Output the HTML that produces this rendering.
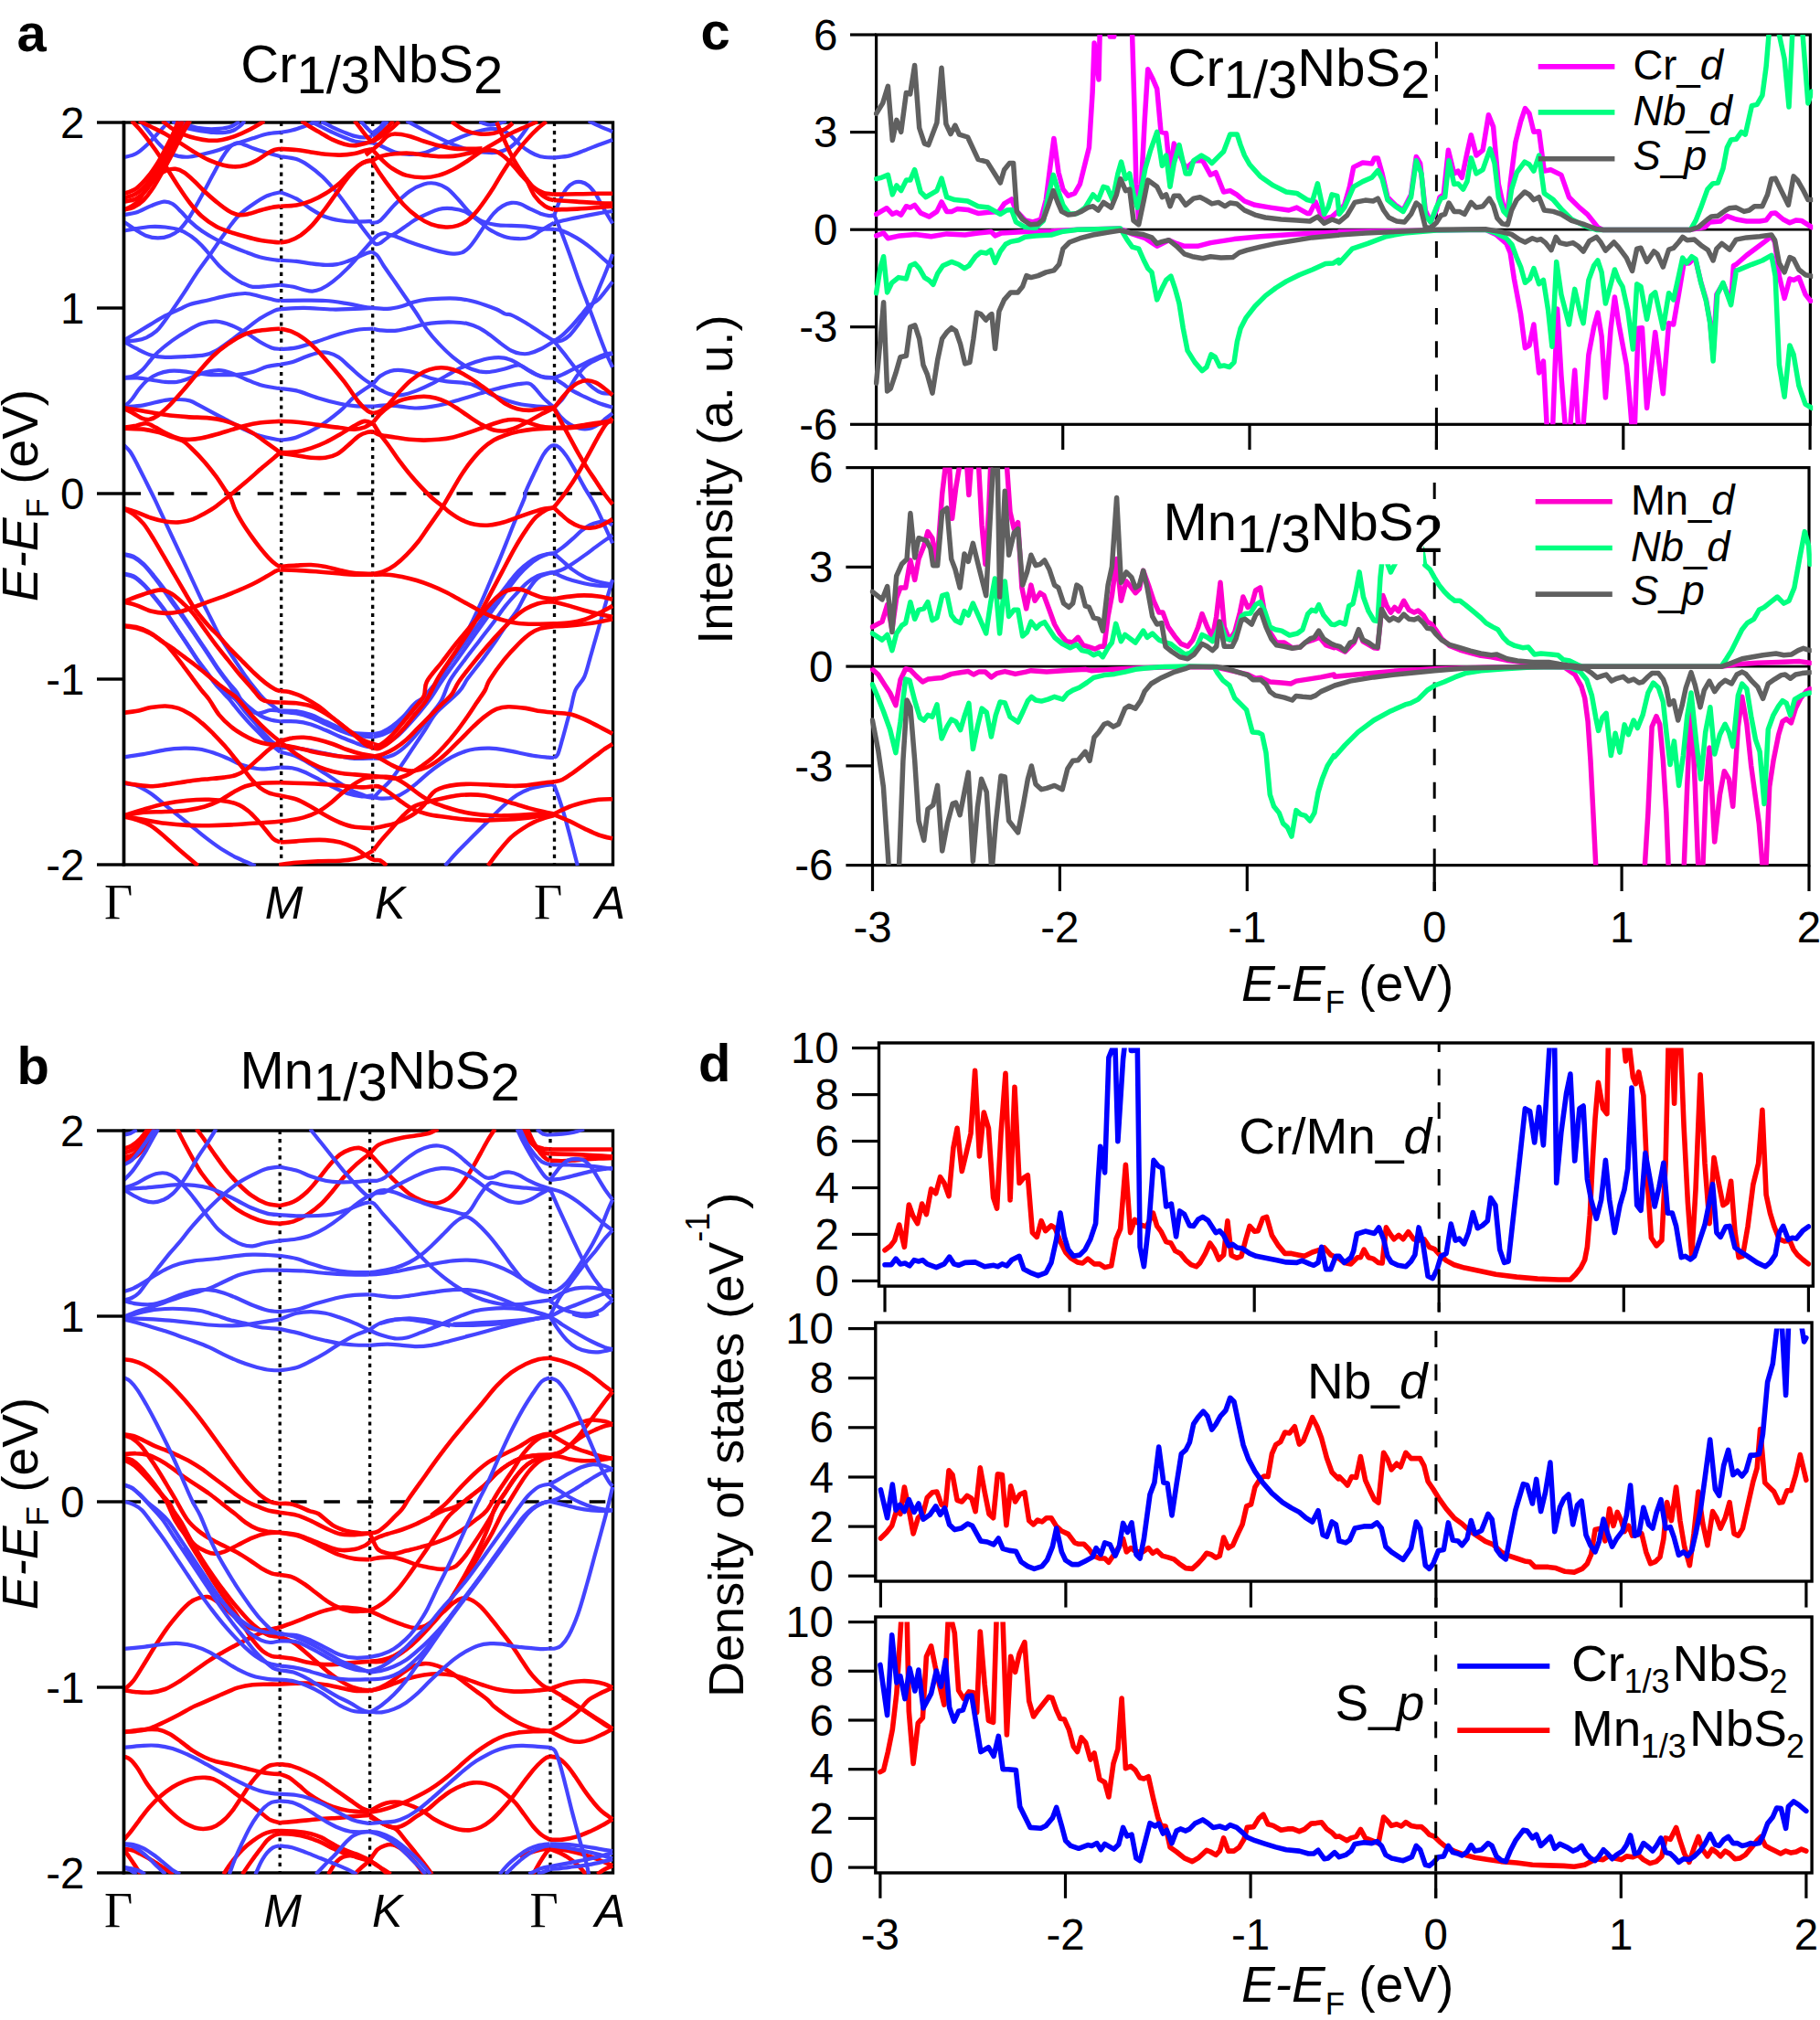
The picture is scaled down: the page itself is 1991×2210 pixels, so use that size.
<!DOCTYPE html>
<html><head><meta charset="utf-8"><title>Band structure and DOS</title>
<style>html,body{margin:0;padding:0;background:#fff}svg{display:block}</style></head>
<body><svg xmlns="http://www.w3.org/2000/svg" width="1991" height="2210" viewBox="0 0 1991 2210">
<rect width="1991" height="2210" fill="#fff"/>
<rect x="135.5" y="134" width="535.0" height="812" fill="none" stroke="#000" stroke-width="3.4"/>
<line x1="307.7" y1="134.0" x2="307.7" y2="946.0" stroke="#000" stroke-width="3.3" stroke-dasharray="4.1 5"/>
<line x1="407.7" y1="134.0" x2="407.7" y2="946.0" stroke="#000" stroke-width="3.3" stroke-dasharray="4.1 5"/>
<line x1="606.5" y1="134.0" x2="606.5" y2="946.0" stroke="#000" stroke-width="3.3" stroke-dasharray="4.1 5"/>
<line x1="136.5" y1="540.0" x2="670.5" y2="540.0" stroke="#000" stroke-width="3.6" stroke-dasharray="17.6 18.7"/>
<clipPath id="clipa"><rect x="135.0" y="132.6" width="537.0" height="814.9"/></clipPath>
<g clip-path="url(#clipa)" fill="none" stroke-linecap="butt" stroke-linejoin="round">
<path d="M135.8,172.2C138.0,171.5 144.6,170.4 148.9,168.0C153.2,165.6 157.7,161.4 161.6,157.7C165.6,153.9 169.6,149.2 172.8,145.7C176.0,142.3 178.8,139.2 180.8,137.0C182.8,134.7 184.1,133.0 184.8,132.2" stroke="#4444ff" stroke-width="4.2"/>
<path d="M153.7,132.2C155.0,133.9 158.5,138.5 161.6,142.5C164.8,146.5 169.1,152.1 172.8,156.1C176.5,160.1 180.2,164.0 184.0,166.4C187.7,168.9 191.1,170.0 195.1,170.9C199.1,171.7 203.1,172.0 207.9,171.5C212.6,171.1 218.5,169.6 223.8,168.3C229.1,167.1 234.9,165.6 239.7,164.0C244.5,162.5 249.0,160.5 252.5,159.3C255.9,158.0 256.5,157.9 260.4,156.5C264.4,155.2 271.1,153.0 276.4,151.3C281.7,149.6 287.3,147.6 292.3,146.5C297.4,145.4 304.3,145.2 306.6,144.9" stroke="#4444ff" stroke-width="4.2"/>
<path d="M306.6,144.9C308.8,144.5 315.1,143.6 319.4,142.5C323.6,141.5 328.2,139.9 332.1,138.5C336.1,137.2 340.4,135.3 343.3,134.2C346.2,133.2 348.6,132.5 349.7,132.2" stroke="#4444ff" stroke-width="4.2"/>
<path d="M135.8,242.9C138.0,244.4 144.9,249.2 148.9,251.7C152.9,254.2 156.1,256.6 160.1,258.0C164.0,259.5 168.6,260.4 172.8,260.4C177.1,260.4 181.6,259.6 185.5,258.0C189.5,256.5 193.0,254.5 196.7,250.9C200.4,247.3 203.9,242.6 207.9,236.5C211.8,230.4 216.4,221.9 220.6,214.2C224.9,206.5 229.6,197.2 233.4,190.3C237.1,183.4 240.0,177.6 242.9,172.8C245.8,168.0 248.5,164.3 250.9,161.6C253.3,159.0 255.1,157.7 257.3,156.9C259.4,156.1 261.8,156.5 263.6,156.9C265.5,157.2 265.0,157.5 268.4,158.8C271.9,160.1 278.0,162.8 284.3,164.8C290.7,166.9 302.9,170.1 306.6,171.2" stroke="#4444ff" stroke-width="4.2"/>
<path d="M306.6,171.2C309.6,171.7 319.1,172.5 324.2,174.1C329.2,175.7 332.1,177.5 336.9,180.8C341.7,184.0 347.5,188.5 352.9,193.5C358.2,198.6 363.7,204.9 368.8,211.0C373.8,217.2 378.6,223.9 383.1,230.2C387.6,236.4 391.8,243.0 395.9,248.5C399.9,254.0 405.4,260.8 407.4,263.3" stroke="#4444ff" stroke-width="4.2"/>
<path d="M407.4,263.3C408.0,263.9 409.6,266.5 411.0,267.0C412.4,267.4 413.8,267.2 415.9,266.0C418.1,264.8 421.6,261.4 423.9,260.0C426.2,258.6 425.8,256.9 429.5,257.6C433.2,258.2 440.3,261.9 446.0,263.9C451.8,266.0 458.1,268.2 463.7,270.0C469.4,271.8 474.7,273.7 480.0,274.9C485.3,276.2 491.4,277.4 495.6,277.6C499.8,277.9 502.2,277.5 505.2,276.4C508.1,275.2 510.5,273.5 513.1,270.8C515.8,268.1 518.2,264.6 521.1,260.4C524.0,256.3 527.5,250.6 530.7,246.1C533.8,241.6 537.0,236.8 540.2,233.4C543.4,229.9 546.6,227.3 549.8,225.4C553.0,223.5 556.2,222.3 559.3,221.9C562.5,221.5 565.4,221.9 568.9,223.0C572.4,224.1 576.3,226.8 580.1,228.6C583.8,230.4 587.8,232.4 591.2,233.7C594.7,234.9 598.3,235.8 600.8,236.1C603.2,236.4 605.2,235.5 606.0,235.4" stroke="#4444ff" stroke-width="4.2"/>
<path d="M135.8,234.9C138.0,234.5 144.1,234.1 148.9,232.6C153.7,231.0 159.8,227.4 164.8,225.4C169.9,223.4 175.2,221.0 179.2,220.6C183.2,220.2 185.5,221.1 188.7,223.0C191.9,224.9 195.1,228.6 198.3,231.8C201.5,234.9 204.1,238.7 207.9,242.1C211.6,245.6 215.8,249.2 220.6,252.5C225.4,255.8 231.2,259.2 236.5,262.0C241.8,264.8 247.2,266.9 252.5,269.2C257.8,271.5 263.1,273.6 268.4,275.6C273.7,277.6 279.0,279.7 284.3,281.2C289.7,282.6 296.6,283.7 300.3,284.3C304.0,285.0 305.6,284.7 306.6,284.8" stroke="#4444ff" stroke-width="4.2"/>
<path d="M306.6,284.8C309.6,285.0 318.6,285.3 324.2,285.9C329.8,286.5 334.8,287.7 340.1,288.3C345.4,289.0 351.3,289.8 356.0,289.9C360.8,290.1 364.8,289.8 368.8,289.1C372.8,288.5 376.1,287.3 379.9,285.9C383.8,284.6 388.7,282.4 392.1,281.0C395.4,279.6 397.5,278.4 400.0,277.5C402.5,276.6 405.9,275.8 407.0,275.4" stroke="#4444ff" stroke-width="4.2"/>
<path d="M407.0,275.4C408.0,276.2 410.9,277.4 413.1,280.0C415.2,282.6 417.0,286.7 419.9,291.0C422.8,295.3 426.9,301.0 430.3,305.9C433.6,310.7 437.1,315.8 440.0,320.0C442.9,324.3 445.2,327.5 447.8,331.3C450.4,335.2 452.6,338.1 455.8,343.0C459.0,347.8 462.9,355.1 466.9,360.5C470.9,365.9 474.9,370.6 479.7,375.6C484.5,380.7 490.3,386.4 495.6,390.8C500.9,395.2 506.8,399.3 511.5,401.9C516.3,404.5 520.3,405.5 524.3,406.4C528.3,407.2 530.9,407.4 535.4,407.0C540.0,406.6 546.1,405.1 551.4,403.8C556.7,402.6 562.8,399.3 567.3,399.5C571.8,399.7 574.5,403.1 578.5,405.1C582.4,407.1 586.6,410.1 591.2,411.5C595.8,412.9 603.6,413.1 606.0,413.4" stroke="#4444ff" stroke-width="4.2"/>
<path d="M135.8,252.5C138.0,252.1 144.1,250.8 148.9,250.1C153.7,249.3 159.5,248.3 164.8,248.0C170.1,247.7 175.5,247.9 180.8,248.5C186.1,249.1 191.9,249.9 196.7,251.7C201.5,253.4 205.5,256.1 209.5,258.8C213.4,261.6 217.2,265.0 220.6,268.4C224.1,271.9 227.0,275.8 230.2,279.6C233.4,283.3 236.0,287.0 239.7,290.7C243.4,294.4 248.2,298.7 252.5,301.9C256.7,305.1 261.2,307.8 265.2,309.8C269.2,311.8 271.9,313.3 276.4,313.8C280.9,314.3 287.3,313.4 292.3,313.0C297.4,312.7 304.3,312.0 306.6,311.7" stroke="#4444ff" stroke-width="4.2"/>
<path d="M306.6,311.7C309.0,312.1 316.7,312.9 321.0,313.8C325.2,314.7 328.7,316.2 332.1,317.0C335.6,317.8 338.5,318.7 341.7,318.6C344.9,318.5 347.5,317.9 351.3,316.2C355.0,314.5 359.2,312.0 364.0,308.2C368.8,304.5 374.8,299.1 379.9,293.9C385.1,288.7 390.5,282.2 395.1,277.0C399.7,271.9 405.3,265.3 407.4,263.0" stroke="#4444ff" stroke-width="4.2"/>
<path d="M407.4,263.0C408.3,262.1 410.8,258.9 413.1,257.6C415.3,256.2 418.3,255.1 421.0,255.0C423.8,254.9 425.3,258.4 429.5,256.9C433.6,255.4 441.5,248.9 446.0,245.9C450.6,242.9 451.4,241.7 457.0,238.9C462.7,236.1 473.6,230.8 480.0,229.0C486.4,227.3 490.9,227.9 495.6,228.3C500.3,228.7 504.1,229.5 508.4,231.4C512.6,233.4 516.6,236.5 521.1,239.7C525.6,243.0 530.4,247.7 535.4,250.9C540.5,254.1 546.1,257.1 551.4,258.8C556.7,260.6 562.5,261.1 567.3,261.2C572.1,261.4 576.1,261.1 580.1,259.6C584.0,258.2 586.9,255.1 591.2,252.5C595.5,249.8 603.6,245.2 606.0,243.7" stroke="#4444ff" stroke-width="4.2"/>
<path d="M606.0,243.7C608.9,243.0 617.6,240.9 623.1,239.7C628.6,238.5 633.7,237.6 639.0,236.5C644.3,235.5 649.8,234.3 654.9,233.4C660.1,232.4 667.6,231.4 670.1,231.0" stroke="#4444ff" stroke-width="4.2"/>
<path d="M135.8,373.2C138.0,373.1 144.9,373.1 148.9,372.4C152.9,371.8 156.3,371.0 160.1,369.3C163.8,367.5 168.0,364.9 171.2,362.1C174.4,359.3 176.5,356.0 179.2,352.5C181.8,349.1 183.4,346.8 187.1,341.4C190.9,336.0 197.0,327.0 201.5,320.2C206.0,313.3 209.5,307.3 214.2,300.3C219.0,293.2 225.1,285.1 230.2,278.0C235.2,270.8 239.5,264.2 244.5,257.3C249.6,250.3 255.1,242.1 260.4,236.5C265.8,231.0 271.1,227.5 276.4,223.8C281.7,220.1 287.3,216.5 292.3,214.2C297.4,212.0 304.3,210.9 306.6,210.2" stroke="#4444ff" stroke-width="4.2"/>
<path d="M306.6,210.2C309.6,211.4 318.6,214.4 324.2,217.4C329.8,220.5 334.8,225.3 340.1,228.6C345.4,231.9 350.7,235.2 356.0,237.3C361.4,239.5 366.7,240.4 372.0,241.3C377.3,242.2 382.1,242.5 387.9,242.6C393.8,242.7 403.8,242.2 407.0,242.1" stroke="#4444ff" stroke-width="4.2"/>
<path d="M407.0,242.1C407.1,242.4 405.7,243.8 407.2,243.7C408.7,243.6 411.8,244.6 415.9,241.3C420.1,238.0 426.6,229.1 431.9,223.8C437.2,218.5 442.5,213.2 447.8,209.5C453.1,205.7 459.0,202.9 463.7,201.5C468.5,200.0 472.2,199.9 476.5,200.7C480.7,201.5 485.0,203.2 489.2,206.3C493.5,209.3 497.7,214.5 502.0,219.0C506.2,223.5 510.5,229.5 514.7,233.4C519.0,237.2 522.7,240.0 527.5,242.1C532.3,244.2 538.1,245.3 543.4,246.1C548.7,246.9 554.0,246.6 559.3,246.9C564.7,247.2 570.0,247.2 575.3,247.7C580.6,248.2 586.1,249.6 591.2,250.1C596.3,250.6 603.6,250.7 606.0,250.9" stroke="#4444ff" stroke-width="4.2"/>
<path d="M606.0,250.9C607.5,251.1 610.9,250.9 615.1,252.5C619.3,254.1 625.7,257.3 631.0,260.4C636.4,263.6 641.9,267.6 647.0,271.6C652.0,275.6 657.5,280.9 661.3,284.3C665.2,287.8 668.6,291.0 670.1,292.3" stroke="#4444ff" stroke-width="4.2"/>
<path d="M135.8,372.0C138.0,370.7 144.1,367.3 148.9,364.5C153.7,361.6 159.5,358.1 164.8,354.9C170.1,351.7 175.5,348.1 180.8,345.4C186.1,342.6 192.2,340.3 196.7,338.2C201.2,336.1 202.5,334.6 207.9,332.9C213.2,331.3 221.7,329.8 228.6,328.2C235.5,326.6 242.6,324.6 249.3,323.4C255.9,322.2 262.6,320.9 268.4,321.0C274.2,321.1 279.0,323.0 284.3,324.2C289.7,325.4 296.6,327.4 300.3,328.2C304.0,329.0 305.6,328.8 306.6,329.0" stroke="#4444ff" stroke-width="4.2"/>
<path d="M306.6,329.0C310.9,328.9 323.9,328.6 332.1,328.6C340.4,328.6 348.1,328.4 356.0,329.0C364.0,329.5 373.3,331.1 379.9,332.1C386.6,333.2 391.4,334.5 395.9,335.3C400.4,336.1 405.2,336.7 407.0,336.9" stroke="#4444ff" stroke-width="4.2"/>
<path d="M407.0,336.9C409.8,337.1 418.4,338.2 423.9,337.9C429.4,337.6 435.1,336.2 439.8,335.0C444.6,333.8 448.1,331.8 452.6,330.5C457.1,329.3 461.9,328.3 466.9,327.7C472.0,327.0 477.5,326.8 482.9,326.6C488.2,326.4 493.5,326.2 498.8,326.6C504.1,327.0 509.4,327.8 514.7,329.0C520.0,330.2 525.9,332.1 530.7,333.7C535.4,335.3 539.7,336.9 543.4,338.5C547.1,340.2 550.3,342.6 553.0,343.6C555.6,344.6 555.6,342.9 559.3,344.6C563.1,346.2 570.0,350.1 575.3,353.3C580.6,356.5 586.1,360.4 591.2,363.7C596.3,367.0 603.6,371.6 606.0,373.2" stroke="#4444ff" stroke-width="4.2"/>
<path d="M135.8,374.0C138.0,375.2 144.1,378.8 148.9,381.2C153.7,383.6 159.5,386.8 164.8,388.4C170.1,390.0 174.1,390.5 180.8,390.8C187.4,391.0 197.5,390.4 204.7,390.0C211.8,389.6 218.5,389.4 223.8,388.4C229.1,387.3 231.8,386.3 236.5,383.6C241.3,380.9 247.2,376.3 252.5,372.4C257.8,368.6 263.1,364.5 268.4,360.5C273.7,356.5 279.0,352.0 284.3,348.5C289.7,345.1 296.6,341.5 300.3,339.8C304.0,338.1 305.6,338.5 306.6,338.2" stroke="#4444ff" stroke-width="4.2"/>
<path d="M306.6,338.2C310.9,338.0 322.6,336.9 332.1,336.9C341.7,337.0 354.7,338.3 364.0,338.5C373.3,338.7 380.5,338.1 387.9,337.9C395.3,337.6 405.2,337.1 408.6,336.9" stroke="#4444ff" stroke-width="4.2"/>
<path d="M188.7,132.2C190.1,133.1 193.5,136.3 196.7,137.7C199.9,139.2 203.9,140.0 207.9,140.9C211.8,141.9 216.4,142.7 220.6,143.3C224.9,144.0 229.1,144.7 233.4,144.9C237.6,145.2 242.4,145.3 246.1,144.9C249.8,144.5 252.7,143.9 255.7,142.5C258.6,141.2 261.6,138.7 263.6,137.0C265.6,135.2 266.9,133.0 267.6,132.2" stroke="#4444ff" stroke-width="4.2"/>
<path d="M195.1,132.2C197.2,133.1 203.1,136.3 207.9,137.7C212.6,139.2 218.5,140.4 223.8,140.9C229.1,141.5 234.9,141.3 239.7,140.9C244.5,140.5 248.8,139.9 252.5,138.5C256.2,137.2 260.4,133.9 262.0,133.0" stroke="#4444ff" stroke-width="4.2"/>
<path d="M340.1,133.0C342.0,133.9 347.3,136.6 351.3,138.5C355.2,140.5 359.8,142.9 364.0,144.9C368.3,146.9 372.8,148.9 376.8,150.5C380.7,152.1 384.2,153.5 387.9,154.5C391.6,155.4 395.9,155.8 399.1,156.1C402.3,156.3 405.7,156.1 407.0,156.1" stroke="#4444ff" stroke-width="4.2"/>
<path d="M407.0,156.1C408.5,156.6 411.8,157.5 415.9,159.3C420.1,161.0 426.6,164.8 431.9,166.4C437.2,168.0 442.5,168.7 447.8,168.8C453.1,169.0 458.4,168.6 463.7,167.2C469.0,165.9 474.4,163.1 479.7,160.9C485.0,158.6 490.3,155.9 495.6,153.7C500.9,151.4 506.2,149.2 511.5,147.3C516.8,145.4 523.0,143.6 527.5,142.5C532.0,141.5 534.9,140.9 538.6,140.9C542.3,140.9 546.3,141.2 549.8,142.5C553.2,143.9 556.2,146.2 559.3,148.9C562.5,151.6 565.4,155.5 568.9,158.5C572.4,161.4 576.3,164.3 580.1,166.4C583.8,168.6 586.9,170.2 591.2,171.2C595.5,172.2 603.6,172.3 606.0,172.5" stroke="#4444ff" stroke-width="4.2"/>
<path d="M606.0,172.5C608.9,172.1 617.6,171.7 623.1,170.4C628.6,169.1 633.7,166.8 639.0,164.8C644.3,162.8 649.8,160.5 654.9,158.5C660.1,156.5 667.6,153.8 670.1,152.9" stroke="#4444ff" stroke-width="4.2"/>
<path d="M351.3,133.0C353.4,134.0 359.8,137.3 364.0,139.3C368.3,141.3 372.8,143.3 376.8,144.9C380.7,146.5 384.2,148.0 387.9,148.9C391.6,149.8 395.9,150.5 399.1,150.5C402.3,150.5 405.7,149.2 407.0,148.9" stroke="#4444ff" stroke-width="4.2"/>
<path d="M407.0,148.9C408.5,147.8 413.1,145.3 415.9,142.5C418.7,139.7 422.6,133.9 423.9,132.2" stroke="#4444ff" stroke-width="4.2"/>
<path d="M394.3,132.2C395.6,133.6 400.1,138.7 402.3,140.9C404.4,143.2 406.2,144.9 407.0,145.7" stroke="#4444ff" stroke-width="4.2"/>
<path d="M407.0,145.7C408.5,144.7 413.7,141.6 415.9,139.3C418.2,137.1 419.9,133.4 420.7,132.2" stroke="#4444ff" stroke-width="4.2"/>
<path d="M444.6,132.2C447.8,133.9 457.4,139.2 463.7,142.5C470.1,145.8 477.0,149.3 482.9,152.1C488.7,154.9 493.5,157.2 498.8,159.3C504.1,161.3 509.4,163.3 514.7,164.5C520.0,165.8 525.9,166.4 530.7,166.7C535.4,167.1 539.2,167.5 543.4,166.7C547.7,166.0 552.4,164.5 556.2,162.4C559.9,160.4 562.8,157.5 565.7,154.5C568.6,151.4 571.3,147.4 573.7,144.1C576.1,140.8 578.7,136.6 580.1,134.6C581.4,132.6 581.4,132.6 581.6,132.2" stroke="#4444ff" stroke-width="4.2"/>
<path d="M524.3,133.0C526.1,133.6 531.7,136.2 535.4,136.5C539.2,136.8 543.5,135.6 546.6,134.9C549.6,134.2 552.6,132.6 553.8,132.2" stroke="#4444ff" stroke-width="4.2"/>
<path d="M643.8,132.2C645.7,133.1 650.6,135.8 654.9,137.7C659.3,139.7 667.6,143.1 670.1,144.1" stroke="#4444ff" stroke-width="4.2"/>
<path d="" stroke="#4444ff" stroke-width="4.2"/>
<path d="M606.0,236.5C607.0,233.9 609.6,225.7 611.9,220.6C614.2,215.6 617.2,209.7 619.9,206.3C622.5,202.8 625.2,201.1 627.9,199.9C630.5,198.7 633.2,198.6 635.8,199.1C638.5,199.6 641.1,200.8 643.8,203.1C646.4,205.3 649.1,208.7 651.8,212.6C654.4,216.6 656.7,221.7 659.7,227.0C662.8,232.3 668.4,241.6 670.1,244.5" stroke="#4444ff" stroke-width="4.2"/>
<path d="" stroke="#4444ff" stroke-width="4.2"/>
<path d="M606.0,234.9C607.3,237.9 610.7,245.3 613.5,252.5C616.4,259.6 619.9,269.2 623.1,278.0C626.3,286.7 629.5,296.3 632.6,305.1C635.8,313.8 639.5,323.4 642.2,330.5C644.9,337.7 646.4,342.0 648.6,347.7C650.7,353.5 652.6,358.9 654.9,365.3C657.3,371.6 660.4,379.9 662.9,386.0C665.4,392.1 668.9,399.3 670.1,401.9" stroke="#4444ff" stroke-width="4.2"/>
<path d="M135.8,413.1C137.5,412.8 142.5,412.8 145.7,411.5C149.0,410.2 152.1,408.0 155.3,405.1C158.5,402.2 161.9,397.3 164.8,394.0C167.8,390.6 168.8,388.8 172.8,385.2C176.8,381.6 183.4,376.3 188.7,372.4C194.0,368.6 199.4,365.1 204.7,362.1C210.0,359.0 215.3,355.8 220.6,354.1C225.9,352.4 231.2,351.5 236.5,351.7C241.8,352.0 247.2,353.7 252.5,355.7C257.8,357.7 263.1,360.6 268.4,363.7C273.7,366.7 279.6,371.2 284.3,374.0C289.1,376.8 293.4,379.1 297.1,380.4C300.8,381.7 305.1,381.7 306.6,382.0" stroke="#4444ff" stroke-width="4.2"/>
<path d="M306.6,382.0C309.6,381.7 317.3,381.9 324.2,380.4C331.1,379.0 340.1,375.8 348.1,373.2C356.0,370.7 364.5,367.4 372.0,365.3C379.4,363.2 386.6,361.4 392.7,360.5C398.8,359.6 406.0,359.8 408.6,359.7" stroke="#4444ff" stroke-width="4.2"/>
<path d="M408.6,359.7C409.8,360.0 412.1,360.9 415.9,361.3C419.8,361.6 426.6,362.2 431.9,361.8C437.2,361.4 442.5,360.0 447.8,358.9C453.1,357.8 458.4,355.9 463.7,354.9C469.0,353.9 474.4,353.2 479.7,352.8C485.0,352.4 490.3,352.3 495.6,352.5C500.9,352.7 506.8,353.1 511.5,354.1C516.3,355.2 520.3,356.9 524.3,358.9C528.3,360.9 531.7,363.4 535.4,366.1C539.2,368.7 542.6,371.9 546.6,374.8C550.6,377.8 555.6,381.6 559.3,383.6C563.1,385.6 565.7,386.3 568.9,386.8C572.1,387.3 574.7,387.6 578.5,386.8C582.2,386.0 586.6,384.3 591.2,382.0C595.8,379.7 603.6,374.7 606.0,373.2" stroke="#4444ff" stroke-width="4.2"/>
<path d="M135.8,413.9C138.3,413.8 145.7,413.1 150.5,413.4C155.3,413.7 159.8,414.7 164.8,415.5C169.9,416.2 176.0,417.5 180.8,417.9C185.5,418.3 189.5,418.4 193.5,417.9C197.5,417.3 201.2,415.9 204.7,414.7C208.1,413.5 210.5,412.0 214.2,410.7C217.9,409.4 222.7,407.6 227.0,406.7C231.2,405.8 235.5,404.9 239.7,405.1C244.0,405.3 247.7,406.4 252.5,408.0C257.3,409.6 263.1,412.5 268.4,414.7C273.7,416.8 279.0,419.5 284.3,421.0C289.7,422.6 296.6,423.6 300.3,424.2C304.0,424.9 305.6,424.9 306.6,425.0" stroke="#4444ff" stroke-width="4.2"/>
<path d="M306.6,425.0C309.6,425.4 317.3,425.7 324.2,427.4C331.1,429.1 340.1,433.0 348.1,435.4C356.0,437.8 365.3,440.3 372.0,441.8C378.6,443.2 381.8,443.7 387.9,444.1C394.0,444.6 405.2,444.5 408.6,444.6" stroke="#4444ff" stroke-width="4.2"/>
<path d="M408.6,444.6C411.2,444.4 418.7,443.3 423.9,443.4C429.1,443.4 434.5,444.4 439.8,444.9C445.1,445.5 450.5,446.5 455.8,446.5C461.1,446.5 466.4,445.7 471.7,444.9C477.0,444.1 482.3,443.1 487.6,441.8C492.9,440.4 498.3,438.6 503.6,437.0C508.9,435.4 514.2,433.8 519.5,432.2C524.8,430.6 530.1,428.9 535.4,427.4C540.8,426.0 546.1,424.6 551.4,423.4C556.7,422.2 562.8,420.9 567.3,420.2C571.8,419.6 575.5,418.8 578.5,419.5C581.4,420.1 582.2,421.6 584.8,424.2C587.5,426.9 590.9,431.8 594.4,435.4C597.9,439.0 604.1,444.0 606.0,445.7" stroke="#4444ff" stroke-width="4.2"/>
<path d="M135.8,444.9C137.2,443.6 141.4,440.2 144.1,437.0C146.8,433.8 149.2,429.4 152.1,425.8C155.0,422.2 158.2,418.3 161.6,415.5C165.1,412.7 168.8,410.7 172.8,409.1C176.8,407.5 181.6,406.4 185.5,405.9C189.5,405.4 192.2,405.6 196.7,405.9C201.2,406.3 207.3,407.3 212.6,408.0C217.9,408.6 223.3,409.5 228.6,409.9C233.9,410.3 239.2,410.2 244.5,410.2C249.8,410.2 255.1,410.4 260.4,409.9C265.8,409.4 271.1,408.5 276.4,407.0C281.7,405.6 287.3,402.5 292.3,401.1C297.4,399.7 304.3,399.1 306.6,398.7" stroke="#4444ff" stroke-width="4.2"/>
<path d="M306.6,398.7C308.8,398.3 314.6,397.8 319.4,396.3C324.2,394.9 330.5,391.7 335.3,390.0C340.1,388.2 344.1,386.7 348.1,386.0C352.1,385.3 355.5,385.2 359.2,386.0C362.9,386.8 366.4,388.1 370.4,390.8C374.4,393.4 378.9,398.2 383.1,401.9C387.4,405.6 391.6,409.8 395.9,413.1C400.1,416.4 406.5,420.4 408.6,421.8" stroke="#4444ff" stroke-width="4.2"/>
<path d="M408.6,421.8C409.8,422.6 412.9,425.0 415.9,426.6C419.0,428.2 423.1,430.5 427.1,431.4C431.1,432.3 435.1,432.9 439.8,432.2C444.6,431.5 450.5,429.4 455.8,427.4C461.1,425.4 466.4,422.9 471.7,420.2C477.0,417.6 482.3,414.4 487.6,411.5C492.9,408.6 498.3,405.2 503.6,402.7C508.9,400.2 514.2,398.1 519.5,396.3C524.8,394.6 530.1,392.8 535.4,392.0C540.8,391.2 546.6,390.8 551.4,391.6C556.2,392.3 560.1,394.4 564.1,396.3C568.1,398.3 571.6,401.3 575.3,403.5C579.0,405.8 583.0,408.3 586.4,409.9C589.9,411.5 592.7,412.5 596.0,413.1C599.3,413.7 604.4,413.3 606.0,413.4" stroke="#4444ff" stroke-width="4.2"/>
<path d="M135.8,445.3C139.3,444.9 149.4,444.6 156.9,443.4C164.4,442.1 174.1,438.8 180.8,437.8C187.4,436.7 192.2,436.8 196.7,437.0C201.2,437.1 203.9,437.2 207.9,438.6C211.8,439.9 214.5,441.8 220.6,444.9C226.7,448.1 236.5,453.4 244.5,457.7C252.5,461.9 261.8,467.3 268.4,470.4C275.0,473.6 278.0,475.0 284.3,476.8C290.7,478.7 302.9,480.8 306.6,481.6" stroke="#4444ff" stroke-width="4.2"/>
<path d="M306.6,481.6C309.6,481.1 317.3,480.8 324.2,478.4C331.1,476.0 340.1,472.0 348.1,467.3C356.0,462.5 365.3,455.3 372.0,449.7C378.6,444.1 381.8,438.8 387.9,433.8C394.0,428.7 405.2,421.8 408.6,419.5" stroke="#4444ff" stroke-width="4.2"/>
<path d="M408.6,419.5C409.8,418.1 412.9,413.7 415.9,411.5C419.0,409.2 423.1,407.0 427.1,405.9C431.1,404.8 435.1,404.7 439.8,405.1C444.6,405.5 450.5,406.8 455.8,408.3C461.1,409.8 466.4,412.4 471.7,413.9C477.0,415.3 481.0,416.1 487.6,417.1C494.3,418.0 506.0,418.5 511.5,419.5C517.1,420.4 517.1,420.8 521.1,422.6C525.1,424.5 530.4,428.2 535.4,430.6C540.5,433.0 546.1,435.1 551.4,437.0C556.7,438.8 562.0,440.6 567.3,441.8C572.6,443.0 576.8,443.5 583.2,444.1C589.7,444.8 602.2,445.5 606.0,445.7" stroke="#4444ff" stroke-width="4.2"/>
<path d="" stroke="#4444ff" stroke-width="4.2"/>
<path d="M606.0,373.2C607.5,372.2 611.7,369.8 615.1,366.9C618.5,363.9 622.8,359.4 626.3,355.7C629.7,352.0 632.9,348.0 635.8,344.6C638.7,341.1 640.6,337.9 643.8,335.0C647.0,332.1 650.6,331.8 654.9,327.4C659.3,322.9 667.6,311.4 670.1,308.2" stroke="#4444ff" stroke-width="4.2"/>
<path d="" stroke="#4444ff" stroke-width="4.2"/>
<path d="M606.0,374.0C607.5,373.8 612.3,373.6 615.1,372.4C618.0,371.2 620.4,369.4 623.1,366.9C625.7,364.3 628.4,360.8 631.0,357.3C633.7,353.9 636.4,349.9 639.0,346.2C641.7,342.4 644.3,340.0 647.0,335.0C649.6,330.0 652.3,322.5 654.9,316.2C657.6,309.9 660.4,303.5 662.9,297.1C665.4,290.7 668.9,281.2 670.1,278.0" stroke="#4444ff" stroke-width="4.2"/>
<path d="" stroke="#4444ff" stroke-width="4.2"/>
<path d="M606.0,373.2C607.5,375.1 611.7,380.1 615.1,384.4C618.5,388.6 622.3,393.7 626.3,398.7C630.2,403.8 635.3,410.4 639.0,414.7C642.7,418.9 645.4,421.7 648.6,424.2C651.8,426.8 654.5,428.7 658.1,429.8C661.7,430.9 668.1,430.5 670.1,430.6" stroke="#4444ff" stroke-width="4.2"/>
<path d="" stroke="#4444ff" stroke-width="4.2"/>
<path d="M606.0,413.4C607.5,412.8 610.9,411.8 615.1,409.9C619.3,408.0 625.7,404.6 631.0,401.9C636.4,399.3 642.2,396.2 647.0,394.0C651.8,391.7 655.9,389.7 659.7,388.4C663.6,387.1 668.4,386.7 670.1,386.3" stroke="#4444ff" stroke-width="4.2"/>
<path d="" stroke="#4444ff" stroke-width="4.2"/>
<path d="M606.0,413.9C607.5,414.8 611.7,417.2 615.1,419.5C618.5,421.7 622.3,425.0 626.3,427.4C630.2,429.8 634.2,431.5 639.0,433.8C643.8,436.0 649.8,439.0 654.9,441.0C660.1,443.0 667.6,444.9 670.1,445.7" stroke="#4444ff" stroke-width="4.2"/>
<path d="" stroke="#4444ff" stroke-width="4.2"/>
<path d="M606.0,445.7C607.3,447.5 610.7,453.0 613.5,456.1C616.4,459.2 619.6,461.9 623.1,464.1C626.5,466.2 630.5,468.0 634.2,468.8C637.9,469.6 641.9,469.6 645.4,468.8C648.8,468.0 652.0,465.9 654.9,464.1C657.9,462.2 660.4,459.7 662.9,457.7C665.4,455.7 668.9,453.0 670.1,452.1" stroke="#4444ff" stroke-width="4.2"/>
<path d="" stroke="#4444ff" stroke-width="4.2"/>
<path d="M606.0,445.7C607.5,444.3 612.3,440.6 615.1,437.0C618.0,433.4 620.4,428.5 623.1,424.2C625.7,420.0 628.4,415.2 631.0,411.5C633.7,407.8 636.4,404.4 639.0,401.9C641.7,399.4 644.3,397.9 647.0,396.3C649.6,394.8 652.3,393.6 654.9,392.4C657.6,391.2 660.4,390.1 662.9,389.2C665.4,388.2 668.9,387.2 670.1,386.8" stroke="#4444ff" stroke-width="4.2"/>
<path d="M135.8,487.2C137.0,488.4 140.1,490.8 142.5,494.3C145.0,497.9 147.6,503.1 150.5,508.7C153.4,514.3 156.9,521.4 160.1,527.8C163.2,534.2 166.7,540.9 169.6,546.9C172.5,553.0 174.4,557.3 177.6,564.1C180.8,571.0 185.0,580.1 188.7,588.0C192.5,596.0 196.2,604.0 199.9,611.9C203.6,619.9 207.6,628.4 211.0,635.8C214.5,643.3 217.4,649.9 220.6,656.5C223.8,663.2 227.0,669.3 230.2,675.7C233.4,682.0 236.5,688.9 239.7,694.8C242.9,700.6 246.1,705.7 249.3,710.7C252.5,715.8 255.7,720.3 258.8,725.1C262.0,729.8 265.2,734.9 268.4,739.4C271.6,743.9 275.0,748.4 278.0,752.1C280.9,755.9 284.1,759.6 285.9,761.7C287.8,763.9 287.0,763.2 289.1,765.0C291.2,766.8 295.8,770.2 298.7,772.5C301.6,774.8 305.3,777.8 306.6,778.9" stroke="#4444ff" stroke-width="4.2"/>
<path d="M306.6,778.9C309.6,779.2 318.6,779.5 324.2,780.5C329.8,781.5 334.8,783.0 340.1,785.0C345.4,786.9 350.7,789.6 356.0,792.0C361.4,794.4 366.7,797.2 372.0,799.3C377.3,801.4 381.8,803.5 387.9,804.7C394.0,805.9 405.2,806.0 408.6,806.3" stroke="#4444ff" stroke-width="4.2"/>
<path d="M408.6,806.3C410.4,805.9 415.2,805.2 419.1,803.6C423.0,802.0 427.6,799.8 431.9,796.7C436.1,793.7 440.4,789.6 444.6,785.3C448.9,781.0 453.1,776.0 457.4,770.9C461.6,765.9 465.9,760.3 470.1,755.0C474.4,749.7 478.6,745.4 482.9,739.4C487.1,733.3 491.4,725.9 495.6,718.7C499.9,711.5 504.6,703.3 508.4,696.4C512.1,689.5 514.7,683.9 517.9,677.3C521.1,670.6 524.3,663.7 527.5,656.5C530.7,649.4 533.8,641.7 537.0,634.2C540.2,626.8 543.4,619.6 546.6,611.9C549.8,604.2 553.0,596.0 556.2,588.0C559.3,580.1 562.8,571.3 565.7,564.1C568.6,557.0 572.1,549.5 573.7,545.0C575.3,540.5 573.4,542.1 575.3,537.4C577.1,532.6 581.6,523.3 584.8,516.6C588.0,510.0 591.7,502.0 594.4,497.5C597.1,493.0 598.8,491.3 600.8,489.6C602.7,487.8 604.2,487.2 606.0,487.2C607.9,487.2 609.6,487.6 611.9,489.6C614.2,491.6 617.0,494.9 619.9,499.1C622.8,503.4 626.3,509.5 629.5,515.1C632.6,520.6 635.8,527.0 639.0,532.6C642.2,538.2 645.9,543.8 648.6,548.5C651.2,553.2 652.6,555.9 654.9,560.9C657.3,565.9 660.4,572.9 662.9,578.5C665.4,584.0 668.9,591.7 670.1,594.4" stroke="#4444ff" stroke-width="4.2"/>
<path d="M135.8,606.3C137.5,606.7 142.2,607.0 145.7,608.7C149.2,610.5 153.2,613.3 156.9,616.7C160.6,620.2 164.3,624.9 168.0,629.5C171.7,634.0 175.5,638.7 179.2,643.8C182.9,648.8 186.6,654.4 190.3,659.7C194.0,665.0 198.0,670.6 201.5,675.7C204.9,680.7 207.9,685.2 211.0,690.0C214.2,694.8 217.4,699.6 220.6,704.3C223.8,709.1 227.0,713.9 230.2,718.7C233.4,723.5 236.5,728.5 239.7,733.0C242.9,737.5 246.1,741.8 249.3,745.8C252.5,749.8 256.5,753.7 258.8,756.9C261.2,760.1 261.0,761.9 263.6,765.0C266.3,768.2 271.1,772.6 274.8,775.7C278.5,778.8 282.2,781.7 285.9,783.7C289.7,785.7 293.6,786.7 297.1,787.7C300.5,788.6 305.1,789.0 306.6,789.3" stroke="#4444ff" stroke-width="4.2"/>
<path d="M306.6,789.3C309.6,789.3 318.6,788.7 324.2,789.3C329.8,789.8 334.8,790.9 340.1,792.4C345.4,794.0 350.7,796.6 356.0,798.8C361.4,801.1 366.7,803.7 372.0,806.0C377.3,808.2 383.4,810.6 387.9,812.4C392.4,814.1 395.6,815.5 399.1,816.3C402.5,817.2 407.0,817.3 408.6,817.5" stroke="#4444ff" stroke-width="4.2"/>
<path d="M408.6,817.5C410.1,817.1 413.7,817.2 417.5,815.5C421.4,813.9 427.4,810.9 431.9,807.6C436.4,804.3 440.4,800.0 444.6,795.6C448.9,791.2 453.1,786.3 457.4,781.3C461.6,776.2 465.9,771.3 470.1,765.4C474.4,759.4 478.1,752.8 482.9,745.8C487.6,738.8 493.5,730.9 498.8,723.5C504.1,716.0 509.4,708.6 514.7,701.2C520.0,693.7 525.9,685.5 530.7,678.8C535.4,672.2 539.2,667.2 543.4,661.3C547.7,655.5 552.2,649.1 556.2,643.8C560.1,638.5 563.6,633.7 567.3,629.5C571.0,625.2 574.7,621.5 578.5,618.3C582.2,615.1 586.2,612.3 589.6,610.3C593.1,608.3 596.4,607.1 599.2,606.3C601.9,605.5 604.9,605.7 606.0,605.5" stroke="#4444ff" stroke-width="4.2"/>
<path d="M606.0,605.5C607.5,604.5 611.7,601.8 615.1,599.2C618.5,596.5 622.8,592.7 626.3,589.6C629.7,586.6 632.6,583.4 635.8,580.9C639.0,578.3 642.2,576.1 645.4,574.5C648.6,572.9 652.0,572.0 654.9,571.3C657.9,570.6 660.4,570.0 662.9,570.5C665.4,571.0 668.9,573.8 670.1,574.5" stroke="#4444ff" stroke-width="4.2"/>
<path d="M135.8,606.8C137.6,607.4 142.9,608.0 146.5,610.0C150.1,612.0 153.9,615.0 157.7,618.6C161.4,622.3 165.1,627.1 168.8,631.8C172.5,636.6 176.3,641.8 180.0,647.0C183.7,652.2 187.4,657.7 191.1,662.9C194.8,668.2 198.8,673.6 202.3,678.5C205.7,683.4 208.7,687.7 211.8,692.4C215.0,697.1 218.2,702.0 221.4,706.7C224.6,711.5 227.8,716.3 231.0,721.1C234.1,725.9 237.2,730.8 240.5,735.4C243.8,740.1 248.1,744.9 250.9,749.0C253.7,753.0 254.3,755.9 257.3,759.8C260.2,763.7 264.4,769.1 268.4,772.5C272.4,776.0 276.6,779.8 281.2,780.5C285.7,781.2 291.2,777.5 295.5,777.0C299.7,776.5 304.8,777.5 306.6,777.6" stroke="#4444ff" stroke-width="4.2"/>
<path d="M306.6,777.6C309.6,777.7 318.6,777.4 324.2,778.1C329.8,778.8 334.8,780.2 340.1,782.1C345.4,783.9 350.7,786.9 356.0,789.3C361.4,791.6 366.7,794.3 372.0,796.4C377.3,798.6 381.8,800.9 387.9,802.0C394.0,803.1 405.2,802.9 408.6,803.1" stroke="#4444ff" stroke-width="4.2"/>
<path d="M408.6,803.1C410.1,802.8 414.2,802.6 417.5,801.2C420.9,799.8 424.7,797.8 428.7,794.8C432.7,791.9 437.2,787.9 441.4,783.7C445.7,779.4 449.4,773.5 454.2,769.3C459.0,765.1 465.3,763.8 470.1,758.5C474.9,753.3 478.1,744.8 482.9,737.8C487.6,730.8 493.5,723.5 498.8,716.3C504.1,709.1 509.4,702.1 514.7,694.8C520.0,687.5 525.9,679.1 530.7,672.5C535.4,665.8 539.2,660.7 543.4,654.9C547.7,649.2 552.2,643.3 556.2,638.2C560.1,633.2 563.6,628.5 567.3,624.7C571.0,620.8 574.7,617.8 578.5,615.1C582.2,612.5 586.2,610.2 589.6,608.7C593.1,607.2 596.4,606.6 599.2,606.0C601.9,605.5 604.9,605.6 606.0,605.5" stroke="#4444ff" stroke-width="4.2"/>
<path d="M606.0,605.5C607.5,606.9 611.7,610.6 615.1,613.5C618.5,616.4 622.3,620.2 626.3,623.1C630.2,626.0 634.8,628.9 639.0,631.0C643.3,633.2 647.8,634.6 651.8,635.8C655.7,637.0 659.9,637.7 662.9,638.2C666.0,638.7 668.9,638.9 670.1,639.0" stroke="#4444ff" stroke-width="4.2"/>
<path d="M135.8,627.9C137.5,628.3 142.2,628.4 145.7,630.2C149.2,632.1 153.2,635.4 156.9,639.0C160.6,642.6 164.3,647.2 168.0,651.8C171.7,656.3 175.7,661.3 179.2,666.1C182.6,670.9 185.5,675.7 188.7,680.4C191.9,685.2 195.1,690.0 198.3,694.8C201.5,699.6 204.7,704.3 207.9,709.1C211.0,713.9 214.2,718.9 217.4,723.5C220.6,728.0 223.8,732.0 227.0,736.2C230.2,740.5 233.4,745.0 236.5,749.0C239.7,752.9 243.7,757.4 246.1,760.1C248.5,762.8 248.2,761.9 250.9,765.0C253.5,768.2 258.3,774.5 262.0,778.9C265.8,783.3 269.5,787.7 273.2,791.6C276.9,795.6 280.9,799.3 284.3,802.8C287.8,806.3 290.2,809.0 293.9,812.4C297.6,815.7 304.5,821.0 306.6,822.7" stroke="#4444ff" stroke-width="4.2"/>
<path d="M306.6,822.7C309.6,823.5 318.6,825.2 324.2,827.5C329.8,829.8 334.8,833.1 340.1,836.3C345.4,839.5 350.7,843.2 356.0,846.6C361.4,850.1 366.7,853.7 372.0,857.0C377.3,860.3 383.4,864.1 387.9,866.5C392.4,868.9 395.6,870.3 399.1,871.3C402.5,872.4 407.0,872.6 408.6,872.9" stroke="#4444ff" stroke-width="4.2"/>
<path d="M408.6,872.9C409.8,871.6 412.9,868.1 415.9,864.9C419.0,861.8 423.1,858.6 427.1,853.8C431.1,849.0 435.6,842.4 439.8,836.3C444.1,830.2 448.3,823.5 452.6,817.1C456.8,810.8 461.1,804.4 465.3,798.0C469.6,791.6 472.0,785.8 478.1,778.9C484.2,772.1 496.4,763.0 502.0,756.9C507.6,750.9 507.3,748.4 511.5,742.6C515.8,736.7 522.7,728.2 527.5,721.9C532.3,715.5 536.0,710.4 540.2,704.3C544.5,698.2 548.7,691.3 553.0,685.2C557.2,679.1 561.7,674.1 565.7,667.7C569.7,661.3 573.2,652.8 576.9,647.0C580.6,641.1 584.3,635.9 588.0,632.6C591.7,629.4 596.2,628.6 599.2,627.5C602.2,626.5 604.9,626.5 606.0,626.3" stroke="#4444ff" stroke-width="4.2"/>
<path d="M606.0,626.3C607.5,625.7 611.7,624.7 615.1,623.1C618.5,621.5 622.3,619.2 626.3,616.7C630.2,614.2 634.8,611.0 639.0,607.9C643.3,604.9 647.8,601.3 651.8,598.4C655.7,595.5 659.9,592.5 662.9,590.4C666.0,588.3 668.9,586.4 670.1,585.6" stroke="#4444ff" stroke-width="4.2"/>
<path d="M135.8,628.3C137.6,628.8 142.9,629.3 146.5,631.4C150.1,633.4 153.9,636.9 157.7,640.6C161.4,644.3 165.1,649.1 168.8,653.7C172.5,658.2 176.5,663.2 180.0,668.0C183.4,672.8 186.3,677.6 189.5,682.4C192.7,687.1 195.9,691.9 199.1,696.7C202.3,701.5 205.5,706.3 208.7,711.0C211.8,715.8 215.0,720.9 218.2,725.4C221.4,729.9 224.5,733.8 227.8,738.1C231.1,742.4 235.1,748.0 238.1,751.3C241.2,754.7 242.9,755.9 246.1,758.2C249.3,760.5 253.5,761.6 257.3,765.0C261.0,768.5 264.7,774.5 268.4,778.9C272.1,783.3 275.8,787.4 279.6,791.6C283.3,795.9 287.5,800.9 290.7,804.4C293.9,807.8 296.0,810.1 298.7,812.4C301.3,814.6 305.3,817.0 306.6,817.9" stroke="#4444ff" stroke-width="4.2"/>
<path d="M306.6,817.9C309.6,818.1 318.6,818.2 324.2,818.7C329.8,819.3 334.8,820.2 340.1,821.1C345.4,822.1 350.7,823.3 356.0,824.3C361.4,825.4 366.7,826.6 372.0,827.5C377.3,828.4 381.8,829.5 387.9,829.9C394.0,830.2 405.2,829.6 408.6,829.6" stroke="#4444ff" stroke-width="4.2"/>
<path d="M408.6,829.6C410.4,829.5 415.2,829.8 419.1,829.1C423.0,828.3 427.6,827.4 431.9,825.1C436.1,822.9 440.4,819.5 444.6,815.5C448.9,811.6 453.1,806.5 457.4,801.2C461.6,795.9 465.9,789.5 470.1,783.7C474.4,777.8 479.1,772.7 482.9,766.2C486.6,759.6 488.2,751.6 492.4,744.2C496.7,736.8 503.0,729.0 508.4,721.9C513.7,714.7 519.0,708.1 524.3,701.2C529.6,694.2 535.4,686.8 540.2,680.4C545.0,674.1 548.7,668.2 553.0,662.9C557.2,657.6 561.7,652.8 565.7,648.6C569.7,644.3 573.2,640.5 576.9,637.4C580.6,634.4 584.3,632.0 588.0,630.2C591.7,628.5 596.2,627.7 599.2,627.1C602.2,626.4 604.9,626.4 606.0,626.3" stroke="#4444ff" stroke-width="4.2"/>
<path d="M606.0,626.3C607.5,627.1 611.7,629.6 615.1,631.0C618.5,632.5 622.3,633.8 626.3,635.0C630.2,636.2 634.8,637.3 639.0,638.2C643.3,639.1 647.8,639.8 651.8,640.3C655.7,640.8 659.9,641.0 662.9,641.1C666.0,641.1 668.9,640.7 670.1,640.6" stroke="#4444ff" stroke-width="4.2"/>
<path d="M670.1,634.2C669.2,637.4 666.5,646.4 664.5,653.4C662.5,660.3 660.3,668.2 658.1,675.7C656.0,683.1 653.9,690.5 651.8,698.0C649.6,705.4 647.5,713.1 645.4,720.3C643.3,727.4 641.7,735.2 639.0,741.0C636.4,746.8 631.8,749.5 629.5,755.0C627.1,760.5 626.3,768.0 624.7,774.1C623.1,780.2 621.5,785.8 619.9,791.6C618.3,797.5 616.7,803.6 615.1,809.2C613.5,814.8 611.8,821.8 610.3,825.1C608.8,828.4 606.7,828.4 606.0,829.1" stroke="#4444ff" stroke-width="4.2"/>
<path d="M606.0,829.1C604.9,829.0 603.0,829.0 599.2,828.6C595.4,828.2 588.6,827.6 583.2,826.7C577.9,825.9 572.6,824.6 567.3,823.5C562.0,822.5 556.7,821.1 551.4,820.3C546.1,819.5 540.8,818.9 535.4,818.7C530.1,818.6 524.3,818.9 519.5,819.5C514.7,820.2 511.0,821.3 506.8,822.7C502.5,824.2 498.3,826.0 494.0,828.3C489.8,830.6 485.5,833.3 481.3,836.3C477.0,839.2 472.8,842.4 468.5,845.8C464.3,849.3 460.0,853.5 455.8,857.0C451.5,860.4 447.0,864.0 443.0,866.5C439.0,869.1 435.9,870.9 431.9,872.1C427.9,873.3 423.2,873.7 419.1,873.7C415.0,873.7 409.2,872.4 407.2,872.1" stroke="#4444ff" stroke-width="4.2"/>
<path d="M407.2,872.1C405.8,871.8 402.3,871.5 399.1,870.5C395.9,869.6 391.1,866.9 387.9,866.5C384.7,866.1 381.3,867.9 379.9,868.1" stroke="#4444ff" stroke-width="4.2"/>
<path d="M135.8,828.3C139.3,827.8 149.4,826.4 156.9,825.1C164.4,823.8 173.3,821.4 180.8,820.3C188.2,819.3 195.4,818.9 201.5,818.7C207.6,818.6 212.1,818.7 217.4,819.5C222.7,820.3 228.0,821.8 233.4,823.5C238.7,825.2 244.0,827.6 249.3,829.9C254.6,832.1 259.9,835.2 265.2,837.1C270.5,838.9 276.4,840.4 281.2,841.0C285.9,841.7 289.7,841.3 293.9,841.0C298.2,840.8 304.5,839.7 306.6,839.5" stroke="#4444ff" stroke-width="4.2"/>
<path d="M306.6,839.5C308.8,839.6 315.1,839.5 319.4,840.2C323.6,841.0 327.4,842.2 332.1,844.2C336.9,846.2 342.8,849.4 348.1,852.2C353.4,855.0 358.7,858.3 364.0,861.0C369.3,863.6 374.6,866.4 379.9,868.1C385.3,869.9 391.1,871.0 395.9,871.3C400.7,871.6 406.5,870.3 408.6,870.0" stroke="#4444ff" stroke-width="4.2"/>
<path d="M135.8,857.0C138.0,857.4 144.1,857.5 148.9,859.4C153.7,861.2 159.5,864.5 164.8,868.1C170.1,871.7 175.5,876.6 180.8,880.9C186.1,885.1 191.4,889.4 196.7,893.6C202.0,897.9 207.3,902.1 212.6,906.4C217.9,910.6 223.3,915.1 228.6,919.1C233.9,923.1 239.2,927.0 244.5,930.3C249.8,933.6 254.6,936.2 260.4,939.0C266.3,941.9 276.4,946.1 279.6,947.5" stroke="#4444ff" stroke-width="4.2"/>
<path d="M486.8,947.0C489.4,944.2 496.8,935.7 502.0,930.3C507.2,924.8 512.6,919.7 517.9,914.3C523.2,909.0 528.5,903.7 533.8,898.4C539.2,893.1 544.5,887.3 549.8,882.5C555.1,877.7 560.9,872.9 565.7,869.7C570.5,866.5 574.2,864.9 578.5,863.4C582.7,861.8 587.5,861.0 591.2,860.2C594.9,859.4 598.3,858.8 600.8,858.6C603.2,858.3 605.2,858.6 606.0,858.6" stroke="#4444ff" stroke-width="4.2"/>
<path d="M606.0,858.6C607.0,861.2 609.9,868.4 611.9,874.5C614.0,880.6 616.2,887.8 618.3,895.2C620.4,902.7 622.4,910.5 624.7,919.1C626.9,927.8 630.6,942.4 631.8,947.0" stroke="#4444ff" stroke-width="4.2"/>
<path d="M135.8,211.8C138.0,210.9 144.6,209.3 148.9,206.3C153.2,203.2 157.7,198.3 161.6,193.5C165.6,188.7 169.3,183.2 172.8,177.6C176.3,172.0 179.4,165.6 182.4,160.1C185.3,154.5 188.2,148.8 190.3,144.1C192.5,139.5 194.3,134.2 195.1,132.2" stroke="#ff0000" stroke-width="4.6"/>
<path d="M135.8,216.6C138.0,215.8 144.6,214.6 148.9,211.8C153.2,209.1 157.7,204.5 161.6,199.9C165.6,195.2 169.1,189.8 172.8,184.0C176.5,178.1 180.5,171.2 184.0,164.8C187.4,158.5 190.9,151.2 193.5,145.7C196.2,140.3 198.8,134.4 199.9,132.2" stroke="#ff0000" stroke-width="4.6"/>
<path d="M135.8,220.6C138.0,220.1 144.9,219.5 148.9,217.4C152.9,215.3 156.3,212.1 160.1,207.9C163.8,203.6 167.5,197.8 171.2,191.9C174.9,186.1 178.6,179.4 182.4,172.8C186.1,166.2 190.3,157.7 193.5,152.1C196.7,146.5 199.4,142.7 201.5,139.3C203.6,136.0 205.5,133.4 206.3,132.2" stroke="#ff0000" stroke-width="4.6"/>
<path d="M135.8,229.4C137.5,229.0 142.2,228.7 145.7,227.0C149.2,225.3 153.2,222.7 156.9,219.0C160.6,215.3 164.3,210.2 168.0,204.7C171.7,199.1 175.7,191.7 179.2,185.5C182.6,179.4 185.5,174.1 188.7,168.0C191.9,161.9 195.1,154.9 198.3,148.9C201.5,142.9 206.3,135.0 207.9,132.2" stroke="#ff0000" stroke-width="4.6"/>
<path d="M135.8,229.4C138.0,228.2 144.6,226.3 148.9,222.2C153.2,218.1 157.7,209.7 161.6,204.7C165.6,199.6 169.3,195.0 172.8,191.9C176.3,188.9 179.2,187.5 182.4,186.3C185.5,185.2 188.7,184.4 191.9,184.8C195.1,185.2 198.0,186.5 201.5,188.7C204.9,191.0 208.9,194.8 212.6,198.3C216.4,201.7 219.8,205.7 223.8,209.5C227.8,213.2 232.3,217.2 236.5,220.6C240.8,224.1 245.3,227.8 249.3,230.2C253.3,232.6 256.7,234.3 260.4,234.9C264.2,235.6 267.6,234.9 271.6,234.1C275.6,233.4 280.1,231.4 284.3,230.2C288.6,229.0 293.4,227.7 297.1,227.0C300.8,226.2 305.1,225.9 306.6,225.7" stroke="#ff0000" stroke-width="4.6"/>
<path d="M306.6,225.7C309.6,225.5 318.6,225.6 324.2,224.6C329.8,223.6 334.8,221.9 340.1,219.8C345.4,217.7 350.7,215.2 356.0,211.8C361.4,208.5 367.5,203.7 372.0,199.9C376.5,196.0 379.7,191.9 383.1,188.7C386.6,185.5 389.8,182.8 392.7,180.8C395.6,178.8 398.3,177.6 400.7,176.8C403.0,176.0 406.0,176.1 407.0,176.0" stroke="#ff0000" stroke-width="4.6"/>
<path d="M407.0,176.0C408.5,175.2 411.8,172.5 415.9,171.2C420.1,169.9 426.6,168.9 431.9,168.3C437.2,167.8 442.5,167.5 447.8,167.7C453.1,167.9 458.4,169.0 463.7,169.6C469.0,170.2 474.4,171.0 479.7,171.2C485.0,171.4 490.3,171.4 495.6,170.9C500.9,170.4 506.2,169.0 511.5,168.0C516.8,167.0 522.7,165.4 527.5,164.8C532.3,164.3 536.2,163.8 540.2,164.8C544.2,165.9 547.7,168.3 551.4,171.2C555.1,174.1 559.1,178.6 562.5,182.4C566.0,186.1 568.6,189.8 572.1,193.5C575.5,197.2 579.5,201.7 583.2,204.7C587.0,207.6 590.6,209.7 594.4,211.0C598.2,212.4 604.1,212.4 606.0,212.6" stroke="#ff0000" stroke-width="4.6"/>
<path d="M606.0,212.6C610.2,212.6 622.9,212.5 631.0,212.3C639.2,212.2 648.4,211.9 654.9,211.8C661.5,211.8 667.6,211.8 670.1,211.8" stroke="#ff0000" stroke-width="4.6"/>
<path d="M144.1,132.2C145.7,133.9 150.2,138.4 153.7,142.5C157.1,146.6 161.1,151.8 164.8,156.9C168.6,161.9 172.5,167.5 176.0,172.8C179.4,178.1 182.1,183.2 185.5,188.7C189.0,194.3 193.0,200.7 196.7,206.3C200.4,211.8 203.9,217.2 207.9,222.2C211.8,227.2 215.8,232.3 220.6,236.5C225.4,240.8 231.2,244.8 236.5,247.7C241.8,250.6 247.2,252.2 252.5,254.1C257.8,255.9 263.1,257.4 268.4,258.8C273.7,260.3 279.0,261.8 284.3,262.8C289.7,263.8 296.6,264.5 300.3,264.9C304.0,265.3 305.6,265.2 306.6,265.2" stroke="#ff0000" stroke-width="4.6"/>
<path d="M306.6,265.2C308.2,265.0 312.5,265.0 316.2,263.6C319.9,262.3 324.7,260.2 329.0,257.3C333.2,254.3 337.5,250.6 341.7,246.1C346.0,241.6 350.2,235.7 354.5,230.2C358.7,224.6 362.9,218.5 367.2,212.6C371.4,206.8 375.7,200.4 379.9,195.1C384.2,189.8 389.0,184.0 392.7,180.8C396.4,177.6 399.9,176.8 402.3,176.0C404.6,175.2 406.2,176.0 407.0,176.0" stroke="#ff0000" stroke-width="4.6"/>
<path d="M407.0,176.0C408.5,178.4 412.3,185.0 415.9,190.3C419.5,195.6 424.4,202.3 428.7,207.9C432.9,213.4 436.9,219.0 441.4,223.8C445.9,228.6 450.7,233.0 455.8,236.5C460.8,240.1 466.4,243.3 471.7,245.3C477.0,247.3 482.9,248.2 487.6,248.5C492.4,248.8 496.4,248.1 500.4,246.9C504.4,245.7 508.1,243.8 511.5,241.3C515.0,238.8 517.9,235.5 521.1,231.8C524.3,228.0 527.5,223.5 530.7,219.0C533.8,214.5 537.0,209.7 540.2,204.7C543.4,199.6 546.6,193.8 549.8,188.7C553.0,183.7 556.2,178.9 559.3,174.4C562.5,169.9 565.7,165.6 568.9,161.6C572.1,157.7 575.3,153.9 578.5,150.5C581.6,147.0 584.8,143.9 588.0,140.9C591.2,138.0 596.0,134.3 597.6,133.0" stroke="#ff0000" stroke-width="4.6"/>
<path d="M152.1,132.2C154.2,133.2 160.1,136.2 164.8,138.5C169.6,140.9 175.5,143.6 180.8,146.5C186.1,149.4 191.4,152.8 196.7,156.1C202.0,159.4 207.3,163.2 212.6,166.4C217.9,169.6 223.3,172.8 228.6,175.2C233.9,177.6 239.7,179.6 244.5,180.8C249.3,182.0 253.3,182.4 257.3,182.4C261.2,182.4 264.4,182.0 268.4,180.8C272.4,179.6 277.2,177.3 281.2,175.2C285.1,173.1 289.1,169.9 292.3,168.0C295.5,166.2 297.9,164.9 300.3,164.0C302.7,163.2 305.6,163.1 306.6,162.9" stroke="#ff0000" stroke-width="4.6"/>
<path d="M306.6,162.9C309.6,163.1 318.6,163.5 324.2,164.0C329.8,164.6 334.8,165.6 340.1,166.4C345.4,167.2 350.7,168.3 356.0,168.8C361.4,169.3 366.7,169.7 372.0,169.6C377.3,169.5 383.4,168.8 387.9,168.0C392.4,167.2 395.9,165.6 399.1,164.8C402.3,164.0 405.7,163.5 407.0,163.2" stroke="#ff0000" stroke-width="4.6"/>
<path d="M407.0,163.2C408.5,164.8 412.3,169.3 415.9,172.8C419.5,176.3 423.9,180.8 428.7,184.0C433.5,187.1 438.8,190.2 444.6,191.9C450.5,193.6 457.9,194.3 463.7,194.3C469.6,194.3 474.4,193.4 479.7,191.9C485.0,190.5 490.3,188.2 495.6,185.5C500.9,182.9 506.2,179.4 511.5,176.0C516.8,172.5 522.2,168.3 527.5,164.8C532.8,161.4 538.1,158.5 543.4,155.3C548.7,152.1 554.0,148.5 559.3,145.7C564.7,142.9 570.5,140.7 575.3,138.5C580.1,136.4 585.9,133.9 588.0,133.0" stroke="#ff0000" stroke-width="4.6"/>
<path d="M177.6,132.2C179.4,133.6 184.8,138.4 188.7,140.9C192.7,143.5 197.2,145.6 201.5,147.3C205.7,149.0 209.7,150.2 214.2,151.3C218.7,152.4 223.8,153.4 228.6,153.7C233.4,153.9 238.1,153.7 242.9,152.9C247.7,152.1 252.5,150.6 257.3,148.9C262.0,147.2 267.1,144.8 271.6,142.5C276.1,140.3 281.4,137.1 284.3,135.4C287.3,133.6 288.3,132.7 289.1,132.2" stroke="#ff0000" stroke-width="4.6"/>
<path d="M329.8,132.2C331.5,133.4 336.5,137.1 340.1,139.3C343.7,141.6 347.3,143.5 351.3,145.7C355.2,148.0 359.8,150.9 364.0,152.9C368.3,154.9 372.8,156.6 376.8,157.7C380.7,158.7 384.2,159.4 387.9,159.3C391.6,159.1 395.9,157.7 399.1,156.9C402.3,156.1 405.7,154.9 407.0,154.5" stroke="#ff0000" stroke-width="4.6"/>
<path d="M407.0,154.5C408.5,153.3 413.1,149.8 415.9,147.3C418.7,144.8 421.5,141.9 423.9,139.3C426.3,136.8 429.2,133.4 430.3,132.2" stroke="#ff0000" stroke-width="4.6"/>
<path d="M387.9,132.2C389.2,133.9 393.5,139.5 395.9,142.5C398.3,145.6 400.4,148.4 402.3,150.5C404.1,152.6 406.2,154.5 407.0,155.3" stroke="#ff0000" stroke-width="4.6"/>
<path d="M407.0,155.3C408.8,154.2 414.2,151.2 417.5,148.9C420.9,146.6 423.9,144.4 427.1,141.7C430.3,139.1 435.1,134.4 436.6,133.0" stroke="#ff0000" stroke-width="4.6"/>
<path d="M400.0,169.6L407.2,164.0" stroke="#ff0000" stroke-width="4.6"/>
<path d="M407.2,164.0C408.6,162.8 413.1,159.4 415.9,156.9C418.7,154.3 421.2,150.6 423.9,148.9C426.6,147.2 427.9,146.5 431.9,146.5C435.9,146.5 442.5,147.6 447.8,148.9C453.1,150.2 458.4,152.8 463.7,154.5C469.0,156.2 474.4,157.9 479.7,159.3C485.0,160.6 490.3,161.8 495.6,162.4C500.9,163.1 506.2,162.9 511.5,162.9C516.8,162.9 524.8,162.5 527.5,162.4" stroke="#ff0000" stroke-width="4.6"/>
<path d="M494.0,133.0C496.4,134.6 503.3,140.3 508.4,142.5C513.4,144.8 519.0,146.0 524.3,146.5C529.6,147.0 535.4,146.6 540.2,145.7C545.0,144.8 549.5,142.8 553.0,140.9C556.4,139.1 559.6,135.6 560.9,134.6" stroke="#ff0000" stroke-width="4.6"/>
<path d="M543.4,133.8C544.5,136.3 547.4,143.5 549.8,148.9C552.2,154.3 555.1,161.1 557.7,166.4C560.4,171.7 562.8,176.0 565.7,180.8C568.6,185.5 571.8,190.6 575.3,195.1C578.7,199.6 582.7,204.3 586.4,207.9C590.1,211.4 594.3,214.8 597.6,216.6C600.8,218.5 604.6,218.6 606.0,219.0" stroke="#ff0000" stroke-width="4.6"/>
<path d="M606.0,219.0C610.2,219.3 622.9,220.1 631.0,220.6C639.2,221.1 648.4,221.9 654.9,222.2C661.5,222.5 667.6,222.5 670.1,222.5" stroke="#ff0000" stroke-width="4.6"/>
<path d="M575.3,195.1C576.9,198.3 581.4,209.2 584.8,214.2C588.3,219.3 592.5,222.9 596.0,225.4C599.5,227.9 604.4,228.7 606.0,229.4" stroke="#ff0000" stroke-width="4.6"/>
<path d="M606.0,229.4C610.2,229.2 622.9,229.0 631.0,228.6C639.2,228.2 648.4,227.5 654.9,227.0C661.5,226.5 667.6,225.9 670.1,225.7" stroke="#ff0000" stroke-width="4.6"/>
<path d="M135.8,447.3C137.5,448.1 142.5,450.4 145.7,452.1C149.0,453.8 152.4,456.6 155.3,457.7C158.2,458.8 160.3,459.5 163.2,459.0C166.2,458.4 169.1,457.1 172.8,454.5C176.5,451.9 180.8,448.1 185.5,443.4C190.3,438.6 196.2,431.9 201.5,425.8C206.8,419.7 212.1,412.8 217.4,406.7C222.7,400.6 228.0,394.2 233.4,389.2C238.7,384.1 244.0,380.1 249.3,376.4C254.6,372.7 259.9,369.3 265.2,366.9C270.5,364.5 275.8,363.2 281.2,362.1C286.5,361.0 292.8,360.6 297.1,360.2C301.3,359.8 305.1,359.8 306.6,359.7" stroke="#ff0000" stroke-width="4.6"/>
<path d="M306.6,359.7C308.8,360.2 315.1,361.2 319.4,362.9C323.6,364.6 327.9,367.0 332.1,370.1C336.4,373.1 340.1,376.4 344.9,381.2C349.7,386.0 355.5,392.6 360.8,398.7C366.1,404.8 371.4,411.0 376.8,417.9C382.1,424.8 388.4,434.9 392.7,440.2C396.9,445.5 399.6,447.7 402.3,449.7C404.9,451.7 407.6,451.7 408.6,452.1" stroke="#ff0000" stroke-width="4.6"/>
<path d="M408.6,452.1C409.8,451.7 413.1,451.5 415.9,449.7C418.7,448.0 422.0,445.2 425.5,441.8C428.9,438.3 432.7,433.3 436.6,429.0C440.6,424.8 444.9,420.0 449.4,416.3C453.9,412.5 459.2,409.0 463.7,406.7C468.3,404.4 472.2,403.4 476.5,402.7C480.7,402.1 485.0,402.1 489.2,402.7C493.5,403.4 497.7,404.8 502.0,406.7C506.2,408.6 510.5,411.2 514.7,413.9C519.0,416.5 523.2,419.6 527.5,422.6C531.7,425.7 536.0,429.0 540.2,432.2C544.5,435.4 548.7,439.2 553.0,441.8C557.2,444.3 561.5,446.1 565.7,447.3C570.0,448.5 574.2,448.9 578.5,448.9C582.7,448.9 586.6,447.9 591.2,447.3C595.8,446.8 603.6,446.0 606.0,445.7" stroke="#ff0000" stroke-width="4.6"/>
<path d="M135.8,446.2C139.3,446.8 149.4,448.5 156.9,449.7C164.4,451.0 172.8,452.6 180.8,453.7C188.7,454.8 196.7,455.5 204.7,456.1C212.6,456.7 221.9,456.7 228.6,457.4C235.2,458.0 239.2,458.7 244.5,460.1C249.8,461.5 255.1,463.4 260.4,465.7C265.8,467.9 271.1,470.4 276.4,473.6C281.7,476.8 287.3,481.2 292.3,484.8C297.4,488.4 304.3,493.4 306.6,495.1" stroke="#ff0000" stroke-width="4.6"/>
<path d="M135.8,467.6C138.0,467.3 144.9,466.4 148.9,465.7C152.9,464.9 156.6,463.0 160.1,463.3C163.5,463.5 166.2,465.5 169.6,467.3C173.1,469.0 176.3,471.5 180.8,473.6C185.3,475.8 192.2,478.8 196.7,480.0C201.2,481.2 203.9,480.9 207.9,480.8C211.8,480.7 215.8,480.1 220.6,479.2C225.4,478.3 231.2,476.7 236.5,475.2C241.8,473.8 247.2,472.0 252.5,470.4C257.8,468.8 263.1,467.0 268.4,465.7C273.7,464.3 279.0,463.2 284.3,462.5C289.7,461.7 296.6,461.5 300.3,461.2C304.0,460.9 305.6,460.9 306.6,460.9" stroke="#ff0000" stroke-width="4.6"/>
<path d="M306.6,460.9C309.6,461.0 317.3,461.0 324.2,461.7C331.1,462.3 340.1,463.8 348.1,464.9C356.0,465.9 365.3,467.3 372.0,468.0C378.6,468.8 383.4,469.8 387.9,469.6C392.4,469.5 395.6,468.6 399.1,467.3C402.5,465.9 407.0,462.6 408.6,461.7" stroke="#ff0000" stroke-width="4.6"/>
<path d="M408.6,461.7C409.8,460.2 413.1,455.7 415.9,452.9C418.7,450.1 422.0,447.3 425.5,444.9C428.9,442.6 432.9,440.2 436.6,438.6C440.4,437.0 443.3,436.2 447.8,435.4C452.3,434.6 459.0,433.8 463.7,433.8C468.5,433.8 472.2,434.3 476.5,435.4C480.7,436.4 485.0,438.0 489.2,440.2C493.5,442.3 497.7,445.3 502.0,448.1C506.2,450.9 510.5,454.1 514.7,456.9C519.0,459.7 523.2,462.6 527.5,464.9C531.7,467.1 536.0,469.4 540.2,470.4C544.5,471.5 548.7,471.8 553.0,471.2C557.2,470.7 561.5,469.0 565.7,467.3C570.0,465.5 574.2,463.1 578.5,460.9C582.7,458.6 586.6,456.1 591.2,453.7C595.8,451.3 603.6,447.7 606.0,446.5" stroke="#ff0000" stroke-width="4.6"/>
<path d="" stroke="#ff0000" stroke-width="4.6"/>
<path d="M306.6,495.9C309.6,496.3 318.6,497.5 324.2,498.3C329.8,499.1 334.8,500.3 340.1,500.7C345.4,501.1 351.3,501.4 356.0,500.7C360.8,500.1 364.8,498.9 368.8,496.7C372.8,494.6 376.0,491.3 379.9,488.0C383.9,484.6 389.0,479.3 392.7,476.8C396.4,474.3 399.6,473.6 402.3,472.8C404.9,472.1 407.6,472.4 408.6,472.4" stroke="#ff0000" stroke-width="4.6"/>
<path d="M408.6,472.4C409.8,473.0 412.1,475.0 415.9,476.0C419.8,477.0 426.6,477.6 431.9,478.4C437.2,479.2 442.5,480.3 447.8,480.8C453.1,481.3 458.4,481.6 463.7,481.6C469.0,481.6 474.4,481.3 479.7,480.8C485.0,480.3 490.3,479.6 495.6,478.4C500.9,477.2 506.2,475.4 511.5,473.6C516.8,471.9 522.2,469.9 527.5,468.0C532.8,466.2 538.6,463.9 543.4,462.5C548.2,461.0 552.2,459.8 556.2,459.3C560.1,458.8 563.6,458.8 567.3,459.3C571.0,459.8 574.5,461.3 578.5,462.5C582.4,463.7 586.6,465.5 591.2,466.5C595.8,467.4 603.6,467.8 606.0,468.0" stroke="#ff0000" stroke-width="4.6"/>
<path d="M606.0,468.0C608.9,467.9 617.6,467.8 623.1,467.3C628.6,466.7 633.7,465.7 639.0,464.9C644.3,464.1 649.8,463.1 654.9,462.5C660.1,461.8 667.6,461.1 670.1,460.9" stroke="#ff0000" stroke-width="4.6"/>
<path d="" stroke="#ff0000" stroke-width="4.6"/>
<path d="M606.0,446.5C607.3,444.9 610.7,440.4 613.5,437.0C616.4,433.5 619.9,428.9 623.1,425.8C626.3,422.8 629.5,420.2 632.6,418.7C635.8,417.1 639.0,416.3 642.2,416.3C645.4,416.3 648.6,417.2 651.8,418.7C654.9,420.1 658.3,422.8 661.3,425.0C664.4,427.3 668.6,431.0 670.1,432.2" stroke="#ff0000" stroke-width="4.6"/>
<path d="M135.8,556.2C138.0,556.8 144.1,558.4 148.9,560.1C153.7,561.9 159.5,564.8 164.8,566.5C170.1,568.2 175.5,569.7 180.8,570.5C186.1,571.3 191.7,571.7 196.7,571.3C201.7,570.9 206.5,569.7 211.0,568.1C215.6,566.5 219.5,564.1 223.8,561.7C228.0,559.3 232.3,556.8 236.5,553.8C240.8,550.8 244.0,548.1 249.3,543.7C254.6,539.4 262.0,533.2 268.4,527.8C274.8,522.4 281.2,516.5 287.5,511.1C293.9,505.6 303.5,497.8 306.6,495.1" stroke="#ff0000" stroke-width="4.6"/>
<path d="M306.6,495.1C309.6,495.0 318.6,495.1 324.2,494.3C329.8,493.5 334.8,492.1 340.1,490.4C345.4,488.6 350.7,486.5 356.0,484.0C361.4,481.5 366.7,478.3 372.0,475.2C377.3,472.2 383.4,468.0 387.9,465.7C392.4,463.3 395.6,461.2 399.1,460.9C402.5,460.6 407.0,463.3 408.6,463.7" stroke="#ff0000" stroke-width="4.6"/>
<path d="M408.6,463.7C409.8,465.7 413.1,471.2 415.9,475.2C418.7,479.3 422.0,483.2 425.5,488.0C428.9,492.7 432.9,498.9 436.6,503.9C440.4,508.9 443.8,513.5 447.8,518.2C451.8,523.0 456.3,528.1 460.5,532.6C464.8,537.1 469.3,541.7 473.3,545.3C477.3,548.9 481.3,551.5 484.5,554.1C487.6,556.7 489.0,558.5 492.4,560.9C495.9,563.4 500.7,566.8 505.2,568.9C509.7,571.0 514.5,572.8 519.5,573.7C524.6,574.6 530.1,574.9 535.4,574.5C540.8,574.1 546.1,572.8 551.4,571.3C556.7,569.8 562.0,567.6 567.3,565.7C572.6,563.9 578.5,561.7 583.2,560.1C588.0,558.6 592.2,557.3 596.0,556.5C599.8,555.7 604.4,555.5 606.0,555.4" stroke="#ff0000" stroke-width="4.6"/>
<path d="M606.0,555.4C607.3,556.6 610.7,560.0 613.5,562.5C616.4,565.1 619.6,568.2 623.1,570.5C626.5,572.8 630.5,574.9 634.2,576.1C637.9,577.3 641.7,577.8 645.4,577.7C649.1,577.5 652.4,576.9 656.5,575.3C660.7,573.7 667.8,569.3 670.1,568.1" stroke="#ff0000" stroke-width="4.6"/>
<path d="M135.8,468.8C139.3,469.0 150.7,469.0 156.9,469.6C163.0,470.3 167.5,471.4 172.8,472.8C178.1,474.3 184.2,476.8 188.7,478.4C193.3,480.0 196.2,480.1 199.9,482.4C203.6,484.6 207.1,488.1 211.0,492.0C215.0,495.8 219.5,500.6 223.8,505.5C228.0,510.4 232.8,516.4 236.5,521.4C240.3,526.5 243.4,531.8 246.1,535.8C248.8,539.8 250.6,541.7 252.5,545.3C254.3,549.0 255.1,553.3 257.3,557.7C259.4,562.2 262.3,567.3 265.2,572.1C268.1,576.9 271.6,581.9 274.8,586.4C278.0,590.9 281.2,595.2 284.3,599.2C287.5,603.2 291.0,607.3 293.9,610.3C296.8,613.4 299.7,615.9 301.9,617.5C304.0,619.1 305.9,619.5 306.6,619.9" stroke="#ff0000" stroke-width="4.6"/>
<path d="M306.6,619.9C309.6,619.7 318.6,618.9 324.2,618.6C329.8,618.3 334.8,617.8 340.1,618.0C345.4,618.2 350.7,618.9 356.0,619.9C361.4,620.9 366.7,622.7 372.0,623.9C377.3,625.1 381.8,626.4 387.9,627.1C394.0,627.7 405.2,627.7 408.6,627.9" stroke="#ff0000" stroke-width="4.6"/>
<path d="M408.6,627.9C410.4,627.5 415.2,627.1 419.1,625.5C423.0,623.9 427.6,621.4 431.9,618.3C436.1,615.2 440.4,611.4 444.6,607.1C448.9,602.9 453.4,597.8 457.4,592.8C461.3,587.8 464.8,582.2 468.5,576.9C472.2,571.6 477.0,564.7 479.7,560.9C482.3,557.1 482.3,557.5 484.5,554.1C486.6,550.7 489.2,546.0 492.4,540.5C495.6,535.1 499.9,527.3 503.6,521.4C507.3,515.6 510.7,510.5 514.7,505.5C518.7,500.4 523.2,495.1 527.5,491.2C531.7,487.2 536.0,484.1 540.2,481.6C544.5,479.1 548.5,477.6 553.0,476.0C557.5,474.4 562.3,473.1 567.3,472.0C572.4,471.0 576.8,470.2 583.2,469.6C589.7,469.1 602.2,468.7 606.0,468.5" stroke="#ff0000" stroke-width="4.6"/>
<path d="M606.0,468.5C608.9,468.5 617.6,468.5 623.1,468.2C628.6,467.9 633.7,467.4 639.0,466.6C644.3,465.9 649.8,465.0 654.9,463.7C660.1,462.5 667.6,460.0 670.1,459.3" stroke="#ff0000" stroke-width="4.6"/>
<path d="" stroke="#ff0000" stroke-width="4.6"/>
<path d="M606.0,446.5C607.3,448.9 610.7,455.6 613.5,460.9C616.4,466.2 619.9,472.6 623.1,478.4C626.3,484.2 629.5,490.4 632.6,495.9C635.8,501.5 639.0,506.8 642.2,511.9C645.4,516.9 648.6,521.4 651.8,526.2C654.9,531.0 658.3,536.3 661.3,540.5C664.4,544.8 668.6,549.8 670.1,551.7" stroke="#ff0000" stroke-width="4.6"/>
<path d="" stroke="#ff0000" stroke-width="4.6"/>
<path d="M606.0,554.9C607.5,553.0 611.7,548.2 615.1,543.7C618.5,539.2 622.8,533.1 626.3,527.8C629.7,522.5 632.6,517.4 635.8,511.9C639.0,506.3 642.2,500.2 645.4,494.3C648.6,488.5 652.0,481.9 654.9,476.8C657.9,471.8 660.4,467.3 662.9,464.1C665.4,460.9 668.9,458.8 670.1,457.7" stroke="#ff0000" stroke-width="4.6"/>
<path d="M135.8,557.0C137.5,557.9 142.2,559.9 145.7,562.5C149.2,565.2 153.2,568.4 156.9,572.9C160.6,577.4 164.3,583.6 168.0,589.6C171.7,595.6 175.5,602.4 179.2,608.7C182.9,615.1 186.6,621.5 190.3,627.9C194.0,634.2 198.0,641.1 201.5,647.0C204.9,652.8 207.9,658.1 211.0,662.9C214.2,667.7 217.4,671.7 220.6,675.7C223.8,679.6 227.0,683.4 230.2,686.8C233.4,690.3 236.0,692.4 239.7,696.4C243.4,700.4 248.2,706.2 252.5,710.7C256.7,715.2 261.0,719.2 265.2,723.5C269.5,727.7 273.7,732.2 278.0,736.2C282.2,740.2 287.0,744.4 290.7,747.4C294.4,750.3 297.6,752.3 300.3,753.7C302.9,755.2 305.6,755.7 306.6,756.1" stroke="#ff0000" stroke-width="4.6"/>
<path d="M306.6,756.1C308.2,756.3 313.0,756.3 316.2,756.9C319.4,757.6 323.1,759.1 325.8,760.1C328.4,761.1 328.4,760.9 332.1,763.0C335.9,765.0 342.8,768.8 348.1,772.5C353.4,776.2 358.7,781.0 364.0,785.3C369.3,789.5 374.6,794.0 379.9,798.0C385.3,802.0 391.1,806.5 395.9,809.2C400.7,811.8 406.5,813.2 408.6,814.0" stroke="#ff0000" stroke-width="4.6"/>
<path d="M408.6,814.0C409.8,814.1 412.9,816.1 415.9,814.8C419.0,813.4 423.1,809.8 427.1,806.0C431.1,802.1 435.6,796.7 439.8,791.6C444.1,786.6 448.6,780.8 452.6,775.7C456.6,770.7 461.3,766.4 463.7,761.4C466.1,756.4 463.7,751.8 466.9,745.8C470.1,739.7 477.5,732.0 482.9,725.1C488.2,718.2 493.5,711.0 498.8,704.3C504.1,697.7 509.9,690.8 514.7,685.2C519.5,679.6 523.5,675.4 527.5,670.9C531.5,666.4 534.9,661.8 538.6,658.1C542.3,654.4 546.1,650.8 549.8,648.6C553.5,646.3 557.2,645.1 560.9,644.6C564.7,644.1 568.4,644.5 572.1,645.4C575.8,646.3 579.5,648.7 583.2,650.2C587.0,651.6 590.6,653.3 594.4,654.1C598.2,655.0 604.1,655.1 606.0,655.3" stroke="#ff0000" stroke-width="4.6"/>
<path d="M606.0,655.3C608.9,654.8 617.6,653.2 623.1,652.6C628.6,651.9 633.7,651.4 639.0,651.4C644.3,651.4 649.8,651.8 654.9,652.6C660.1,653.3 667.6,655.2 670.1,655.7" stroke="#ff0000" stroke-width="4.6"/>
<path d="M135.8,658.1C139.3,656.8 150.2,652.3 156.9,650.2C163.6,648.0 170.7,645.4 176.0,645.4C181.3,645.4 184.8,647.8 188.7,650.2C192.7,652.6 196.2,656.3 199.9,659.7C203.6,663.2 207.1,666.1 211.0,670.9C215.0,675.7 219.5,682.6 223.8,688.4C228.0,694.2 232.3,700.4 236.5,705.9C240.8,711.5 245.0,716.6 249.3,721.9C253.5,727.2 257.8,732.8 262.0,737.8C266.3,742.8 270.8,747.6 274.8,752.1C278.8,756.7 282.5,762.4 285.9,765.0C289.4,767.6 292.0,767.2 295.5,767.7C298.9,768.3 304.8,768.4 306.6,768.5" stroke="#ff0000" stroke-width="4.6"/>
<path d="M306.6,768.5C309.6,768.7 318.6,768.7 324.2,769.3C329.8,770.0 334.8,770.7 340.1,772.5C345.4,774.4 350.7,777.3 356.0,780.5C361.4,783.7 366.7,787.7 372.0,791.6C377.3,795.6 383.4,800.7 387.9,804.4C392.4,808.1 395.6,811.6 399.1,814.0C402.5,816.3 407.0,817.9 408.6,818.7" stroke="#ff0000" stroke-width="4.6"/>
<path d="M408.6,818.7C409.8,818.7 412.6,819.9 415.9,818.4C419.3,817.0 424.4,813.5 428.7,810.0C432.9,806.4 437.2,802.0 441.4,797.2C445.7,792.4 449.9,786.6 454.2,781.3C458.4,776.0 462.7,772.1 466.9,765.4C471.2,758.6 474.9,749.0 479.7,741.0C484.5,732.9 490.3,725.1 495.6,717.1C500.9,709.1 506.8,700.6 511.5,693.2C516.3,685.8 520.0,679.9 524.3,672.5C528.5,665.0 532.8,656.5 537.0,648.6C541.3,640.6 545.5,632.6 549.8,624.7C554.0,616.7 558.3,608.2 562.5,600.8C566.8,593.3 571.3,585.9 575.3,580.1C579.3,574.2 582.7,569.4 586.4,565.7C590.1,562.0 594.3,559.5 597.6,557.7C600.8,556.0 604.6,555.8 606.0,555.4" stroke="#ff0000" stroke-width="4.6"/>
<path d="M135.8,658.9C138.0,659.5 144.1,660.5 148.9,662.1C153.7,663.7 159.5,667.0 164.8,668.5C170.1,669.9 175.5,670.7 180.8,670.9C186.1,671.0 191.7,670.3 196.7,669.3C201.7,668.2 205.7,666.4 211.0,664.5C216.4,662.6 223.0,660.1 228.6,658.1C234.1,656.1 239.2,654.5 244.5,652.6C249.8,650.6 255.1,648.4 260.4,646.2C265.8,643.9 271.1,641.7 276.4,639.0C281.7,636.4 288.1,632.6 292.3,630.2C296.6,627.9 299.5,625.8 301.9,624.7C304.3,623.5 305.9,623.6 306.6,623.4" stroke="#ff0000" stroke-width="4.6"/>
<path d="M306.6,623.4C309.6,623.5 317.3,623.5 324.2,623.9C331.1,624.2 340.1,624.9 348.1,625.5C356.0,626.1 365.3,627.0 372.0,627.5C378.6,628.1 381.8,628.5 387.9,628.7C394.0,628.8 405.2,628.7 408.6,628.7" stroke="#ff0000" stroke-width="4.6"/>
<path d="M408.6,628.7C411.2,628.7 418.7,628.3 423.9,628.7C429.1,629.1 434.5,630.0 439.8,631.0C445.1,632.1 450.5,633.4 455.8,635.0C461.1,636.6 466.4,638.5 471.7,640.6C477.0,642.7 482.3,645.1 487.6,647.8C492.9,650.4 498.3,653.6 503.6,656.5C508.9,659.5 514.2,662.5 519.5,665.3C524.8,668.1 530.1,671.0 535.4,673.3C540.8,675.5 546.1,677.4 551.4,678.8C556.7,680.3 562.0,681.4 567.3,682.0C572.6,682.7 576.8,682.8 583.2,682.8C589.7,682.9 602.2,682.4 606.0,682.4" stroke="#ff0000" stroke-width="4.6"/>
<path d="M606.0,682.4C608.9,682.2 617.6,682.0 623.1,681.2C628.6,680.5 633.7,679.8 639.0,678.0C644.3,676.3 649.8,673.4 654.9,670.9C660.1,668.4 667.6,664.2 670.1,662.9" stroke="#ff0000" stroke-width="4.6"/>
<path d="M135.8,684.4C138.0,684.7 144.6,685.0 148.9,686.0C153.2,687.1 157.7,688.8 161.6,690.8C165.6,692.8 169.3,695.4 172.8,698.0C176.3,700.5 179.2,702.7 182.4,705.9C185.5,709.1 188.7,713.1 191.9,717.1C195.1,721.1 198.3,725.6 201.5,729.8C204.7,734.1 207.9,738.3 211.0,742.6C214.2,746.8 217.7,751.6 220.6,755.3C223.5,759.1 225.4,760.6 228.6,765.0C231.8,769.5 235.7,777.1 239.7,782.1C243.7,787.1 248.2,791.2 252.5,794.8C256.7,798.4 261.0,801.1 265.2,803.6C269.5,806.1 273.5,808.2 278.0,810.0C282.5,811.7 287.5,813.1 292.3,814.0C297.1,814.8 304.3,815.0 306.6,815.2" stroke="#ff0000" stroke-width="4.6"/>
<path d="M306.6,815.2C309.6,815.7 318.6,816.8 324.2,817.9C329.8,819.1 334.8,820.7 340.1,821.9C345.4,823.1 350.7,824.2 356.0,825.1C361.4,826.0 366.7,826.9 372.0,827.5C377.3,828.1 381.8,828.6 387.9,828.6C394.0,828.6 405.2,827.7 408.6,827.5" stroke="#ff0000" stroke-width="4.6"/>
<path d="M408.6,827.5C410.4,827.1 415.2,826.6 419.1,825.1C423.0,823.6 427.6,821.4 431.9,818.7C436.1,816.1 440.4,812.9 444.6,809.2C448.9,805.5 453.1,800.7 457.4,796.4C461.6,792.2 465.9,787.9 470.1,783.7C474.4,779.4 478.9,774.9 482.9,770.9C486.8,767.0 490.8,764.0 494.0,759.8C497.2,755.6 498.0,751.6 502.0,745.8C506.0,740.0 512.6,731.7 517.9,725.1C523.2,718.4 528.5,712.0 533.8,705.9C539.2,699.8 545.0,693.5 549.8,688.4C554.6,683.4 558.3,679.4 562.5,675.7C566.8,671.9 571.0,668.6 575.3,666.1C579.5,663.6 584.0,661.8 588.0,660.5C592.0,659.2 596.2,658.8 599.2,658.5C602.2,658.1 604.9,658.5 606.0,658.5" stroke="#ff0000" stroke-width="4.6"/>
<path d="M606.0,658.5C608.9,659.2 617.6,661.4 623.1,662.9C628.6,664.5 633.7,666.2 639.0,667.7C644.3,669.2 649.8,670.5 654.9,671.7C660.1,672.9 667.6,674.3 670.1,674.9" stroke="#ff0000" stroke-width="4.6"/>
<path d="M135.8,685.2C138.3,685.6 145.7,686.3 150.5,687.6C155.3,688.9 160.3,690.8 164.8,693.2C169.3,695.6 173.6,699.3 177.6,702.0C181.6,704.6 184.8,706.3 188.7,709.1C192.7,711.9 197.2,715.5 201.5,718.7C205.7,721.9 210.0,724.9 214.2,728.2C218.5,731.6 222.7,735.1 227.0,738.6C231.2,742.1 235.5,745.6 239.7,749.0C244.0,752.3 249.0,755.8 252.5,758.5C255.9,761.2 256.5,760.8 260.4,765.0C264.4,769.2 271.1,777.9 276.4,783.7C281.7,789.4 287.3,795.0 292.3,799.6C297.4,804.3 301.3,807.3 306.6,811.6C312.0,815.8 318.6,821.3 324.2,825.1C329.8,829.0 334.8,831.9 340.1,834.7C345.4,837.5 350.7,840.0 356.0,841.8C361.4,843.7 366.7,844.9 372.0,845.8C377.3,846.8 381.8,846.9 387.9,847.4C394.0,847.9 405.2,848.7 408.6,849.0" stroke="#ff0000" stroke-width="4.6"/>
<path d="M408.6,849.0C410.9,849.3 417.9,850.2 422.3,850.6C426.7,851.0 430.8,852.1 435.1,851.4C439.3,850.7 443.6,848.7 447.8,846.6C452.1,844.5 456.3,841.6 460.5,838.7C464.8,835.7 469.0,832.8 473.3,829.1C477.5,825.4 481.8,821.0 486.0,816.3C490.3,811.7 494.5,806.7 498.8,801.2C503.0,795.8 507.8,789.0 511.5,783.7C515.3,778.4 517.9,774.1 521.1,769.3C524.3,764.6 528.3,759.2 530.7,755.0C533.0,750.8 532.0,749.7 535.4,744.2C538.9,738.7 546.1,728.5 551.4,721.9C556.7,715.2 562.5,709.1 567.3,704.3C572.1,699.6 576.1,696.0 580.1,693.2C584.0,690.4 586.9,688.9 591.2,687.6C595.5,686.3 603.6,685.6 606.0,685.2" stroke="#ff0000" stroke-width="4.6"/>
<path d="M606.0,685.2C608.9,685.1 617.6,684.8 623.1,684.4C628.6,684.0 633.7,683.5 639.0,682.8C644.3,682.2 649.8,681.4 654.9,680.4C660.1,679.5 667.6,677.8 670.1,677.3" stroke="#ff0000" stroke-width="4.6"/>
<path d="M135.8,779.7C138.0,779.4 144.1,779.0 148.9,778.1C153.7,777.2 159.5,775.1 164.8,774.1C170.1,773.2 175.7,772.4 180.8,772.5C185.8,772.7 190.6,773.5 195.1,774.9C199.6,776.4 203.6,778.6 207.9,781.3C212.1,783.9 216.4,787.3 220.6,790.9C224.9,794.4 229.1,798.6 233.4,802.8C237.6,807.1 242.1,811.8 246.1,816.3C250.1,820.9 253.8,825.6 257.3,829.9C260.7,834.1 263.9,838.1 266.8,841.8C269.7,845.6 271.9,848.9 274.8,852.2C277.7,855.5 281.2,859.2 284.3,861.8C287.5,864.3 290.2,865.9 293.9,867.3C297.6,868.8 304.5,870.0 306.6,870.5" stroke="#ff0000" stroke-width="4.6"/>
<path d="M306.6,870.5C309.6,871.2 318.6,872.5 324.2,874.5C329.8,876.5 334.8,879.6 340.1,882.5C345.4,885.4 350.7,889.1 356.0,892.0C361.4,895.0 366.7,897.9 372.0,900.0C377.3,902.1 381.8,903.8 387.9,904.8C394.0,905.8 405.2,905.8 408.6,906.1" stroke="#ff0000" stroke-width="4.6"/>
<path d="M408.6,906.1C410.4,905.7 415.2,904.9 419.1,904.0C423.0,903.1 427.6,902.3 431.9,900.8C436.1,899.3 440.9,897.1 444.6,895.2C448.3,893.4 451.0,892.0 454.2,889.6C457.4,887.3 461.1,883.9 463.7,880.9C466.4,877.8 468.0,874.0 470.1,871.3C472.2,868.7 473.8,866.7 476.5,864.9C479.1,863.2 482.3,862.0 486.0,861.0C489.8,859.9 494.0,859.1 498.8,858.6C503.6,858.0 508.6,857.8 514.7,857.8C520.8,857.8 528.0,858.2 535.4,858.6C542.9,858.9 552.7,859.7 559.3,859.8C566.0,860.0 570.0,859.8 575.3,859.4C580.6,858.9 586.1,857.6 591.2,857.0C596.3,856.3 603.6,855.7 606.0,855.4" stroke="#ff0000" stroke-width="4.6"/>
<path d="M606.0,855.4C607.5,855.0 611.7,854.6 615.1,853.0C618.5,851.4 622.3,848.6 626.3,845.8C630.2,843.0 634.8,839.5 639.0,836.3C643.3,833.1 648.0,829.5 651.8,826.7C655.5,823.9 658.3,821.7 661.3,819.5C664.4,817.4 668.6,814.9 670.1,814.0" stroke="#ff0000" stroke-width="4.6"/>
<path d="M135.8,856.2C138.0,856.6 144.1,857.9 148.9,858.6C153.7,859.2 159.5,860.2 164.8,860.2C170.1,860.2 175.5,859.2 180.8,858.6C186.1,857.9 191.4,857.0 196.7,856.2C202.0,855.4 207.3,854.5 212.6,853.8C217.9,853.1 223.3,852.7 228.6,852.2C233.9,851.7 239.7,851.3 244.5,850.6C249.3,849.9 253.3,849.5 257.3,848.2C261.2,846.9 264.4,845.4 268.4,842.6C272.4,839.8 276.9,835.2 281.2,831.5C285.4,827.8 289.7,823.8 293.9,820.3C298.2,816.9 304.5,812.4 306.6,810.8" stroke="#ff0000" stroke-width="4.6"/>
<path d="M306.6,810.8C308.8,810.2 315.1,808.2 319.4,807.6C323.6,806.9 327.4,806.5 332.1,806.8C336.9,807.1 342.8,808.0 348.1,809.2C353.4,810.4 358.7,812.1 364.0,814.0C369.3,815.8 374.6,818.5 379.9,820.3C385.3,822.2 391.1,824.0 395.9,825.1C400.7,826.2 406.5,826.7 408.6,827.0" stroke="#ff0000" stroke-width="4.6"/>
<path d="M408.6,827.0C409.8,827.5 412.9,828.3 415.9,829.9C419.0,831.4 423.1,834.3 427.1,836.3C431.1,838.3 435.6,840.6 439.8,841.8C444.1,843.0 448.1,843.8 452.6,843.4C457.1,843.0 462.4,841.4 466.9,839.5C471.4,837.5 475.4,834.7 479.7,831.5C483.9,828.3 488.2,824.3 492.4,820.3C496.7,816.3 500.9,811.8 505.2,807.6C509.4,803.3 513.7,798.8 517.9,794.8C522.2,790.9 526.4,786.9 530.7,783.7C534.9,780.5 539.2,777.4 543.4,775.7C547.7,774.0 550.8,773.5 556.2,773.3C561.5,773.2 569.4,774.1 575.3,774.9C581.1,775.7 586.1,777.3 591.2,778.1C596.3,778.9 603.6,779.4 606.0,779.7" stroke="#ff0000" stroke-width="4.6"/>
<path d="M606.0,779.7C608.9,780.0 617.6,780.1 623.1,781.3C628.6,782.5 633.7,784.6 639.0,786.9C644.3,789.1 649.8,792.2 654.9,794.8C660.1,797.5 667.6,801.5 670.1,802.8" stroke="#ff0000" stroke-width="4.6"/>
<path d="M135.8,892.0C139.3,891.0 149.4,887.8 156.9,885.7C164.4,883.5 172.8,880.9 180.8,879.3C188.7,877.6 196.7,876.5 204.7,875.8C212.6,875.0 221.1,874.6 228.6,874.8C236.0,875.0 243.7,875.9 249.3,876.9C254.9,877.9 258.3,879.2 262.0,880.9C265.8,882.6 268.4,884.6 271.6,887.3C274.8,889.9 278.0,893.4 281.2,896.8C284.3,900.3 287.8,904.5 290.7,908.0C293.6,911.4 296.0,915.3 298.7,917.5C301.3,919.8 305.3,920.8 306.6,921.5" stroke="#ff0000" stroke-width="4.6"/>
<path d="M306.6,921.5C309.6,921.3 318.6,920.8 324.2,920.4C329.8,920.0 334.8,919.3 340.1,919.1C345.4,918.9 350.7,918.7 356.0,919.1C361.4,919.5 366.7,920.1 372.0,921.5C377.3,923.0 383.4,925.6 387.9,927.9C392.4,930.1 395.6,932.9 399.1,935.1C402.5,937.2 405.8,939.6 408.6,940.6C411.4,941.7 413.5,940.4 415.9,941.4C418.3,942.5 421.9,946.1 423.1,947.0" stroke="#ff0000" stroke-width="4.6"/>
<path d="M135.8,892.4C139.3,891.8 149.4,889.6 156.9,888.8C164.4,888.1 172.8,888.4 180.8,888.0C188.7,887.7 197.5,887.4 204.7,886.5C211.8,885.5 217.9,884.2 223.8,882.5C229.6,880.7 234.4,878.8 239.7,876.1C245.0,873.4 250.9,869.2 255.7,866.5C260.4,863.9 263.6,861.8 268.4,860.2C273.2,858.6 278.0,857.6 284.3,857.0C290.7,856.3 302.9,856.3 306.6,856.2" stroke="#ff0000" stroke-width="4.6"/>
<path d="M306.6,856.2C310.9,856.3 323.9,856.6 332.1,857.0C340.4,857.3 348.1,857.7 356.0,858.3C364.0,858.8 373.3,859.6 379.9,860.2C386.6,860.7 391.1,861.4 395.9,861.4C400.7,861.4 406.5,860.4 408.6,860.2" stroke="#ff0000" stroke-width="4.6"/>
<path d="M408.6,860.2C409.8,860.3 412.9,859.6 415.9,861.0C419.0,862.3 423.1,865.3 427.1,868.1C431.1,870.9 435.6,874.8 439.8,877.7C444.1,880.6 448.1,883.5 452.6,885.7C457.1,887.8 461.9,889.2 466.9,890.4C472.0,891.7 476.7,892.4 482.9,893.3C489.0,894.2 496.1,895.3 503.6,896.0C511.0,896.7 519.5,897.5 527.5,897.6C535.4,897.7 543.4,897.3 551.4,896.8C559.3,896.4 568.6,895.6 575.3,894.9C581.9,894.2 586.1,893.4 591.2,892.8C596.3,892.2 603.6,891.5 606.0,891.2" stroke="#ff0000" stroke-width="4.6"/>
<path d="M606.0,891.2C608.9,892.4 617.6,895.9 623.1,898.4C628.6,900.9 633.7,903.9 639.0,906.4C644.3,908.9 649.8,911.7 654.9,913.5C660.1,915.4 667.6,916.9 670.1,917.5" stroke="#ff0000" stroke-width="4.6"/>
<path d="M135.8,893.0C139.3,893.6 149.4,895.5 156.9,896.8C164.4,898.1 172.8,899.8 180.8,900.8C188.7,901.8 196.7,902.5 204.7,902.9C212.6,903.3 220.6,903.3 228.6,903.2C236.5,903.1 244.5,902.8 252.5,902.4C260.4,902.0 268.4,901.3 276.4,900.8C284.3,900.3 293.6,899.7 300.3,899.2C306.9,898.7 310.9,898.4 316.2,897.6C321.5,896.8 326.8,896.0 332.1,894.4C337.5,892.8 343.3,890.6 348.1,888.0C352.9,885.5 356.6,882.6 360.8,879.3C365.1,876.0 369.3,871.6 373.6,868.1C377.8,864.7 382.1,861.4 386.3,858.6C390.6,855.8 395.3,852.8 399.1,851.4C402.8,850.0 407.0,850.5 408.6,850.3" stroke="#ff0000" stroke-width="4.6"/>
<path d="M408.6,850.3C410.6,850.2 416.8,849.6 420.7,849.8C424.6,850.0 427.9,849.9 431.9,851.4C435.9,852.9 440.4,855.8 444.6,858.6C448.9,861.4 453.1,865.2 457.4,868.1C461.6,871.1 465.3,873.7 470.1,876.1C474.9,878.5 480.7,880.6 486.0,882.5C491.4,884.3 496.7,885.9 502.0,887.3C507.3,888.6 512.3,889.6 517.9,890.4C523.5,891.2 529.9,891.7 535.4,892.0C541.0,892.4 544.7,892.5 551.4,892.4C558.0,892.2 568.6,891.6 575.3,891.2C581.9,890.9 586.1,890.6 591.2,890.4C596.3,890.3 603.6,890.4 606.0,890.4" stroke="#ff0000" stroke-width="4.6"/>
<path d="M606.0,890.4C608.9,889.1 617.6,884.6 623.1,882.5C628.6,880.3 633.7,879.0 639.0,877.7C644.3,876.4 649.8,875.4 654.9,874.8C660.1,874.2 667.6,874.3 670.1,874.2" stroke="#ff0000" stroke-width="4.6"/>
<path d="M135.8,893.6C138.0,894.2 144.1,895.2 148.9,896.8C153.7,898.4 159.5,900.0 164.8,903.2C170.1,906.4 175.5,911.4 180.8,915.9C186.1,920.4 190.7,925.1 196.7,930.3C202.7,935.5 213.3,944.2 216.6,947.0" stroke="#ff0000" stroke-width="4.6"/>
<path d="M305.1,946.2C308.2,945.8 317.0,944.5 324.2,943.8C331.3,943.2 340.1,942.6 348.1,942.2C356.0,941.9 365.3,942.1 372.0,941.7C378.6,941.3 383.4,940.8 387.9,939.8C392.4,938.9 395.6,937.4 399.1,935.9C402.5,934.3 407.0,931.2 408.6,930.3" stroke="#ff0000" stroke-width="4.6"/>
<path d="M408.6,930.3C409.8,928.7 412.9,924.4 415.9,920.7C419.0,917.0 423.1,912.5 427.1,908.0C431.1,903.5 435.6,897.9 439.8,893.6C444.1,889.4 448.1,885.1 452.6,882.5C457.1,879.8 461.9,879.2 466.9,877.7C472.0,876.2 477.5,874.9 482.9,873.7C488.2,872.5 493.5,871.2 498.8,870.5C504.1,869.8 509.4,869.4 514.7,869.4C520.0,869.4 525.3,869.7 530.7,870.5C536.0,871.4 541.3,873.0 546.6,874.5C551.9,876.0 557.2,877.7 562.5,879.3C567.8,880.9 573.2,882.6 578.5,884.1C583.8,885.5 589.8,887.0 594.4,888.0C599.0,889.1 604.1,890.0 606.0,890.4" stroke="#ff0000" stroke-width="4.6"/>
<path d="M533.8,947.0C536.0,944.2 542.3,935.5 546.6,930.3C550.8,925.1 555.1,919.9 559.3,915.9C563.6,912.0 567.8,909.2 572.1,906.4C576.3,903.6 580.6,901.2 584.8,899.2C589.1,897.2 594.1,895.6 597.6,894.4C601.1,893.2 604.6,892.4 606.0,892.0" stroke="#ff0000" stroke-width="4.6"/>
</g>
<line x1="135.5" y1="132.3" x2="135.5" y2="947.7" stroke="#000" stroke-width="3.4" />
<line x1="106.0" y1="134.0" x2="135.5" y2="134.0" stroke="#000" stroke-width="3.4" />
<text x="92.4" y="150.6" text-anchor="end" style='font-family:"Liberation Sans", Arial, sans-serif;font-size:47.5px;' >2</text>
<line x1="106.0" y1="337.0" x2="135.5" y2="337.0" stroke="#000" stroke-width="3.4" />
<text x="92.4" y="353.6" text-anchor="end" style='font-family:"Liberation Sans", Arial, sans-serif;font-size:47.5px;' >1</text>
<line x1="106.0" y1="540.0" x2="135.5" y2="540.0" stroke="#000" stroke-width="3.4" />
<text x="92.4" y="556.6" text-anchor="end" style='font-family:"Liberation Sans", Arial, sans-serif;font-size:47.5px;' >0</text>
<line x1="106.0" y1="743.0" x2="135.5" y2="743.0" stroke="#000" stroke-width="3.4" />
<text x="92.4" y="759.6" text-anchor="end" style='font-family:"Liberation Sans", Arial, sans-serif;font-size:47.5px;' >-1</text>
<line x1="106.0" y1="946.0" x2="135.5" y2="946.0" stroke="#000" stroke-width="3.4" />
<text x="92.4" y="962.6" text-anchor="end" style='font-family:"Liberation Sans", Arial, sans-serif;font-size:47.5px;' >-2</text>
<text x="129.5" y="1005.0" text-anchor="middle" style='font-family:"Liberation Serif", serif;font-size:54px;' >Γ</text>
<text x="310.7" y="1005.0" text-anchor="middle" style='font-family:"Liberation Sans", Arial, sans-serif;font-size:50px;font-style:italic;' >M</text>
<text x="426.7" y="1005.0" text-anchor="middle" style='font-family:"Liberation Sans", Arial, sans-serif;font-size:50px;font-style:italic;' >K</text>
<text x="599.5" y="1005.0" text-anchor="middle" style='font-family:"Liberation Serif", serif;font-size:54px;' >Γ</text>
<text x="667.5" y="1005.0" text-anchor="middle" style='font-family:"Liberation Sans", Arial, sans-serif;font-size:50px;font-style:italic;' >A</text>
<g transform="translate(40.5,542.0) rotate(-90)">
<text x="0" y="0" text-anchor="middle" style='font-family:"Liberation Sans", Arial, sans-serif;font-size:55px;'><tspan font-style="italic">E-E</tspan><tspan font-size="35" dy="12.5">F</tspan><tspan dy="-12.5"> (eV)</tspan></text>
</g>
<text x="18.5" y="56.3" text-anchor="start" style='font-family:"Liberation Sans", Arial, sans-serif;font-size:58px;font-weight:bold;' >a</text>
<text x="263.3" y="89.6" style='font-family:"Liberation Sans", Arial, sans-serif;font-size:58px;'>Cr<tspan dy="12.8">1/3</tspan><tspan dy="-12.8">NbS</tspan><tspan dy="12.8">2</tspan></text>
<rect x="135.5" y="1237" width="535.0" height="812" fill="none" stroke="#000" stroke-width="3.4"/>
<line x1="306.2" y1="1237.0" x2="306.2" y2="2049.0" stroke="#000" stroke-width="3.3" stroke-dasharray="4.1 5"/>
<line x1="404.6" y1="1237.0" x2="404.6" y2="2049.0" stroke="#000" stroke-width="3.3" stroke-dasharray="4.1 5"/>
<line x1="602.0" y1="1237.0" x2="602.0" y2="2049.0" stroke="#000" stroke-width="3.3" stroke-dasharray="4.1 5"/>
<line x1="136.5" y1="1643.0" x2="670.5" y2="1643.0" stroke="#000" stroke-width="3.6" stroke-dasharray="17.6 18.7"/>
<clipPath id="clipb"><rect x="135.0" y="1235.6" width="537.0" height="814.9"/></clipPath>
<g clip-path="url(#clipb)" fill="none" stroke-linecap="butt" stroke-linejoin="round">
<path d="M135.8,1256.7C137.2,1256.2 141.1,1255.4 144.1,1253.5C147.1,1251.6 150.7,1248.6 153.7,1245.5C156.7,1242.5 160.6,1236.9 162.0,1235.2" stroke="#ff0000" stroke-width="4.6"/>
<path d="M135.8,1261.5C137.5,1260.8 142.5,1259.6 145.7,1257.5C149.0,1255.4 152.2,1252.4 155.3,1248.7C158.4,1245.0 162.8,1237.4 164.4,1235.2" stroke="#ff0000" stroke-width="4.6"/>
<path d="M135.8,1266.2C137.5,1265.7 142.2,1265.4 145.7,1263.1C149.2,1260.7 153.5,1256.5 156.9,1251.9C160.3,1247.3 164.6,1238.0 166.1,1235.2" stroke="#ff0000" stroke-width="4.6"/>
<path d="M135.8,1270.2C137.7,1269.6 143.8,1268.5 147.3,1266.2C150.8,1264.0 153.7,1260.9 156.9,1256.7C160.1,1252.4 164.4,1244.3 166.4,1240.7C168.5,1237.2 168.8,1236.1 169.3,1235.2" stroke="#ff0000" stroke-width="4.6"/>
<path d="M193.8,1235.2C195.1,1237.7 198.6,1244.9 201.5,1250.3C204.4,1255.8 207.9,1262.3 211.0,1267.8C214.2,1273.4 216.9,1278.5 220.6,1283.8C224.3,1289.1 229.1,1294.9 233.4,1299.7C237.6,1304.5 241.8,1308.6 246.1,1312.5C250.3,1316.3 254.1,1319.6 258.8,1322.8C263.6,1326.0 269.5,1329.2 274.8,1331.6C280.1,1334.0 285.5,1336.0 290.7,1337.1C295.9,1338.3 303.3,1338.5 305.9,1338.7" stroke="#ff0000" stroke-width="4.6"/>
<path d="M305.9,1338.7C308.4,1338.3 315.8,1338.1 321.0,1336.4C326.2,1334.6 331.9,1331.6 336.9,1328.4C342.0,1325.2 346.7,1321.5 351.3,1317.2C355.8,1313.0 359.8,1307.9 364.0,1302.9C368.3,1297.8 372.5,1291.7 376.8,1287.0C381.0,1282.2 385.8,1277.7 389.5,1274.2C393.2,1270.8 396.5,1268.2 399.1,1266.2C401.6,1264.2 403.7,1262.9 404.6,1262.3" stroke="#ff0000" stroke-width="4.6"/>
<path d="M404.6,1262.3C406.0,1260.8 409.5,1255.8 412.7,1253.5C416.0,1251.2 419.4,1250.2 423.9,1248.7C428.4,1247.3 434.5,1245.8 439.8,1244.7C445.1,1243.7 451.0,1243.1 455.8,1242.3C460.5,1241.5 464.6,1241.1 468.5,1240.0C472.4,1238.8 477.5,1236.0 479.4,1235.2" stroke="#ff0000" stroke-width="4.6"/>
<path d="M215.0,1235.2C216.5,1237.2 220.5,1242.5 223.8,1247.1C227.1,1251.8 231.0,1257.5 234.9,1263.1C238.9,1268.6 243.4,1275.3 247.7,1280.6C251.9,1285.9 255.9,1290.4 260.4,1294.9C265.0,1299.4 269.7,1304.1 274.8,1307.7C279.8,1311.3 285.5,1314.5 290.7,1316.4C295.9,1318.3 303.3,1318.7 305.9,1319.1" stroke="#ff0000" stroke-width="4.6"/>
<path d="M305.9,1319.1C308.4,1318.4 316.1,1317.3 321.0,1314.8C325.9,1312.4 330.8,1308.6 335.3,1304.5C339.8,1300.4 343.8,1295.2 348.1,1290.1C352.3,1285.1 356.8,1278.7 360.8,1274.2C364.8,1269.7 368.3,1265.8 372.0,1263.1C375.7,1260.3 379.7,1258.7 383.1,1257.5C386.6,1256.3 390.0,1255.8 392.7,1255.9C395.3,1256.0 397.1,1257.2 399.1,1258.3C401.1,1259.3 403.7,1261.6 404.6,1262.3" stroke="#ff0000" stroke-width="4.6"/>
<path d="M404.6,1262.3C406.0,1263.7 409.5,1267.4 412.7,1271.0C416.0,1274.6 420.2,1279.8 423.9,1283.8C427.6,1287.8 431.1,1291.2 435.1,1294.9C439.0,1298.6 443.6,1303.0 447.8,1306.1C452.1,1309.1 456.6,1311.5 460.5,1313.2C464.5,1315.0 468.3,1316.0 471.7,1316.4C475.2,1316.8 478.1,1316.6 481.3,1315.6C484.5,1314.7 487.6,1313.2 490.8,1310.9C494.0,1308.5 497.2,1305.0 500.4,1301.3C503.6,1297.6 507.0,1292.8 509.9,1288.5C512.9,1284.3 515.3,1280.3 517.9,1275.8C520.6,1271.3 523.2,1266.2 525.9,1261.5C528.5,1256.7 531.2,1251.5 533.8,1247.1C536.4,1242.7 540.2,1237.2 541.5,1235.2" stroke="#ff0000" stroke-width="4.6"/>
<path d="M570.5,1235.2C571.6,1236.9 574.5,1242.5 576.9,1245.5C579.3,1248.6 581.9,1251.6 584.8,1253.5C587.8,1255.4 591.6,1256.0 594.4,1256.7C597.2,1257.3 600.4,1257.3 601.6,1257.5" stroke="#ff0000" stroke-width="4.6"/>
<path d="M601.6,1257.5C606.5,1257.5 619.6,1257.5 631.0,1257.5C642.5,1257.5 663.6,1257.5 670.1,1257.5" stroke="#ff0000" stroke-width="4.6"/>
<path d="M573.7,1235.2C574.7,1237.2 577.7,1243.4 580.1,1247.1C582.4,1250.8 585.4,1255.1 588.0,1257.5C590.7,1259.9 593.7,1260.7 596.0,1261.5C598.2,1262.3 600.6,1262.1 601.6,1262.3" stroke="#ff0000" stroke-width="4.6"/>
<path d="M601.6,1262.3C606.5,1262.4 619.6,1262.5 631.0,1263.1C642.5,1263.6 663.6,1265.0 670.1,1265.4" stroke="#ff0000" stroke-width="4.6"/>
<path d="M576.9,1235.2C577.9,1237.4 580.9,1244.3 583.2,1248.7C585.6,1253.1 588.8,1258.3 591.2,1261.5C593.6,1264.6 595.9,1266.5 597.6,1267.8C599.3,1269.2 600.9,1269.4 601.6,1269.7" stroke="#ff0000" stroke-width="4.6"/>
<path d="M601.6,1269.7C603.8,1269.8 610.2,1270.3 615.1,1270.2C620.0,1270.1 624.4,1269.6 631.0,1269.1C637.7,1268.7 648.4,1267.9 654.9,1267.5C661.5,1267.2 667.6,1267.1 670.1,1267.0" stroke="#ff0000" stroke-width="4.6"/>
<path d="M135.8,1487.4C137.5,1487.6 142.2,1487.7 145.7,1488.7C149.2,1489.6 152.9,1490.9 156.9,1493.0C160.9,1495.0 165.4,1497.9 169.6,1500.9C173.9,1504.0 178.1,1507.4 182.4,1511.3C186.6,1515.1 190.9,1519.5 195.1,1524.0C199.4,1528.6 203.6,1533.3 207.9,1538.4C212.1,1543.4 216.4,1548.7 220.6,1554.3C224.9,1559.9 229.1,1566.0 233.4,1571.8C237.6,1577.7 241.8,1583.5 246.1,1589.4C250.3,1595.2 254.6,1601.3 258.8,1606.9C263.1,1612.5 267.3,1618.1 271.6,1622.8C275.8,1627.6 280.4,1632.3 284.3,1635.6C288.3,1638.9 291.9,1641.2 295.5,1642.8C299.1,1644.3 304.1,1644.7 305.9,1645.1" stroke="#ff0000" stroke-width="4.6"/>
<path d="M305.9,1645.1C307.6,1645.1 312.6,1644.6 316.2,1645.1C319.8,1645.7 323.6,1647.0 327.4,1648.3C331.1,1649.7 335.1,1651.8 338.5,1653.1C342.0,1654.4 343.8,1653.4 348.1,1656.0C352.3,1658.6 358.7,1665.5 364.0,1668.7C369.3,1671.9 374.6,1673.6 379.9,1675.1C385.3,1676.5 391.8,1677.1 395.9,1677.5C400.0,1677.9 403.2,1677.5 404.6,1677.5" stroke="#ff0000" stroke-width="4.6"/>
<path d="M404.6,1677.5C406.0,1677.2 409.8,1677.3 412.7,1675.9C415.7,1674.4 419.1,1671.5 422.3,1668.7C425.5,1665.9 428.9,1662.1 431.9,1659.2C434.8,1656.2 437.2,1654.6 439.8,1651.2C442.5,1647.8 443.8,1644.6 447.8,1638.8C451.8,1633.0 458.4,1623.9 463.7,1616.5C469.0,1609.0 474.4,1601.3 479.7,1594.2C485.0,1587.0 490.3,1580.1 495.6,1573.4C500.9,1566.8 506.2,1560.7 511.5,1554.3C516.8,1547.9 522.2,1541.6 527.5,1535.2C532.8,1528.8 538.1,1521.7 543.4,1516.1C548.7,1510.5 554.0,1505.7 559.3,1501.7C564.7,1497.8 570.5,1494.6 575.3,1492.2C580.1,1489.8 583.6,1488.5 588.0,1487.4C592.4,1486.3 599.3,1486.1 601.6,1485.8" stroke="#ff0000" stroke-width="4.6"/>
<path d="M601.6,1485.8C603.8,1486.3 610.2,1487.4 615.1,1489.0C620.0,1490.6 625.7,1492.7 631.0,1495.4C636.4,1498.0 641.9,1501.5 647.0,1504.9C652.0,1508.4 657.5,1513.2 661.3,1516.1C665.2,1519.0 668.6,1521.4 670.1,1522.5" stroke="#ff0000" stroke-width="4.6"/>
<path d="M670.1,1522.5C668.6,1524.3 664.4,1529.6 661.3,1533.6C658.3,1537.6 654.9,1542.1 651.8,1546.4C648.6,1550.6 645.4,1554.8 642.2,1559.1C639.0,1563.3 635.8,1568.1 632.6,1571.8C629.5,1575.6 626.3,1578.6 623.1,1581.4C619.9,1584.2 617.1,1586.9 613.5,1588.6C609.9,1590.3 603.6,1591.2 601.6,1591.8" stroke="#ff0000" stroke-width="4.6"/>
<path d="M601.6,1591.8C598.5,1591.9 588.7,1591.9 583.2,1592.6C577.8,1593.2 573.4,1594.2 568.9,1595.7C564.4,1597.3 560.4,1599.5 556.2,1602.1C551.9,1604.8 547.7,1608.0 543.4,1611.7C539.2,1615.4 535.4,1620.2 530.7,1624.4C525.9,1628.7 520.0,1633.2 514.7,1637.2C509.4,1641.2 503.8,1645.7 498.8,1648.3C493.7,1650.9 489.0,1651.0 484.5,1652.8C479.9,1654.6 476.5,1656.8 471.7,1659.2C466.9,1661.5 461.1,1664.7 455.8,1667.1C450.5,1669.5 445.1,1671.6 439.8,1673.5C434.5,1675.4 428.4,1676.8 423.9,1678.3C419.4,1679.7 416.0,1680.8 412.7,1682.3C409.5,1683.7 405.8,1686.2 404.5,1687.0" stroke="#ff0000" stroke-width="4.6"/>
<path d="M404.5,1687.0C403.6,1687.7 401.8,1689.7 399.1,1691.0C396.3,1692.3 392.4,1694.2 387.9,1695.0C383.4,1695.8 377.3,1696.5 372.0,1695.8C366.7,1695.1 361.4,1692.9 356.0,1691.0C350.7,1689.2 345.4,1686.6 340.1,1684.6C334.8,1682.7 329.9,1680.4 324.2,1679.1C318.5,1677.7 308.9,1677.1 305.9,1676.7" stroke="#ff0000" stroke-width="4.6"/>
<path d="M305.9,1676.7C303.6,1676.8 297.2,1676.5 292.3,1677.5C287.4,1678.4 281.7,1680.1 276.4,1682.3C271.1,1684.4 265.5,1687.7 260.4,1690.2C255.4,1692.7 250.3,1695.8 246.1,1697.4C241.8,1699.0 238.4,1699.8 234.9,1699.8C231.5,1699.8 228.8,1698.9 225.4,1697.4C221.9,1695.9 217.9,1693.9 214.2,1691.0C210.5,1688.1 206.8,1684.4 203.1,1679.9C199.4,1675.4 195.4,1670.0 191.9,1663.9C188.5,1657.9 185.5,1649.3 182.4,1643.5C179.2,1637.8 176.0,1633.7 172.8,1629.2C169.6,1624.7 166.4,1620.4 163.2,1616.5C160.1,1612.5 156.9,1608.5 153.7,1605.3C150.5,1602.1 147.1,1599.1 144.1,1597.3C141.1,1595.6 137.2,1595.3 135.8,1595.0" stroke="#ff0000" stroke-width="4.6"/>
<path d="M135.8,1569.5C137.5,1569.7 142.2,1570.0 145.7,1571.0C149.2,1572.1 152.9,1574.0 156.9,1575.8C160.9,1577.7 165.4,1580.3 169.6,1582.2C173.9,1584.1 178.1,1585.3 182.4,1587.0C186.6,1588.7 190.9,1590.6 195.1,1592.6C199.4,1594.6 203.6,1596.5 207.9,1598.9C212.1,1601.3 216.4,1604.0 220.6,1606.9C224.9,1609.8 229.1,1613.3 233.4,1616.5C237.6,1619.6 241.8,1622.8 246.1,1626.0C250.3,1629.2 254.6,1632.7 258.8,1635.6C263.1,1638.5 267.3,1641.3 271.6,1643.5C275.8,1645.8 280.4,1647.5 284.3,1649.1C288.3,1650.7 291.9,1652.2 295.5,1653.1C299.1,1654.0 304.1,1654.4 305.9,1654.7" stroke="#ff0000" stroke-width="4.6"/>
<path d="M305.9,1654.7C308.9,1655.2 318.5,1656.0 324.2,1657.6C329.9,1659.1 334.8,1661.5 340.1,1663.9C345.4,1666.3 350.7,1669.5 356.0,1671.9C361.4,1674.3 366.7,1677.1 372.0,1678.3C377.3,1679.5 382.5,1679.2 387.9,1679.1C393.4,1678.9 401.9,1677.7 404.6,1677.5" stroke="#ff0000" stroke-width="4.6"/>
<path d="M404.6,1677.5C406.0,1680.3 409.8,1690.6 412.7,1694.2C415.7,1697.8 419.1,1698.1 422.3,1699.0C425.5,1699.9 428.2,1700.2 431.9,1699.8C435.6,1699.4 439.8,1697.8 444.6,1696.6C449.4,1695.4 455.2,1694.1 460.5,1692.6C465.9,1691.2 471.2,1689.7 476.5,1687.8C481.8,1686.0 487.1,1684.1 492.4,1681.5C497.7,1678.8 503.6,1675.1 508.4,1671.9C513.1,1668.7 517.1,1665.5 521.1,1662.3C525.1,1659.2 528.4,1657.6 532.3,1652.8C536.1,1648.0 540.3,1639.5 544.0,1633.7C547.7,1627.9 551.3,1622.7 554.5,1617.9C557.7,1613.1 560.7,1608.8 563.3,1604.7C565.9,1600.6 568.0,1596.7 570.3,1593.3C572.7,1589.9 575.1,1587.1 577.4,1584.5C579.8,1581.9 581.9,1579.6 584.4,1577.5C586.9,1575.4 589.4,1573.5 592.3,1572.2C595.2,1570.9 600.2,1570.0 601.8,1569.6" stroke="#ff0000" stroke-width="4.6"/>
<path d="M135.8,1570.3C137.2,1570.8 141.1,1571.6 144.1,1573.4C147.1,1575.3 150.5,1578.0 153.7,1581.4C156.9,1584.9 160.1,1589.6 163.2,1594.2C166.4,1598.7 169.6,1603.4 172.8,1608.5C176.0,1613.5 179.2,1619.1 182.4,1624.4C185.5,1629.7 188.2,1634.0 191.9,1640.4C195.6,1646.7 200.4,1656.6 204.7,1662.3C208.9,1668.1 212.9,1671.4 217.4,1675.1C221.9,1678.8 227.0,1681.9 231.8,1684.6C236.5,1687.4 241.3,1689.4 246.1,1691.8C250.9,1694.2 255.9,1696.5 260.4,1699.0C265.0,1701.5 268.9,1704.2 273.2,1707.0C277.4,1709.7 282.0,1713.3 285.9,1715.7C289.9,1718.1 293.8,1720.1 297.1,1721.3C300.4,1722.5 304.4,1722.6 305.9,1722.9" stroke="#ff0000" stroke-width="4.6"/>
<path d="M305.9,1722.9C308.1,1723.3 315.0,1723.7 319.4,1725.3C323.8,1726.9 327.9,1729.7 332.1,1732.5C336.4,1735.2 340.6,1738.8 344.9,1742.0C349.1,1745.2 353.4,1748.8 357.6,1751.6C361.9,1754.4 366.1,1756.9 370.4,1758.7C374.6,1760.6 378.9,1762.1 383.1,1762.7C387.4,1763.4 392.3,1762.9 395.9,1762.7C399.5,1762.6 403.2,1762.1 404.6,1761.9" stroke="#ff0000" stroke-width="4.6"/>
<path d="M404.6,1761.9C406.0,1761.3 409.5,1759.9 412.7,1757.9C416.0,1756.0 420.2,1753.2 423.9,1750.0C427.6,1746.8 431.3,1743.1 435.1,1738.8C438.8,1734.6 442.5,1729.5 446.2,1724.5C449.9,1719.4 453.6,1713.9 457.4,1708.5C461.1,1703.2 464.8,1698.2 468.5,1692.6C472.2,1687.0 476.2,1680.4 479.7,1675.1C483.1,1669.8 486.0,1664.7 489.2,1660.7C492.4,1656.8 494.5,1655.1 498.8,1651.2C503.0,1647.3 509.4,1641.6 514.7,1637.2C520.0,1632.7 525.9,1628.7 530.7,1624.4C535.4,1620.2 539.2,1615.4 543.4,1611.7C547.7,1608.0 551.9,1604.8 556.2,1602.1C560.4,1599.5 564.4,1597.3 568.9,1595.7C573.4,1594.2 577.8,1593.2 583.2,1592.6C588.7,1591.9 598.5,1591.9 601.6,1591.8" stroke="#ff0000" stroke-width="4.6"/>
<path d="M601.6,1591.8C603.0,1591.5 607.3,1591.4 610.3,1590.2C613.4,1589.0 616.7,1586.9 619.9,1584.6C623.1,1582.3 626.3,1579.0 629.5,1576.6C632.6,1574.2 635.8,1572.1 639.0,1570.3C642.2,1568.4 645.1,1567.1 648.6,1565.5C652.0,1563.9 656.1,1561.9 659.7,1560.7C663.3,1559.5 668.4,1558.7 670.1,1558.3" stroke="#ff0000" stroke-width="4.6"/>
<path d="M135.8,1591.0C138.0,1590.8 144.6,1590.0 148.9,1590.2C153.2,1590.3 157.4,1590.6 161.6,1591.8C165.9,1593.0 170.1,1595.1 174.4,1597.3C178.6,1599.6 182.9,1602.4 187.1,1605.3C191.4,1608.2 195.4,1611.7 199.9,1614.9C204.4,1618.1 209.5,1621.2 214.2,1624.4C219.0,1627.6 223.8,1630.5 228.6,1634.0C233.4,1637.4 238.1,1641.4 242.9,1645.1C247.7,1648.9 253.0,1652.9 257.3,1656.3C261.5,1659.7 264.4,1662.8 268.4,1665.5C272.4,1668.3 276.9,1671.0 281.2,1672.7C285.4,1674.4 289.8,1675.2 293.9,1675.9C298.0,1676.5 303.9,1676.5 305.9,1676.7" stroke="#ff0000" stroke-width="4.6"/>
<path d="M305.9,1676.7C308.9,1677.2 318.5,1678.3 324.2,1679.9C329.9,1681.5 334.8,1683.9 340.1,1686.2C345.4,1688.6 350.7,1691.7 356.0,1694.2C361.4,1696.7 366.7,1699.5 372.0,1701.4C377.3,1703.2 382.5,1704.6 387.9,1705.4C393.4,1706.2 401.9,1706.0 404.6,1706.2" stroke="#ff0000" stroke-width="4.6"/>
<path d="M404.6,1706.2C406.5,1705.8 411.9,1704.5 415.9,1704.1C419.9,1703.7 424.7,1703.4 428.7,1703.8C432.7,1704.1 435.9,1705.0 439.8,1706.2C443.8,1707.4 448.3,1709.6 452.6,1710.9C456.8,1712.3 461.1,1713.2 465.3,1714.1C469.6,1715.1 474.1,1716.1 478.1,1716.5C482.1,1716.9 485.8,1717.0 489.2,1716.5C492.7,1716.0 495.4,1715.8 498.8,1713.3C502.2,1710.8 505.6,1706.7 509.6,1701.5C513.6,1696.3 518.3,1688.9 522.7,1682.2C527.1,1675.5 532.1,1667.5 535.9,1661.1C539.7,1654.6 542.8,1648.2 545.6,1643.5C548.4,1638.8 549.8,1637.3 552.7,1632.9C555.7,1628.5 559.9,1621.5 563.3,1617.0C566.7,1612.5 569.8,1608.7 573.0,1605.6C576.2,1602.5 579.4,1600.4 582.6,1598.6C585.8,1596.8 589.1,1595.5 592.3,1594.6C595.5,1593.6 600.2,1593.2 601.8,1592.9" stroke="#ff0000" stroke-width="4.6"/>
<path d="M601.8,1592.9C603.5,1593.0 608.4,1592.7 611.9,1593.4C615.5,1594.0 619.1,1595.7 623.1,1596.5C627.1,1597.3 631.6,1597.9 635.8,1598.1C640.1,1598.4 644.3,1598.4 648.6,1598.1C652.8,1597.9 657.7,1597.1 661.3,1596.5C664.9,1596.0 668.6,1595.2 670.1,1595.0" stroke="#ff0000" stroke-width="4.6"/>
<path d="M135.8,1596.5C137.5,1597.2 142.2,1598.0 145.7,1600.5C149.2,1603.1 153.2,1607.7 156.9,1611.7C160.6,1615.7 164.3,1619.9 168.0,1624.4C171.7,1628.9 175.7,1634.3 179.2,1638.8C182.6,1643.3 185.5,1647.1 188.7,1651.5C191.9,1656.0 194.8,1659.7 198.3,1665.5C201.7,1671.3 205.7,1679.6 209.5,1686.2C213.2,1692.9 216.6,1699.0 220.6,1705.4C224.6,1711.7 229.1,1718.4 233.4,1724.5C237.6,1730.6 241.8,1736.4 246.1,1742.0C250.3,1747.6 254.6,1752.9 258.8,1757.9C263.1,1763.0 267.3,1768.0 271.6,1772.3C275.8,1776.5 280.6,1780.7 284.3,1783.4C288.1,1786.2 290.3,1787.8 293.9,1789.0C297.5,1790.2 303.9,1790.3 305.9,1790.6" stroke="#ff0000" stroke-width="4.6"/>
<path d="M305.9,1790.6C308.4,1791.7 316.6,1794.5 321.0,1797.0C325.4,1799.5 328.2,1802.4 332.1,1805.7C336.1,1809.1 340.6,1813.2 344.9,1816.9C349.1,1820.6 353.4,1824.6 357.6,1828.1C361.9,1831.5 366.1,1834.8 370.4,1837.6C374.6,1840.4 378.9,1843.0 383.1,1844.8C387.4,1846.6 392.3,1847.7 395.9,1848.5C399.5,1849.2 403.2,1849.4 404.6,1849.6" stroke="#ff0000" stroke-width="4.6"/>
<path d="M404.6,1849.6C406.5,1849.2 411.4,1848.5 415.9,1847.2C420.5,1845.8 426.6,1843.5 431.9,1841.6C437.2,1839.7 442.5,1837.5 447.8,1836.0C453.1,1834.5 458.4,1833.3 463.7,1832.5C469.0,1831.7 474.4,1831.2 479.7,1831.2C485.0,1831.3 490.3,1831.8 495.6,1832.8C500.9,1833.9 506.2,1835.9 511.5,1837.6C516.8,1839.3 522.2,1841.5 527.5,1843.2C532.8,1844.9 538.1,1846.8 543.4,1848.0C548.7,1849.2 554.0,1850.0 559.3,1850.4C564.7,1850.8 570.0,1850.6 575.3,1850.4C580.6,1850.2 586.8,1849.5 591.2,1849.1C595.6,1848.7 599.8,1848.2 601.6,1848.0" stroke="#ff0000" stroke-width="4.6"/>
<path d="M601.6,1848.0C603.3,1847.3 608.3,1845.2 611.9,1844.0C615.5,1842.8 619.1,1841.6 623.1,1840.8C627.1,1840.0 631.6,1839.4 635.8,1839.2C640.1,1839.0 644.3,1839.2 648.6,1839.7C652.8,1840.2 657.7,1841.3 661.3,1842.4C664.9,1843.5 668.6,1845.7 670.1,1846.4" stroke="#ff0000" stroke-width="4.6"/>
<path d="M135.8,1597.3C137.7,1598.4 143.3,1600.5 147.3,1603.7C151.3,1606.9 155.8,1611.9 160.1,1616.5C164.3,1621.0 168.6,1626.0 172.8,1630.8C177.1,1635.6 181.8,1639.4 185.5,1645.1C189.3,1650.9 191.7,1658.7 195.1,1665.5C198.6,1672.4 202.3,1679.3 206.3,1686.2C210.2,1693.1 214.8,1700.1 219.0,1707.0C223.3,1713.9 227.5,1721.0 231.8,1727.7C236.0,1734.3 240.3,1740.7 244.5,1746.8C248.8,1752.9 253.3,1758.5 257.3,1764.3C261.2,1770.2 265.0,1776.5 268.4,1781.8C271.9,1787.2 274.8,1792.1 278.0,1796.2C281.2,1800.3 284.3,1803.9 287.5,1806.5C290.7,1809.1 294.0,1810.7 297.1,1811.8C300.1,1812.9 304.4,1812.7 305.9,1812.9" stroke="#ff0000" stroke-width="4.6"/>
<path d="M305.9,1812.9C308.1,1813.2 314.5,1813.6 319.4,1814.5C324.3,1815.4 330.0,1817.4 335.3,1818.5C340.6,1819.6 346.0,1820.5 351.3,1820.9C356.6,1821.3 361.9,1821.2 367.2,1820.9C372.5,1820.6 376.9,1819.8 383.1,1819.3C389.4,1818.8 401.1,1818.0 404.6,1817.7" stroke="#ff0000" stroke-width="4.6"/>
<path d="M404.6,1817.7C406.8,1817.5 413.2,1817.3 417.6,1816.3C422.0,1815.3 426.4,1814.1 430.8,1811.9C435.2,1809.7 439.6,1806.5 444.0,1803.1C448.4,1799.7 452.7,1795.8 457.1,1791.6C461.5,1787.3 465.9,1782.4 470.3,1777.6C474.7,1772.8 480.6,1765.9 483.5,1762.6C486.4,1759.3 483.7,1763.8 487.6,1758.0C491.5,1752.2 502.2,1735.0 506.9,1727.9C511.6,1720.8 512.3,1720.9 515.7,1715.6C519.1,1710.3 523.3,1702.8 527.1,1696.3C530.9,1689.8 534.9,1683.7 538.6,1676.9C542.3,1670.2 546.8,1660.3 549.1,1655.8C551.5,1651.3 550.6,1653.4 552.7,1650.0C554.8,1646.6 558.6,1640.3 561.5,1635.5C564.4,1630.7 567.4,1625.8 570.3,1621.4C573.2,1617.0 576.2,1612.6 579.1,1609.1C582.0,1605.6 585.3,1602.5 587.9,1600.3C590.5,1598.1 592.6,1596.9 594.9,1595.9C597.2,1595.0 600.6,1594.8 601.8,1594.6" stroke="#ff0000" stroke-width="4.6"/>
<path d="" stroke="#ff0000" stroke-width="4.6"/>
<path d="M601.6,1569.6C603.8,1568.7 610.2,1565.9 615.1,1563.9C620.0,1561.9 625.7,1559.2 631.0,1557.5C636.4,1555.8 641.9,1553.9 647.0,1553.5C652.0,1553.1 657.5,1554.3 661.3,1555.1C665.2,1555.9 668.6,1557.8 670.1,1558.3" stroke="#ff0000" stroke-width="4.6"/>
<path d="" stroke="#ff0000" stroke-width="4.6"/>
<path d="M404.6,1818.0C406.8,1818.0 413.2,1818.5 417.6,1817.8C422.0,1817.1 426.4,1815.7 430.8,1813.6C435.2,1811.5 439.6,1808.3 444.0,1805.0C448.4,1801.7 452.8,1797.8 457.1,1793.6C461.4,1789.4 465.9,1784.6 470.0,1780.0C474.1,1775.4 478.2,1771.0 482.0,1766.0C485.8,1761.0 489.5,1755.5 493.0,1750.0C496.5,1744.5 499.8,1738.5 503.0,1733.0C506.2,1727.5 509.0,1722.5 512.0,1717.0C515.0,1711.5 518.2,1705.7 521.0,1700.0C523.8,1694.3 526.5,1688.7 529.0,1683.0C531.5,1677.3 534.0,1671.5 536.0,1666.0C538.0,1660.5 538.5,1655.5 541.3,1650.0C544.1,1644.5 549.0,1638.4 552.7,1632.9C556.4,1627.4 559.9,1621.5 563.3,1617.0C566.7,1612.5 569.8,1608.7 573.0,1605.6C576.2,1602.5 579.4,1600.4 582.6,1598.6C585.8,1596.8 589.1,1595.5 592.3,1594.6C595.5,1593.6 600.2,1593.2 601.8,1592.9" stroke="#ff0000" stroke-width="4.6"/>
<path d="M471.7,1658.0C474.4,1655.9 482.3,1650.2 487.6,1645.1C492.9,1640.1 498.3,1633.2 503.6,1627.6C508.9,1622.0 514.2,1616.5 519.5,1611.7C524.8,1606.9 530.1,1602.4 535.4,1598.9C540.8,1595.5 546.1,1593.6 551.4,1591.0C556.7,1588.3 562.0,1585.9 567.3,1583.0C572.6,1580.1 578.7,1575.7 583.2,1573.4C587.8,1571.2 591.3,1570.3 594.4,1569.5C597.4,1568.7 600.4,1568.8 601.6,1568.7" stroke="#ff0000" stroke-width="4.6"/>
<path d="M601.6,1568.7C603.3,1569.7 608.3,1572.9 611.9,1575.0C615.5,1577.2 619.4,1579.5 623.1,1581.4C626.8,1583.3 630.2,1584.7 634.2,1586.2C638.2,1587.6 643.0,1589.0 647.0,1590.2C651.0,1591.4 654.3,1592.4 658.1,1593.4C662.0,1594.3 668.1,1595.3 670.1,1595.7" stroke="#ff0000" stroke-width="4.6"/>
<path d="M135.8,1848.8C137.5,1847.2 142.2,1843.7 145.7,1839.2C149.2,1834.7 152.9,1828.1 156.9,1821.7C160.9,1815.3 165.4,1807.6 169.6,1801.0C173.9,1794.3 178.1,1787.7 182.4,1781.8C186.6,1776.0 190.9,1770.7 195.1,1765.9C199.4,1761.1 204.1,1756.1 207.9,1753.2C211.6,1750.2 214.2,1749.4 217.4,1748.4C220.6,1747.4 223.8,1746.6 227.0,1747.1C230.2,1747.6 233.4,1749.5 236.5,1751.6C239.7,1753.6 242.4,1756.4 246.1,1759.5C249.8,1762.7 254.6,1767.2 258.8,1770.7C263.1,1774.1 267.3,1778.1 271.6,1780.3C275.8,1782.4 280.6,1783.0 284.3,1783.4C288.1,1783.8 290.3,1783.1 293.9,1782.6C297.5,1782.2 303.9,1780.9 305.9,1780.6" stroke="#ff0000" stroke-width="4.6"/>
<path d="M305.9,1780.6C308.9,1779.5 318.5,1776.1 324.2,1773.9C329.9,1771.7 334.8,1769.5 340.1,1767.5C345.4,1765.5 350.7,1763.4 356.0,1761.9C361.4,1760.5 366.7,1759.1 372.0,1758.7C377.3,1758.3 382.5,1758.9 387.9,1759.5C393.4,1760.1 401.9,1761.9 404.6,1762.4" stroke="#ff0000" stroke-width="4.6"/>
<path d="M404.6,1762.4C406.5,1763.3 411.9,1765.7 415.9,1767.5C419.9,1769.3 424.4,1771.4 428.7,1773.1C432.9,1774.8 437.4,1776.5 441.4,1777.9C445.4,1779.2 448.9,1780.8 452.6,1781.0C456.3,1781.3 460.0,1780.9 463.7,1779.5C467.5,1778.0 471.2,1775.1 474.9,1772.3C478.6,1769.5 482.6,1765.8 486.0,1762.7C489.5,1759.7 492.4,1756.3 495.6,1754.0C498.8,1751.6 502.0,1749.4 505.2,1748.7C508.4,1748.0 511.3,1748.4 514.7,1750.0C518.2,1751.5 522.2,1754.5 525.9,1757.9C529.6,1761.4 533.3,1766.2 537.0,1770.7C540.8,1775.2 544.5,1780.3 548.2,1785.0C551.9,1789.8 555.9,1794.6 559.3,1799.4C562.8,1804.2 565.7,1808.9 568.9,1813.7C572.1,1818.5 575.3,1823.8 578.5,1828.1C581.6,1832.3 585.1,1836.3 588.0,1839.2C590.9,1842.1 593.7,1844.3 596.0,1845.6C598.2,1846.9 600.6,1846.9 601.6,1847.2" stroke="#ff0000" stroke-width="4.6"/>
<path d="M601.6,1847.2C603.0,1848.1 607.3,1850.9 610.3,1852.8C613.4,1854.6 617.0,1856.5 619.9,1858.3C622.8,1860.2 625.5,1862.3 627.9,1863.9C630.2,1865.5 631.3,1866.1 634.2,1868.0C637.2,1870.0 641.4,1873.0 645.4,1875.5C649.4,1878.1 654.0,1880.8 658.1,1883.5C662.2,1886.2 668.1,1890.1 670.1,1891.5" stroke="#ff0000" stroke-width="4.6"/>
<path d="M135.8,1849.1C138.0,1849.4 144.1,1850.7 148.9,1851.2C153.7,1851.6 159.5,1852.2 164.8,1851.6C170.1,1851.1 175.5,1850.0 180.8,1848.0C186.1,1845.9 191.4,1842.5 196.7,1839.2C202.0,1835.9 207.3,1831.8 212.6,1828.1C217.9,1824.3 223.3,1820.4 228.6,1816.9C233.9,1813.4 239.2,1810.4 244.5,1807.3C249.8,1804.3 255.1,1801.4 260.4,1798.6C265.8,1795.8 271.1,1793.0 276.4,1790.6C281.7,1788.2 287.4,1785.9 292.3,1784.2C297.2,1782.6 303.6,1781.2 305.9,1780.6" stroke="#ff0000" stroke-width="4.6"/>
<path d="M135.8,1894.6C138.0,1894.5 144.1,1894.5 148.9,1893.9C153.7,1893.2 159.5,1892.4 164.8,1890.7C170.1,1888.9 175.5,1886.0 180.8,1883.5C186.1,1881.0 191.4,1878.3 196.7,1875.5C202.0,1872.7 207.3,1869.4 212.6,1866.8C217.9,1864.2 223.3,1862.3 228.6,1859.9C233.9,1857.6 239.2,1855.0 244.5,1852.8C249.8,1850.5 255.1,1848.0 260.4,1846.4C265.8,1844.8 271.1,1843.8 276.4,1843.2C281.7,1842.6 287.4,1842.8 292.3,1842.7C297.2,1842.6 303.6,1842.7 305.9,1842.7" stroke="#ff0000" stroke-width="4.6"/>
<path d="M305.9,1842.7C308.9,1842.5 318.5,1841.8 324.2,1841.6C329.9,1841.4 334.8,1841.3 340.1,1841.6C345.4,1841.9 350.7,1842.4 356.0,1843.2C361.4,1844.0 366.7,1845.3 372.0,1846.4C377.3,1847.4 382.5,1849.0 387.9,1849.6C393.4,1850.2 401.9,1850.0 404.6,1850.0" stroke="#ff0000" stroke-width="4.6"/>
<path d="M404.6,1850.0C406.5,1849.4 411.9,1848.2 415.9,1846.4C419.9,1844.6 424.4,1842.0 428.7,1839.2C432.9,1836.4 437.4,1832.4 441.4,1829.6C445.4,1826.9 448.9,1824.1 452.6,1822.5C456.3,1820.9 460.3,1820.4 463.7,1820.1C467.2,1819.8 469.8,1820.1 473.3,1820.9C476.7,1821.7 480.7,1823.1 484.5,1824.9C488.2,1826.6 491.6,1828.6 495.6,1831.2C499.6,1833.9 504.1,1837.6 508.4,1840.8C512.6,1844.0 516.8,1847.2 521.1,1850.4C525.3,1853.5 530.7,1857.2 533.8,1859.9C537.0,1862.7 537.0,1864.0 540.2,1866.8C543.4,1869.5 548.7,1873.4 553.0,1876.3C557.2,1879.2 561.5,1882.0 565.7,1884.3C570.0,1886.5 574.2,1888.4 578.5,1889.9C582.7,1891.3 587.4,1892.4 591.2,1893.1C595.1,1893.7 599.8,1893.7 601.6,1893.9" stroke="#ff0000" stroke-width="4.6"/>
<path d="M601.6,1893.9C603.3,1892.9 608.3,1890.5 611.9,1888.3C615.5,1886.0 619.4,1883.2 623.1,1880.3C626.8,1877.4 630.8,1874.1 634.2,1870.7C637.7,1867.3 640.3,1862.8 643.8,1859.9C647.2,1857.1 650.6,1855.8 654.9,1853.5C659.3,1851.3 667.6,1847.6 670.1,1846.4" stroke="#ff0000" stroke-width="4.6"/>
<path d="M135.8,1895.0C139.3,1894.5 150.7,1892.7 156.9,1892.3C163.0,1891.8 168.0,1891.5 172.8,1892.3C177.6,1893.1 181.3,1894.8 185.5,1897.0C189.8,1899.3 194.0,1902.7 198.3,1905.8C202.5,1908.9 206.8,1912.6 211.0,1915.4C215.3,1918.2 219.5,1920.5 223.8,1922.5C228.0,1924.5 231.8,1926.0 236.5,1927.3C241.3,1928.6 247.2,1929.3 252.5,1930.5C257.8,1931.7 263.1,1933.2 268.4,1934.5C273.7,1935.8 279.6,1937.5 284.3,1938.5C289.1,1939.5 293.5,1940.1 297.1,1940.5C300.7,1940.9 304.4,1940.8 305.9,1940.9" stroke="#ff0000" stroke-width="4.6"/>
<path d="M305.9,1940.9C307.6,1941.5 312.6,1942.7 316.2,1944.8C319.8,1947.0 323.6,1950.6 327.4,1953.6C331.1,1956.7 334.5,1960.2 338.5,1963.2C342.5,1966.1 347.0,1968.9 351.3,1971.1C355.5,1973.4 359.2,1975.1 364.0,1976.7C368.8,1978.3 374.6,1979.8 379.9,1980.7C385.3,1981.6 391.8,1982.0 395.9,1982.3C400.0,1982.6 403.2,1982.6 404.6,1982.6" stroke="#ff0000" stroke-width="4.6"/>
<path d="M404.6,1982.6C406.5,1982.3 411.4,1981.8 415.9,1980.7C420.5,1979.6 426.6,1977.8 431.9,1975.9C437.2,1974.1 442.5,1971.9 447.8,1969.5C453.1,1967.1 459.0,1964.2 463.7,1961.6C468.5,1958.9 472.2,1956.5 476.5,1953.6C480.7,1950.7 485.0,1947.5 489.2,1944.0C493.5,1940.6 497.7,1936.6 502.0,1932.9C506.2,1929.2 510.5,1925.2 514.7,1921.7C519.0,1918.3 523.2,1915.1 527.5,1912.2C531.7,1909.3 536.0,1906.5 540.2,1904.2C544.5,1902.0 548.5,1900.1 553.0,1898.6C557.5,1897.2 562.3,1896.2 567.3,1895.4C572.4,1894.7 577.5,1894.6 583.2,1894.3C589.0,1894.1 598.5,1893.9 601.6,1893.9" stroke="#ff0000" stroke-width="4.6"/>
<path d="M601.6,1893.9C603.3,1894.8 608.3,1897.7 611.9,1899.4C615.5,1901.2 619.4,1903.1 623.1,1904.2C626.8,1905.3 630.5,1905.9 634.2,1905.8C637.9,1905.7 641.4,1904.7 645.4,1903.4C649.4,1902.1 654.0,1899.8 658.1,1897.8C662.2,1895.8 668.1,1892.5 670.1,1891.5" stroke="#ff0000" stroke-width="4.6"/>
<path d="M135.8,1921.7C137.0,1922.3 140.1,1922.8 142.5,1924.9C145.0,1927.0 147.6,1930.2 150.5,1934.5C153.4,1938.7 156.9,1945.6 160.1,1950.4C163.2,1955.2 166.4,1959.2 169.6,1963.2C172.8,1967.1 176.0,1970.9 179.2,1974.3C182.4,1977.8 185.5,1981.0 188.7,1983.9C191.9,1986.8 195.1,1989.6 198.3,1991.8C201.5,1994.1 204.7,1996.0 207.9,1997.4C211.0,1998.9 214.2,2000.1 217.4,2000.6C220.6,2001.1 223.8,2001.1 227.0,2000.6C230.2,2000.1 233.4,1999.1 236.5,1997.4C239.7,1995.7 242.9,1993.3 246.1,1990.3C249.3,1987.2 252.5,1983.3 255.7,1979.1C258.8,1974.8 262.0,1969.5 265.2,1964.8C268.4,1960.0 271.6,1954.7 274.8,1950.4C278.0,1946.2 281.2,1942.3 284.3,1939.3C287.5,1936.2 290.3,1933.6 293.9,1932.1C297.5,1930.6 303.9,1930.4 305.9,1930.0" stroke="#ff0000" stroke-width="4.6"/>
<path d="M305.9,1930.0C308.1,1930.4 314.5,1930.7 319.4,1932.1C324.3,1933.5 330.0,1935.9 335.3,1938.5C340.6,1941.0 346.0,1943.9 351.3,1947.2C356.6,1950.6 361.9,1954.7 367.2,1958.4C372.5,1962.1 378.4,1966.2 383.1,1969.5C387.9,1972.9 392.3,1976.3 395.9,1978.3C399.5,1980.3 403.2,1981.0 404.6,1981.5" stroke="#ff0000" stroke-width="4.6"/>
<path d="M404.6,1981.5C406.0,1980.7 409.8,1978.2 412.7,1976.7C415.7,1975.2 419.1,1973.6 422.3,1972.7C425.5,1971.8 428.7,1971.5 431.9,1971.5C435.1,1971.5 438.0,1971.8 441.4,1972.7C444.9,1973.6 448.9,1975.1 452.6,1976.7C456.3,1978.3 460.0,1980.0 463.7,1982.3C467.5,1984.5 470.9,1987.9 474.9,1990.3C478.9,1992.6 483.1,1994.8 487.6,1996.6C492.2,1998.5 497.5,2000.5 502.0,2001.4C506.5,2002.3 510.7,2002.6 514.7,2002.2C518.7,2001.8 522.2,2000.7 525.9,1999.0C529.6,1997.3 533.3,1994.9 537.0,1991.8C540.8,1988.8 544.5,1984.7 548.2,1980.7C551.9,1976.7 555.9,1972.2 559.3,1967.9C562.8,1963.7 565.7,1959.4 568.9,1955.2C572.1,1950.9 575.3,1946.4 578.5,1942.5C581.6,1938.5 585.1,1934.4 588.0,1931.3C590.9,1928.2 593.7,1925.7 596.0,1924.1C598.2,1922.5 600.6,1922.1 601.6,1921.7" stroke="#ff0000" stroke-width="4.6"/>
<path d="M601.6,1921.7C603.0,1922.0 607.3,1921.7 610.3,1923.3C613.4,1924.9 616.7,1927.8 619.9,1931.3C623.1,1934.7 626.3,1939.5 629.5,1944.0C632.6,1948.6 635.8,1953.9 639.0,1958.4C642.2,1962.9 645.4,1967.3 648.6,1971.1C651.8,1975.0 654.5,1978.3 658.1,1981.5C661.7,1984.7 668.1,1988.8 670.1,1990.3" stroke="#ff0000" stroke-width="4.6"/>
<path d="M135.8,2012.6C137.0,2011.2 139.8,2008.0 142.5,2004.6C145.2,2001.1 148.6,1996.4 152.1,1991.8C155.5,1987.3 159.3,1982.0 163.2,1977.5C167.2,1973.0 171.7,1968.5 176.0,1964.8C180.2,1961.0 184.5,1957.9 188.7,1955.2C193.0,1952.5 197.2,1950.5 201.5,1948.8C205.7,1947.2 210.5,1946.0 214.2,1945.3C217.9,1944.7 220.6,1944.7 223.8,1944.8C227.0,1945.0 229.6,1945.0 233.4,1946.4C237.1,1947.9 241.8,1950.8 246.1,1953.6C250.3,1956.4 254.6,1960.0 258.8,1963.2C263.1,1966.4 267.3,1969.5 271.6,1972.7C275.8,1975.9 280.4,1979.2 284.3,1982.3C288.3,1985.3 291.9,1989.1 295.5,1991.0C299.1,1993.0 304.1,1993.7 305.9,1994.2" stroke="#ff0000" stroke-width="4.6"/>
<path d="M305.9,1994.2C308.9,1994.0 317.1,1993.3 324.2,1992.6C331.2,1992.0 340.1,1990.9 348.1,1990.3C356.0,1989.6 365.3,1989.2 372.0,1988.7C378.6,1988.1 382.5,1987.5 387.9,1987.1C393.4,1986.6 401.9,1986.1 404.6,1986.0" stroke="#ff0000" stroke-width="4.6"/>
<path d="M404.6,1986.0C406.5,1987.2 412.5,1991.4 415.9,1993.4C419.4,1995.5 422.3,1997.3 425.5,1998.2C428.7,1999.1 431.9,1999.5 435.1,1999.0C438.2,1998.5 441.2,1997.0 444.6,1995.0C448.1,1993.0 451.8,1989.7 455.8,1987.1C459.8,1984.4 464.5,1982.0 468.5,1979.1C472.5,1976.2 475.7,1972.7 479.7,1969.5C483.7,1966.4 488.2,1962.6 492.4,1960.0C496.7,1957.3 500.9,1955.2 505.2,1953.6C509.4,1952.0 513.7,1950.8 517.9,1950.4C522.2,1950.0 526.4,1950.3 530.7,1951.2C534.9,1952.1 539.4,1953.9 543.4,1956.0C547.4,1958.1 551.1,1961.2 554.6,1964.0C558.0,1966.8 560.9,1969.1 564.1,1972.7C567.3,1976.3 570.5,1981.2 573.7,1985.5C576.9,1989.7 580.1,1994.5 583.2,1998.2C586.4,2001.9 589.7,2005.4 592.8,2007.8C595.9,2010.2 600.1,2011.8 601.6,2012.6" stroke="#ff0000" stroke-width="4.6"/>
<path d="M601.6,2012.6C603.8,2012.6 610.2,2013.1 615.1,2012.6C620.0,2012.0 625.7,2011.0 631.0,2009.4C636.4,2007.8 642.2,2005.1 647.0,2003.0C651.8,2000.9 655.9,1998.8 659.7,1996.6C663.6,1994.5 668.4,1991.3 670.1,1990.3" stroke="#ff0000" stroke-width="4.6"/>
<path d="M135.8,2022.9C137.5,2023.2 142.2,2023.3 145.7,2024.5C149.2,2025.7 153.2,2028.1 156.9,2030.1C160.6,2032.1 164.3,2034.2 168.0,2036.5C171.7,2038.7 175.6,2041.3 179.2,2043.6C182.8,2046.0 187.8,2049.3 189.5,2050.5" stroke="#ff0000" stroke-width="4.6"/>
<path d="M135.8,2023.7C137.0,2025.3 140.3,2030.1 142.5,2033.3C144.7,2036.5 147.0,2040.0 148.9,2042.8C150.8,2045.7 153.2,2049.2 154.0,2050.5" stroke="#ff0000" stroke-width="4.6"/>
<path d="M244.5,2050.5C246.1,2048.1 250.6,2040.9 254.1,2036.5C257.5,2032.0 261.5,2027.4 265.2,2023.7C268.9,2020.0 272.7,2016.9 276.4,2014.2C280.1,2011.4 284.1,2008.7 287.5,2007.0C291.0,2005.3 294.0,2004.5 297.1,2003.8C300.1,2003.1 304.4,2003.1 305.9,2003.0" stroke="#ff0000" stroke-width="4.6"/>
<path d="M305.9,2003.0C308.9,2003.1 318.5,2003.3 324.2,2003.8C329.9,2004.3 335.6,2005.1 340.1,2006.2C344.6,2007.2 347.3,2008.3 351.3,2010.2C355.2,2012.0 359.8,2015.1 364.0,2017.3C368.3,2019.6 372.5,2021.9 376.8,2023.7C381.0,2025.6 384.9,2026.6 389.5,2028.5C394.2,2030.4 402.1,2034.1 404.6,2035.2" stroke="#ff0000" stroke-width="4.6"/>
<path d="M404.6,2035.2C406.0,2036.2 410.1,2039.4 412.7,2041.2C415.4,2043.0 418.3,2044.5 420.7,2046.0C423.2,2047.6 426.3,2049.7 427.4,2050.5" stroke="#ff0000" stroke-width="4.6"/>
<path d="M265.2,2050.5C266.8,2048.1 271.6,2040.9 274.8,2036.5C278.0,2032.0 281.4,2027.6 284.3,2023.7C287.3,2019.9 289.7,2016.0 292.3,2013.4C295.0,2010.7 298.0,2009.0 300.3,2007.8C302.5,2006.6 304.9,2006.5 305.9,2006.2" stroke="#ff0000" stroke-width="4.6"/>
<path d="M305.9,2006.2C308.4,2006.3 315.8,2006.3 321.0,2007.0C326.2,2007.6 331.9,2008.7 336.9,2010.2C342.0,2011.6 346.7,2013.8 351.3,2015.7C355.8,2017.7 359.8,2020.1 364.0,2022.1C368.3,2024.1 372.5,2026.1 376.8,2027.7C381.0,2029.3 384.9,2030.3 389.5,2031.7C394.2,2033.1 402.1,2035.4 404.6,2036.1" stroke="#ff0000" stroke-width="4.6"/>
<path d="M404.6,2036.1C405.7,2036.7 409.0,2038.3 411.2,2039.6C413.3,2041.0 415.4,2042.6 417.5,2044.4C419.7,2046.2 422.8,2049.5 423.9,2050.5" stroke="#ff0000" stroke-width="4.6"/>
<path d="M359.2,2050.5C360.6,2048.4 364.5,2041.2 367.2,2038.1C369.9,2034.9 372.0,2033.0 375.2,2031.7C378.4,2030.4 382.3,2029.8 386.3,2030.1C390.3,2030.4 396.0,2032.3 399.1,2033.3C402.1,2034.2 403.7,2035.3 404.6,2035.7" stroke="#ff0000" stroke-width="4.6"/>
<path d="M387.9,2050.5C389.2,2049.2 393.1,2045.4 395.9,2042.8C398.7,2040.3 403.2,2036.5 404.6,2035.2" stroke="#ff0000" stroke-width="4.6"/>
<path d="M404.6,2035.2C406.0,2033.3 410.1,2026.4 412.7,2023.7C415.4,2021.1 418.1,2020.2 420.7,2019.3C423.4,2018.3 426.0,2017.8 428.7,2018.1C431.3,2018.5 433.7,2019.5 436.6,2021.3C439.6,2023.2 443.0,2026.2 446.2,2029.3C449.4,2032.3 452.8,2036.1 455.8,2039.6C458.7,2043.2 462.7,2048.7 464.1,2050.5" stroke="#ff0000" stroke-width="4.6"/>
<path d="" stroke="#ff0000" stroke-width="4.6"/>
<path d="M404.5,1987.9C406.4,1988.8 412.4,1991.7 415.9,1993.4C419.4,1995.2 422.6,1996.9 425.5,1998.2C428.4,1999.5 430.5,1999.0 433.5,2001.4C436.4,2003.8 439.8,2008.7 443.0,2012.6C446.2,2016.4 449.4,2020.5 452.6,2024.5C455.8,2028.5 458.8,2032.1 462.1,2036.5C465.5,2040.8 470.8,2048.1 472.5,2050.5" stroke="#ff0000" stroke-width="4.6"/>
<path d="M568.9,2031.7C570.8,2030.9 576.3,2028.2 580.1,2026.9C583.8,2025.6 587.6,2024.4 591.2,2023.7C594.8,2023.1 599.8,2023.1 601.6,2022.9" stroke="#ff0000" stroke-width="4.6"/>
<path d="M601.6,2022.9C603.8,2023.1 610.2,2023.1 615.1,2023.7C620.0,2024.4 625.7,2025.6 631.0,2026.9C636.4,2028.2 641.7,2029.8 647.0,2031.7C652.3,2033.5 659.1,2036.5 662.9,2038.1C666.8,2039.6 668.9,2040.7 670.1,2041.2" stroke="#ff0000" stroke-width="4.6"/>
<path d="M583.2,2050.5C584.6,2048.1 588.8,2040.4 591.2,2036.5C593.6,2032.5 595.9,2029.2 597.6,2026.9C599.3,2024.6 600.9,2023.6 601.6,2022.9" stroke="#ff0000" stroke-width="4.6"/>
<path d="M601.6,2022.9C603.3,2023.6 608.3,2025.2 611.9,2026.9C615.5,2028.6 619.6,2030.9 623.1,2033.3C626.5,2035.7 629.7,2038.4 632.6,2041.2C635.6,2044.1 639.5,2048.9 640.9,2050.5" stroke="#ff0000" stroke-width="4.6"/>
<path d="M653.4,2050.5C654.7,2049.6 658.5,2046.8 661.3,2045.2C664.1,2043.7 668.6,2041.9 670.1,2041.2" stroke="#ff0000" stroke-width="4.6"/>
<path d="M615.1,1857.2C617.0,1858.3 622.3,1861.2 626.3,1863.6C630.2,1866.0 634.8,1868.8 639.0,1871.5C643.3,1874.3 648.0,1877.8 651.8,1880.3C655.5,1882.8 658.3,1884.8 661.3,1886.7C664.4,1888.5 668.6,1890.7 670.1,1891.5" stroke="#ff0000" stroke-width="4.6"/>
<path d="M135.8,1241.5C137.0,1241.3 140.2,1240.9 142.5,1240.0C144.8,1239.0 148.5,1236.6 149.7,1236.0" stroke="#4444ff" stroke-width="4.2"/>
<path d="M135.8,1274.2C137.2,1273.4 141.4,1271.8 144.1,1269.4C146.8,1267.0 149.4,1263.3 152.1,1259.9C154.7,1256.4 157.7,1252.2 160.1,1248.7C162.4,1245.3 164.9,1241.4 166.4,1239.2C168.0,1236.9 168.8,1235.8 169.3,1235.2" stroke="#4444ff" stroke-width="4.2"/>
<path d="M135.8,1290.9C137.2,1289.5 141.4,1285.5 144.1,1282.2C146.8,1278.9 149.4,1275.0 152.1,1271.0C154.7,1267.0 157.4,1262.8 160.1,1258.3C162.7,1253.8 165.8,1247.8 168.0,1243.9C170.2,1240.1 172.3,1236.6 173.1,1235.2" stroke="#4444ff" stroke-width="4.2"/>
<path d="M135.8,1299.7C138.0,1298.9 144.6,1296.9 148.9,1294.9C153.2,1292.9 157.7,1289.6 161.6,1287.8C165.6,1285.9 169.3,1284.4 172.8,1283.8C176.3,1283.1 179.2,1283.0 182.4,1283.8C185.5,1284.6 188.7,1286.2 191.9,1288.5C195.1,1290.9 198.3,1294.7 201.5,1298.1C204.7,1301.6 207.9,1305.3 211.0,1309.3C214.2,1313.2 217.4,1317.8 220.6,1322.0C223.8,1326.3 227.0,1330.8 230.2,1334.8C233.4,1338.7 236.0,1342.5 239.7,1345.9C243.4,1349.4 248.2,1352.8 252.5,1355.5C256.7,1358.1 261.2,1360.5 265.2,1361.8C269.2,1363.2 272.4,1363.7 276.4,1363.4C280.4,1363.2 284.2,1361.3 289.1,1360.3C294.0,1359.2 303.1,1357.9 305.9,1357.4" stroke="#4444ff" stroke-width="4.2"/>
<path d="M305.9,1357.4C308.9,1357.1 318.5,1356.5 324.2,1355.5C329.9,1354.5 334.8,1353.5 340.1,1351.5C345.4,1349.5 350.7,1346.7 356.0,1343.5C361.4,1340.3 366.7,1336.5 372.0,1332.4C377.3,1328.3 383.4,1322.4 387.9,1318.8C392.4,1315.2 396.3,1312.7 399.1,1310.9C401.9,1309.0 403.7,1308.2 404.6,1307.7" stroke="#4444ff" stroke-width="4.2"/>
<path d="M404.6,1307.7C406.0,1307.3 410.1,1305.8 412.7,1305.3C415.4,1304.7 417.5,1305.7 420.7,1304.5C423.9,1303.3 427.9,1300.2 431.9,1298.1C435.9,1296.0 440.4,1293.9 444.6,1291.7C448.9,1289.6 453.1,1287.2 457.4,1285.4C461.6,1283.5 465.9,1281.8 470.1,1280.6C474.4,1279.4 478.6,1278.5 482.9,1278.2C487.1,1277.9 491.4,1278.1 495.6,1279.0C499.9,1279.9 504.1,1281.6 508.4,1283.8C512.6,1285.9 516.8,1288.8 521.1,1291.7C525.3,1294.7 529.6,1298.4 533.8,1301.3C538.1,1304.2 542.3,1307.0 546.6,1309.3C550.8,1311.5 555.4,1313.8 559.3,1314.8C563.3,1315.9 567.0,1316.0 570.5,1315.6C573.9,1315.2 576.6,1314.0 580.1,1312.5C583.5,1310.9 587.6,1308.1 591.2,1306.1C594.8,1304.1 599.8,1301.4 601.6,1300.5" stroke="#4444ff" stroke-width="4.2"/>
<path d="M135.8,1301.0C139.3,1300.8 149.4,1300.3 156.9,1299.7C164.4,1299.1 174.1,1297.9 180.8,1297.3C187.4,1296.7 191.4,1296.3 196.7,1296.2C202.0,1296.1 207.3,1296.3 212.6,1296.8C217.9,1297.4 223.3,1298.2 228.6,1299.7C233.9,1301.2 239.2,1303.7 244.5,1306.1C249.8,1308.5 255.1,1311.4 260.4,1314.0C265.8,1316.7 271.1,1319.8 276.4,1322.0C281.7,1324.3 287.4,1326.4 292.3,1327.6C297.2,1328.8 303.6,1328.9 305.9,1329.2" stroke="#4444ff" stroke-width="4.2"/>
<path d="M305.9,1329.2C308.9,1329.4 317.1,1330.2 324.2,1330.3C331.2,1330.4 341.4,1330.3 348.1,1330.0C354.7,1329.7 358.7,1329.4 364.0,1328.4C369.3,1327.3 374.6,1325.5 379.9,1323.6C385.3,1321.7 391.8,1318.6 395.9,1317.2C400.0,1315.8 403.2,1315.6 404.6,1315.3" stroke="#4444ff" stroke-width="4.2"/>
<path d="M404.6,1315.3C405.5,1315.6 407.1,1315.1 409.6,1317.2C412.0,1319.4 415.4,1324.1 419.1,1328.4C422.8,1332.6 427.6,1337.9 431.9,1342.7C436.1,1347.5 440.4,1352.3 444.6,1357.1C448.9,1361.8 453.1,1366.9 457.4,1371.4C461.6,1375.9 465.9,1380.2 470.1,1384.2C474.4,1388.1 478.6,1391.9 482.9,1395.3C487.1,1398.8 491.4,1401.9 495.6,1404.9C499.9,1407.8 504.1,1410.4 508.4,1412.8C512.6,1415.2 516.6,1417.3 521.1,1419.2C525.6,1421.1 530.4,1422.7 535.4,1424.0C540.5,1425.3 546.1,1426.6 551.4,1427.2C556.7,1427.7 562.0,1427.6 567.3,1427.2C572.6,1426.8 577.5,1425.6 583.2,1424.8C589.0,1424.0 598.5,1422.8 601.6,1422.4" stroke="#4444ff" stroke-width="4.2"/>
<path d="M135.8,1301.6C137.5,1302.6 142.2,1305.7 145.7,1307.7C149.2,1309.6 153.2,1312.0 156.9,1313.2C160.6,1314.5 164.3,1315.5 168.0,1315.3C171.7,1315.2 175.7,1314.0 179.2,1312.5C182.6,1310.9 185.5,1309.0 188.7,1306.1C191.9,1303.2 195.1,1299.2 198.3,1294.9C201.5,1290.7 204.7,1285.6 207.9,1280.6C211.0,1275.5 214.2,1269.7 217.4,1264.6C220.6,1259.6 224.1,1254.8 227.0,1250.3C229.9,1245.8 233.4,1240.1 234.9,1237.6C236.5,1235.0 236.3,1235.6 236.5,1235.2" stroke="#4444ff" stroke-width="4.2"/>
<path d="M135.8,1422.4C137.2,1422.0 141.4,1421.3 144.1,1420.0C146.8,1418.7 149.2,1417.5 152.1,1414.4C155.0,1411.4 158.2,1406.2 161.6,1401.7C165.1,1397.2 168.8,1392.4 172.8,1387.3C176.8,1382.3 181.6,1376.2 185.5,1371.4C189.5,1366.6 192.7,1363.4 196.7,1358.7C200.7,1353.9 204.9,1348.0 209.5,1342.7C214.0,1337.4 219.3,1331.6 223.8,1326.8C228.3,1322.0 232.3,1318.0 236.5,1314.0C240.8,1310.1 245.0,1306.3 249.3,1302.9C253.5,1299.4 257.5,1296.3 262.0,1293.3C266.5,1290.4 271.6,1287.8 276.4,1285.4C281.2,1283.0 285.8,1280.4 290.7,1279.0C295.6,1277.5 303.3,1277.0 305.9,1276.6" stroke="#4444ff" stroke-width="4.2"/>
<path d="M305.9,1276.6C308.9,1277.3 318.5,1278.9 324.2,1280.6C329.9,1282.3 334.8,1285.1 340.1,1287.0C345.4,1288.8 350.7,1290.7 356.0,1291.7C361.4,1292.8 366.7,1293.1 372.0,1293.3C377.3,1293.5 382.5,1293.3 387.9,1293.0C393.4,1292.7 401.9,1291.9 404.6,1291.7" stroke="#4444ff" stroke-width="4.2"/>
<path d="M404.6,1291.7C406.0,1291.7 410.1,1292.3 412.7,1291.7C415.4,1291.2 417.5,1290.7 420.7,1288.5C423.9,1286.4 427.9,1282.4 431.9,1279.0C435.9,1275.5 440.4,1271.2 444.6,1267.8C448.9,1264.5 453.1,1261.3 457.4,1259.1C461.6,1256.8 466.4,1255.2 470.1,1254.3C473.8,1253.4 476.5,1253.2 479.7,1253.5C482.9,1253.8 485.8,1254.3 489.2,1255.9C492.7,1257.5 496.7,1260.3 500.4,1263.1C504.1,1265.8 507.8,1269.4 511.5,1272.6C515.3,1275.8 519.2,1279.5 522.7,1282.2C526.1,1284.8 529.3,1287.6 532.3,1288.5C535.2,1289.5 537.6,1288.5 540.2,1287.8C542.9,1287.0 545.3,1284.6 548.2,1283.8C551.1,1282.9 554.6,1282.2 557.7,1282.5C560.9,1282.8 563.9,1283.8 567.3,1285.4C570.8,1286.9 574.5,1289.7 578.5,1291.7C582.4,1293.7 587.4,1295.9 591.2,1297.3C595.1,1298.8 599.8,1300.0 601.6,1300.5" stroke="#4444ff" stroke-width="4.2"/>
<path d="M601.6,1300.5C603.8,1301.2 610.2,1302.2 615.1,1304.5C620.0,1306.7 625.7,1310.3 631.0,1314.0C636.4,1317.8 641.9,1322.5 647.0,1326.8C652.0,1331.0 657.5,1336.4 661.3,1339.5C665.2,1342.7 668.6,1344.8 670.1,1345.9" stroke="#4444ff" stroke-width="4.2"/>
<path d="M135.8,1412.8C137.5,1412.3 142.2,1411.2 145.7,1409.6C149.2,1408.1 152.9,1405.7 156.9,1403.3C160.9,1400.9 165.4,1397.8 169.6,1395.3C173.9,1392.8 177.8,1390.3 182.4,1388.1C186.9,1386.0 191.7,1384.0 196.7,1382.6C201.7,1381.1 206.0,1380.3 212.6,1379.4C219.3,1378.4 228.6,1377.9 236.5,1377.0C244.5,1376.1 253.8,1374.5 260.4,1373.8C267.1,1373.1 271.1,1372.8 276.4,1372.7C281.7,1372.5 287.4,1372.8 292.3,1373.0C297.2,1373.2 303.6,1373.7 305.9,1373.8" stroke="#4444ff" stroke-width="4.2"/>
<path d="M305.9,1373.8C308.9,1374.3 318.5,1375.5 324.2,1377.0C329.9,1378.4 334.8,1380.8 340.1,1382.6C345.4,1384.3 350.7,1386.0 356.0,1387.3C361.4,1388.7 366.7,1389.7 372.0,1390.5C377.3,1391.3 382.5,1391.9 387.9,1392.1C393.4,1392.4 401.9,1392.1 404.6,1392.1" stroke="#4444ff" stroke-width="4.2"/>
<path d="M404.6,1392.1C406.5,1391.9 411.4,1391.3 415.9,1390.5C420.5,1389.7 426.6,1388.9 431.9,1387.3C437.2,1385.7 443.0,1383.4 447.8,1381.0C452.6,1378.6 456.3,1376.2 460.5,1373.0C464.8,1369.8 469.0,1365.8 473.3,1361.8C477.5,1357.9 482.1,1353.1 486.0,1349.1C490.0,1345.1 494.0,1340.7 497.2,1337.9C500.4,1335.2 502.8,1333.4 505.2,1332.4C507.6,1331.3 508.9,1330.6 511.5,1331.6C514.2,1332.5 517.4,1334.8 521.1,1337.9C524.8,1341.1 529.6,1345.9 533.8,1350.7C538.1,1355.5 542.3,1361.0 546.6,1366.6C550.8,1372.2 555.1,1378.6 559.3,1384.2C563.6,1389.7 568.1,1396.1 572.1,1400.1C576.1,1404.1 579.8,1405.9 583.2,1408.1C586.7,1410.2 589.7,1411.9 592.8,1412.8C595.9,1413.8 600.1,1413.5 601.6,1413.6" stroke="#4444ff" stroke-width="4.2"/>
<path d="M135.8,1423.2C138.0,1423.7 144.1,1425.7 148.9,1426.4C153.7,1427.0 159.5,1427.7 164.8,1427.2C170.1,1426.6 175.5,1424.9 180.8,1423.2C186.1,1421.5 191.4,1418.7 196.7,1416.8C202.0,1415.0 207.3,1413.0 212.6,1412.0C217.9,1411.1 223.3,1410.8 228.6,1411.2C233.9,1411.6 239.2,1412.8 244.5,1414.4C249.8,1416.0 255.1,1418.5 260.4,1420.8C265.8,1423.1 271.1,1425.8 276.4,1428.0C281.7,1430.1 287.4,1432.4 292.3,1433.5C297.2,1434.7 303.6,1434.9 305.9,1435.1" stroke="#4444ff" stroke-width="4.2"/>
<path d="M305.9,1435.1C308.9,1434.7 317.1,1434.3 324.2,1432.8C331.2,1431.2 340.1,1427.8 348.1,1425.6C356.0,1423.3 365.3,1420.7 372.0,1419.2C378.6,1417.7 382.5,1417.3 387.9,1416.8C393.4,1416.3 401.9,1416.4 404.6,1416.3" stroke="#4444ff" stroke-width="4.2"/>
<path d="M404.6,1416.3C406.5,1416.6 411.4,1417.1 415.9,1417.6C420.5,1418.1 426.6,1419.2 431.9,1419.2C437.2,1419.2 442.5,1418.3 447.8,1417.6C453.1,1417.0 458.4,1416.0 463.7,1415.2C469.0,1414.4 474.4,1413.5 479.7,1412.8C485.0,1412.2 490.3,1411.5 495.6,1411.2C500.9,1411.0 506.2,1410.8 511.5,1411.2C516.8,1411.6 522.2,1412.3 527.5,1413.6C532.8,1415.0 538.1,1417.2 543.4,1419.2C548.7,1421.2 554.0,1423.5 559.3,1425.6C564.7,1427.7 570.0,1430.1 575.3,1432.0C580.6,1433.8 586.8,1435.4 591.2,1436.7C595.6,1438.1 599.8,1439.4 601.6,1439.9" stroke="#4444ff" stroke-width="4.2"/>
<path d="M135.8,1440.7C138.0,1439.8 144.1,1436.9 148.9,1435.1C153.7,1433.4 159.5,1432.1 164.8,1430.4C170.1,1428.6 175.5,1426.6 180.8,1424.8C186.1,1422.9 191.4,1420.9 196.7,1419.2C202.0,1417.5 207.3,1416.0 212.6,1414.4C217.9,1412.8 223.3,1411.6 228.6,1409.6C233.9,1407.7 239.2,1404.9 244.5,1402.5C249.8,1400.1 255.1,1397.2 260.4,1395.3C265.8,1393.4 271.1,1392.3 276.4,1391.3C281.7,1390.4 287.4,1390.0 292.3,1389.7C297.2,1389.5 303.6,1389.7 305.9,1389.7" stroke="#4444ff" stroke-width="4.2"/>
<path d="M305.9,1389.7C310.2,1389.9 323.8,1390.0 332.1,1390.5C340.5,1391.1 348.1,1392.3 356.0,1392.9C364.0,1393.6 371.8,1394.2 379.9,1394.5C388.0,1394.8 400.5,1394.5 404.6,1394.5" stroke="#4444ff" stroke-width="4.2"/>
<path d="M404.6,1394.5C406.5,1394.4 411.4,1394.2 415.9,1393.7C420.5,1393.2 426.6,1392.3 431.9,1391.3C437.2,1390.4 442.5,1389.2 447.8,1388.1C453.1,1387.1 458.4,1386.0 463.7,1385.0C469.0,1383.9 474.4,1382.7 479.7,1381.8C485.0,1380.8 490.3,1379.9 495.6,1379.4C500.9,1378.8 506.2,1378.4 511.5,1378.6C516.8,1378.7 522.2,1379.1 527.5,1380.2C532.8,1381.2 538.1,1383.0 543.4,1385.0C548.7,1386.9 554.0,1389.3 559.3,1392.1C564.7,1394.9 570.0,1398.6 575.3,1401.7C580.6,1404.7 586.8,1408.5 591.2,1410.4C595.6,1412.4 599.8,1413.1 601.6,1413.6" stroke="#4444ff" stroke-width="4.2"/>
<path d="M601.6,1413.6C603.0,1413.2 607.3,1413.0 610.3,1411.2C613.4,1409.5 616.7,1406.7 619.9,1403.3C623.1,1399.8 626.3,1395.0 629.5,1390.5C632.6,1386.0 635.8,1381.2 639.0,1376.2C642.2,1371.1 645.4,1366.1 648.6,1360.3C651.8,1354.4 655.5,1347.0 658.1,1341.1C660.8,1335.3 662.5,1330.0 664.5,1325.2C666.5,1320.4 669.2,1314.6 670.1,1312.5" stroke="#4444ff" stroke-width="4.2"/>
<path d="M135.8,1441.5C139.3,1440.5 149.4,1436.7 156.9,1435.1C164.4,1433.5 172.8,1432.4 180.8,1432.0C188.7,1431.5 198.0,1431.9 204.7,1432.3C211.3,1432.7 215.3,1433.2 220.6,1434.3C225.9,1435.5 231.2,1437.5 236.5,1439.1C241.8,1440.8 247.2,1442.9 252.5,1444.4C257.8,1445.8 263.1,1446.6 268.4,1447.9C273.7,1449.2 278.1,1451.0 284.3,1452.0C290.6,1453.0 302.3,1453.6 305.9,1453.9" stroke="#4444ff" stroke-width="4.2"/>
<path d="M305.9,1453.9C308.9,1454.6 318.5,1456.5 324.2,1457.9C329.9,1459.4 334.8,1461.2 340.1,1462.7C345.4,1464.2 350.7,1465.5 356.0,1466.7C361.4,1467.9 366.7,1469.1 372.0,1469.9C377.3,1470.7 382.5,1471.1 387.9,1471.5C393.4,1471.8 401.9,1471.7 404.6,1471.8" stroke="#4444ff" stroke-width="4.2"/>
<path d="M404.6,1471.8C407.9,1471.6 418.0,1470.7 423.9,1470.7C429.8,1470.7 434.5,1471.4 439.8,1471.8C445.1,1472.2 450.5,1473.1 455.8,1473.1C461.1,1473.1 466.4,1472.6 471.7,1471.8C477.0,1471.0 481.0,1469.9 487.6,1468.3C494.3,1466.6 503.6,1464.0 511.5,1461.9C519.5,1459.8 527.5,1457.7 535.4,1455.5C543.4,1453.4 551.4,1451.1 559.3,1449.2C567.3,1447.2 576.2,1445.1 583.2,1443.6C590.3,1442.0 598.5,1440.5 601.6,1439.9" stroke="#4444ff" stroke-width="4.2"/>
<path d="M135.8,1442.3C139.3,1442.4 149.4,1442.4 156.9,1442.8C164.4,1443.1 172.8,1443.7 180.8,1444.4C188.7,1445.0 196.7,1445.8 204.7,1446.6C212.6,1447.5 220.6,1448.8 228.6,1449.5C236.5,1450.1 245.8,1450.4 252.5,1450.4C259.1,1450.4 263.1,1450.1 268.4,1449.5C273.7,1448.9 278.1,1447.7 284.3,1446.8C290.6,1445.8 302.3,1444.1 305.9,1443.6" stroke="#4444ff" stroke-width="4.2"/>
<path d="M305.9,1443.6C308.9,1442.4 318.5,1438.1 324.2,1436.7C329.9,1435.3 334.8,1435.1 340.1,1435.1C345.4,1435.1 350.7,1435.7 356.0,1436.7C361.4,1437.8 366.7,1439.7 372.0,1441.5C377.3,1443.3 382.5,1445.2 387.9,1447.6C393.4,1449.9 401.9,1454.2 404.6,1455.5" stroke="#4444ff" stroke-width="4.2"/>
<path d="M404.6,1455.5C406.5,1456.3 411.4,1458.8 415.9,1460.3C420.5,1461.8 427.1,1463.8 431.9,1464.3C436.6,1464.8 439.8,1464.6 444.6,1463.5C449.4,1462.4 455.2,1459.9 460.5,1457.9C465.9,1455.9 471.7,1453.5 476.5,1451.5C481.3,1449.6 484.7,1447.9 489.2,1446.0C493.7,1444.0 498.5,1441.9 503.6,1439.9C508.6,1438.0 514.2,1435.7 519.5,1434.3C524.8,1433.0 530.1,1432.5 535.4,1432.0C540.8,1431.4 546.1,1431.2 551.4,1431.2C556.7,1431.2 562.0,1431.3 567.3,1432.0C572.6,1432.6 577.5,1433.7 583.2,1435.1C589.0,1436.6 598.5,1439.8 601.6,1440.7" stroke="#4444ff" stroke-width="4.2"/>
<path d="M135.8,1443.6C138.0,1444.1 144.1,1445.4 148.9,1446.8C153.7,1448.1 159.5,1450.0 164.8,1451.5C170.1,1453.1 175.5,1454.6 180.8,1456.3C186.1,1458.1 191.4,1460.0 196.7,1461.9C202.0,1463.8 207.3,1465.5 212.6,1467.5C217.9,1469.5 223.3,1471.5 228.6,1473.9C233.9,1476.2 239.2,1479.3 244.5,1481.8C249.8,1484.3 255.1,1486.9 260.4,1489.0C265.8,1491.1 271.1,1493.0 276.4,1494.6C281.7,1496.2 287.4,1497.8 292.3,1498.5C297.2,1499.3 303.6,1499.2 305.9,1499.3" stroke="#4444ff" stroke-width="4.2"/>
<path d="M305.9,1499.3C308.9,1498.8 318.5,1497.9 324.2,1496.2C329.9,1494.4 334.8,1491.6 340.1,1489.0C345.4,1486.3 350.7,1483.4 356.0,1480.2C361.4,1477.0 366.7,1473.1 372.0,1469.9C377.3,1466.7 382.5,1463.6 387.9,1461.1C393.4,1458.6 401.9,1455.8 404.6,1454.7" stroke="#4444ff" stroke-width="4.2"/>
<path d="M404.6,1454.7C406.5,1453.5 411.4,1449.4 415.9,1447.6C420.5,1445.7 426.6,1444.2 431.9,1443.6C437.2,1442.9 442.5,1443.2 447.8,1443.6C453.1,1444.0 458.4,1445.2 463.7,1446.0C469.0,1446.8 473.0,1447.7 479.7,1448.4C486.3,1449.0 495.6,1449.8 503.6,1450.0C511.5,1450.1 519.5,1449.9 527.5,1449.5C535.4,1449.1 543.4,1448.4 551.4,1447.6C559.3,1446.7 568.6,1445.3 575.3,1444.4C581.9,1443.4 586.8,1442.7 591.2,1442.0C595.6,1441.2 599.8,1440.3 601.6,1439.9" stroke="#4444ff" stroke-width="4.2"/>
<path d="M339.3,1235.2C341.3,1237.7 347.1,1245.1 351.3,1250.3C355.4,1255.5 359.8,1260.9 364.0,1266.2C368.3,1271.6 372.5,1277.1 376.8,1282.2C381.0,1287.2 385.8,1292.5 389.5,1296.5C393.2,1300.5 396.5,1303.8 399.1,1306.1C401.6,1308.3 403.7,1309.4 404.6,1310.1" stroke="#4444ff" stroke-width="4.2"/>
<path d="M404.6,1310.1C406.0,1309.0 410.1,1305.0 412.7,1303.7C415.4,1302.4 417.5,1302.0 420.7,1302.1C423.9,1302.2 427.4,1303.0 431.9,1304.5C436.4,1305.9 442.5,1308.9 447.8,1310.9C453.1,1312.8 458.4,1314.7 463.7,1316.4C469.0,1318.2 474.4,1319.8 479.7,1321.2C485.0,1322.7 490.8,1324.0 495.6,1325.2C500.4,1326.4 505.2,1328.7 508.4,1328.4C511.5,1328.1 512.3,1326.5 514.7,1323.6C517.1,1320.7 520.0,1314.8 522.7,1310.9C525.3,1306.9 528.3,1302.5 530.7,1299.7C533.0,1296.9 534.4,1294.8 537.0,1294.1C539.7,1293.5 542.9,1295.1 546.6,1295.7C550.3,1296.4 554.6,1297.4 559.3,1298.1C564.1,1298.8 570.0,1299.2 575.3,1299.7C580.6,1300.2 586.8,1301.0 591.2,1301.3C595.6,1301.6 599.8,1301.3 601.6,1301.3" stroke="#4444ff" stroke-width="4.2"/>
<path d="M415.9,1448.0C418.6,1447.4 426.6,1444.9 431.9,1443.9C437.2,1443.0 442.5,1442.3 447.8,1442.3C453.1,1442.3 458.4,1443.1 463.7,1443.9C469.0,1444.7 474.9,1446.0 479.7,1447.1C484.5,1448.2 490.3,1450.1 492.4,1450.7" stroke="#4444ff" stroke-width="4.2"/>
<path d="M495.6,1448.7C503.6,1448.3 530.1,1447.1 543.4,1446.3C556.7,1445.5 565.6,1444.8 575.3,1443.9C585.0,1443.0 597.2,1441.3 601.6,1440.7" stroke="#4444ff" stroke-width="4.2"/>
<path d="M565.7,1235.2C566.8,1237.4 569.7,1244.1 572.1,1248.7C574.5,1253.4 577.4,1258.5 580.1,1263.1C582.7,1267.6 585.4,1271.8 588.0,1275.8C590.7,1279.8 593.7,1284.4 596.0,1287.0C598.2,1289.5 600.6,1290.3 601.6,1290.9" stroke="#4444ff" stroke-width="4.2"/>
<path d="M601.6,1290.9C603.8,1290.7 610.2,1290.3 615.1,1289.3C620.0,1288.4 625.7,1286.7 631.0,1285.4C636.4,1284.0 641.7,1282.5 647.0,1281.4C652.3,1280.3 659.1,1279.3 662.9,1278.7C666.8,1278.1 668.9,1277.9 670.1,1277.7" stroke="#4444ff" stroke-width="4.2"/>
<path d="M568.9,1235.2C570.2,1238.0 574.2,1247.3 576.9,1251.9C579.5,1256.5 582.2,1259.9 584.8,1263.1C587.5,1266.2 590.0,1269.2 592.8,1271.0C595.6,1272.9 600.1,1273.7 601.6,1274.2" stroke="#4444ff" stroke-width="4.2"/>
<path d="M601.6,1274.2C605.2,1274.3 615.5,1274.3 623.1,1274.5C630.6,1274.8 639.1,1275.1 647.0,1275.8C654.8,1276.5 666.2,1278.5 670.1,1279.0" stroke="#4444ff" stroke-width="4.2"/>
<path d="M587.2,1235.2C588.4,1236.1 592.0,1239.7 594.4,1240.7C596.8,1241.8 598.1,1241.5 601.6,1241.5C605.0,1241.5 610.7,1241.2 615.1,1240.7C619.5,1240.3 623.9,1239.8 627.9,1238.8C631.8,1237.9 637.2,1235.8 639.0,1235.2" stroke="#4444ff" stroke-width="4.2"/>
<path d="" stroke="#4444ff" stroke-width="4.2"/>
<path d="M601.6,1290.9C602.5,1289.7 605.2,1286.3 607.1,1283.8C609.1,1281.2 611.1,1278.2 613.5,1275.8C615.9,1273.4 618.8,1270.8 621.5,1269.4C624.1,1268.1 626.5,1267.8 629.5,1267.8C632.4,1267.9 636.1,1268.2 639.0,1269.7C641.9,1271.3 644.3,1274.0 647.0,1277.4C649.6,1280.8 652.3,1285.9 654.9,1290.1C657.6,1294.4 660.4,1299.2 662.9,1302.9C665.4,1306.6 668.9,1310.9 670.1,1312.5" stroke="#4444ff" stroke-width="4.2"/>
<path d="" stroke="#4444ff" stroke-width="4.2"/>
<path d="M601.6,1300.5C603.0,1303.8 607.3,1313.6 610.3,1320.4C613.4,1327.2 616.7,1334.2 619.9,1341.1C623.1,1348.0 626.3,1355.2 629.5,1361.8C632.6,1368.5 635.8,1375.1 639.0,1381.0C642.2,1386.8 645.4,1392.1 648.6,1396.9C651.8,1401.7 655.5,1406.2 658.1,1409.6C660.8,1413.1 662.5,1415.5 664.5,1417.6C666.5,1419.7 669.2,1421.6 670.1,1422.4" stroke="#4444ff" stroke-width="4.2"/>
<path d="M670.1,1345.9C668.6,1347.5 664.4,1351.8 661.3,1355.5C658.3,1359.2 654.9,1364.2 651.8,1368.2C648.6,1372.2 645.4,1375.4 642.2,1379.4C639.0,1383.4 635.8,1387.9 632.6,1392.1C629.5,1396.4 626.3,1400.6 623.1,1404.9C619.9,1409.1 616.2,1413.6 613.5,1417.6C610.9,1421.6 609.1,1425.1 607.1,1428.8C605.2,1432.5 602.5,1438.1 601.6,1439.9" stroke="#4444ff" stroke-width="4.2"/>
<path d="" stroke="#4444ff" stroke-width="4.2"/>
<path d="M601.6,1423.2C603.3,1422.0 608.3,1418.0 611.9,1416.0C615.5,1414.0 619.1,1412.4 623.1,1411.2C627.1,1410.0 631.6,1409.2 635.8,1408.9C640.1,1408.5 644.3,1408.5 648.6,1408.9C652.8,1409.2 657.7,1410.6 661.3,1411.2C664.9,1411.9 668.6,1412.6 670.1,1412.8" stroke="#4444ff" stroke-width="4.2"/>
<path d="" stroke="#4444ff" stroke-width="4.2"/>
<path d="M601.6,1440.7C603.8,1439.5 610.2,1435.8 615.1,1433.5C620.0,1431.3 625.7,1429.3 631.0,1427.2C636.4,1425.1 641.9,1422.8 647.0,1420.8C652.0,1418.8 657.5,1416.4 661.3,1415.2C665.2,1414.0 668.6,1413.9 670.1,1413.6" stroke="#4444ff" stroke-width="4.2"/>
<path d="" stroke="#4444ff" stroke-width="4.2"/>
<path d="M601.6,1423.2C603.3,1424.4 608.3,1428.4 611.9,1430.4C615.5,1432.4 619.1,1433.9 623.1,1435.1C627.1,1436.3 631.6,1437.3 635.8,1437.5C640.1,1437.8 644.9,1437.5 648.6,1436.7C652.3,1435.9 655.5,1434.3 658.1,1432.8C660.8,1431.2 662.5,1428.9 664.5,1427.2C666.5,1425.4 669.2,1423.2 670.1,1422.4" stroke="#4444ff" stroke-width="4.2"/>
<path d="" stroke="#4444ff" stroke-width="4.2"/>
<path d="M601.6,1440.7C602.8,1441.4 606.5,1443.3 608.7,1444.7C611.0,1446.1 611.4,1446.8 615.1,1449.2C618.8,1451.5 625.7,1455.7 631.0,1458.7C636.4,1461.8 641.9,1465.0 647.0,1467.5C652.0,1470.0 657.5,1472.4 661.3,1473.9C665.2,1475.3 668.6,1475.8 670.1,1476.2" stroke="#4444ff" stroke-width="4.2"/>
<path d="" stroke="#4444ff" stroke-width="4.2"/>
<path d="M601.6,1440.4C603.0,1442.6 607.3,1449.7 610.3,1453.9C613.4,1458.2 616.4,1462.4 619.9,1465.9C623.3,1469.3 627.1,1472.5 631.0,1474.6C635.0,1476.8 639.5,1477.9 643.8,1478.6C648.0,1479.4 652.2,1479.5 656.5,1479.1C660.9,1478.7 667.8,1476.7 670.1,1476.2" stroke="#4444ff" stroke-width="4.2"/>
<path d="M626.3,1437.2C627.9,1437.7 632.6,1439.5 635.8,1439.9C639.0,1440.4 642.2,1440.4 645.4,1439.9C648.6,1439.5 653.4,1437.7 654.9,1437.2" stroke="#4444ff" stroke-width="4.2"/>
<path d="M135.8,1507.3C137.0,1508.0 140.1,1509.0 142.5,1511.3C145.0,1513.6 147.6,1516.6 150.5,1520.9C153.4,1525.1 156.6,1530.7 160.1,1536.8C163.5,1542.9 167.5,1550.3 171.2,1557.5C174.9,1564.7 178.6,1572.1 182.4,1579.8C186.1,1587.5 190.1,1596.0 193.5,1603.7C197.0,1611.4 200.2,1619.4 203.1,1626.0C206.0,1632.7 208.4,1638.2 211.0,1643.5C213.7,1648.9 215.8,1651.2 219.0,1658.0C222.2,1664.9 226.7,1677.0 230.2,1684.6C233.6,1692.3 236.3,1697.4 239.7,1703.8C243.2,1710.1 247.2,1716.8 250.9,1722.9C254.6,1729.0 258.3,1734.8 262.0,1740.4C265.8,1746.0 269.5,1751.3 273.2,1756.4C276.9,1761.4 280.6,1766.4 284.3,1770.7C288.1,1774.9 291.9,1778.9 295.5,1781.8C299.1,1784.8 304.1,1787.2 305.9,1788.2" stroke="#4444ff" stroke-width="4.2"/>
<path d="M305.9,1788.2C308.9,1788.4 318.5,1788.0 324.2,1789.0C329.9,1790.1 334.8,1792.3 340.1,1794.6C345.4,1796.9 350.7,1799.9 356.0,1802.6C361.4,1805.2 366.7,1808.7 372.0,1810.5C377.3,1812.4 382.5,1813.3 387.9,1813.7C393.4,1814.1 401.9,1813.1 404.6,1812.9" stroke="#4444ff" stroke-width="4.2"/>
<path d="M404.6,1812.9C406.8,1812.4 413.2,1811.6 417.6,1810.1C422.0,1808.6 426.4,1806.8 430.8,1804.0C435.2,1801.2 440.4,1796.8 444.0,1793.4C447.6,1790.0 449.8,1787.5 452.7,1783.7C455.6,1779.9 459.0,1774.5 461.5,1770.5C464.0,1766.5 464.8,1765.6 467.7,1760.0C470.6,1754.4 475.5,1743.5 478.8,1736.7C482.1,1729.9 484.7,1725.1 487.6,1719.1C490.5,1713.1 493.5,1707.0 496.4,1700.7C499.3,1694.4 502.3,1687.8 505.2,1681.3C508.1,1674.8 511.4,1667.7 514.0,1662.0C516.6,1656.3 519.2,1650.7 521.0,1647.0C522.8,1643.3 522.1,1644.8 524.5,1640.0C526.9,1635.2 531.8,1626.0 535.4,1618.1C539.1,1610.1 542.6,1601.3 546.6,1592.6C550.6,1583.8 555.1,1574.0 559.3,1565.5C563.6,1557.0 568.1,1548.5 572.1,1541.6C576.1,1534.7 579.8,1529.1 583.2,1524.0C586.7,1519.0 589.7,1514.1 592.8,1511.3C595.9,1508.5 600.1,1508.0 601.6,1507.3" stroke="#4444ff" stroke-width="4.2"/>
<path d="M601.6,1507.3C603.0,1508.0 607.3,1508.5 610.3,1511.3C613.4,1514.1 616.7,1519.0 619.9,1524.0C623.1,1529.1 626.3,1535.2 629.5,1541.6C632.6,1547.9 635.8,1555.1 639.0,1562.3C642.2,1569.5 645.4,1577.2 648.6,1584.6C651.8,1592.0 655.2,1600.8 658.1,1606.9C661.1,1613.0 664.1,1618.1 666.1,1621.2C668.1,1624.4 669.4,1625.2 670.1,1626.0" stroke="#4444ff" stroke-width="4.2"/>
<path d="M670.2,1626.8C668.9,1632.0 665.6,1646.5 662.6,1657.9C659.6,1669.3 655.9,1682.7 652.5,1695.0C649.1,1707.3 645.8,1720.2 642.4,1732.0C639.0,1743.8 635.7,1756.2 632.3,1765.7C628.9,1775.2 625.3,1783.5 622.2,1789.3C619.1,1795.1 616.3,1798.1 613.8,1800.5C611.3,1802.9 609.0,1803.0 607.0,1803.5C605.0,1804.0 602.6,1803.6 601.7,1803.6" stroke="#4444ff" stroke-width="4.2"/>
<path d="M601.7,1803.6C600.5,1803.7 597.5,1804.2 594.4,1804.2C591.3,1804.2 587.7,1803.8 583.2,1803.4C578.7,1803.0 571.2,1802.2 567.3,1801.8C563.4,1801.4 563.0,1801.4 560.0,1800.9C557.0,1800.4 553.5,1799.2 549.5,1798.7C545.5,1798.2 540.7,1797.9 536.3,1798.2C531.9,1798.5 527.5,1799.0 523.1,1800.4C518.7,1801.8 514.3,1804.1 509.9,1806.6C505.5,1809.1 501.1,1812.0 496.7,1815.4C492.3,1818.8 487.9,1822.8 483.5,1826.8C479.1,1830.8 474.7,1834.8 470.3,1839.1C465.9,1843.3 461.5,1848.3 457.1,1852.3C452.7,1856.3 448.4,1860.0 444.0,1862.9C439.6,1865.8 435.2,1868.2 430.8,1869.9C426.4,1871.7 422.0,1872.9 417.6,1873.4C413.2,1873.9 406.9,1872.9 404.7,1872.8" stroke="#4444ff" stroke-width="4.2"/>
<path d="M404.7,1872.8C401.9,1872.7 393.4,1873.5 387.9,1872.3C382.5,1871.2 378.1,1869.4 372.0,1866.0C365.9,1862.6 357.4,1855.6 351.3,1852.0C345.2,1848.3 340.4,1846.1 335.3,1844.0C330.3,1841.9 325.9,1840.3 321.0,1839.2C316.1,1838.1 308.4,1837.9 305.9,1837.6" stroke="#4444ff" stroke-width="4.2"/>
<path d="M305.9,1837.6C303.6,1837.5 297.2,1837.5 292.3,1836.8C287.4,1836.2 281.7,1835.4 276.4,1833.6C271.1,1831.9 265.8,1829.2 260.4,1826.5C255.1,1823.7 249.8,1820.1 244.5,1816.9C239.2,1813.7 233.9,1810.0 228.6,1807.3C223.3,1804.7 217.9,1802.5 212.6,1801.0C207.3,1799.4 202.0,1798.5 196.7,1798.1C191.4,1797.7 187.4,1798.0 180.8,1798.6C174.1,1799.2 164.4,1800.9 156.9,1801.8C149.4,1802.6 139.3,1803.5 135.8,1803.8" stroke="#4444ff" stroke-width="4.2"/>
<path d="M135.8,1642.8C137.5,1643.3 142.5,1644.3 145.7,1645.9C149.0,1647.5 151.6,1648.5 155.3,1652.3C159.0,1656.1 163.8,1663.1 168.0,1668.7C172.3,1674.4 176.5,1680.1 180.8,1686.2C185.0,1692.3 189.3,1699.0 193.5,1705.4C197.8,1711.7 202.0,1718.1 206.3,1724.5C210.5,1730.9 214.8,1737.5 219.0,1743.6C223.3,1749.7 227.5,1755.6 231.8,1761.1C236.0,1766.7 240.3,1772.0 244.5,1777.1C248.8,1782.1 253.3,1787.2 257.3,1791.4C261.2,1795.7 264.7,1799.1 268.4,1802.6C272.1,1806.0 275.6,1809.3 279.6,1812.1C283.5,1814.9 287.9,1817.6 292.3,1819.3C296.7,1821.0 303.6,1821.9 305.9,1822.5" stroke="#4444ff" stroke-width="4.2"/>
<path d="M305.9,1822.5C308.9,1822.9 318.5,1823.8 324.2,1824.9C329.9,1825.9 334.8,1827.4 340.1,1828.9C345.4,1830.3 350.7,1832.3 356.0,1833.6C361.4,1835.0 366.7,1836.2 372.0,1836.8C377.3,1837.5 382.5,1837.5 387.9,1837.6C393.4,1837.7 401.9,1837.3 404.6,1837.3" stroke="#4444ff" stroke-width="4.2"/>
<path d="M404.6,1837.3C406.8,1837.2 413.2,1837.2 417.6,1836.5C422.0,1835.8 426.4,1834.9 430.8,1833.0C435.2,1831.1 439.6,1828.3 444.0,1825.1C448.4,1821.9 453.5,1817.1 457.1,1813.6C460.8,1810.1 462.9,1807.5 465.9,1804.0C468.9,1800.5 472.0,1796.4 475.0,1792.5C478.0,1788.6 481.0,1784.6 484.0,1780.5C487.0,1776.4 489.6,1772.6 493.0,1768.0C496.4,1763.4 500.8,1757.9 504.5,1753.0C508.2,1748.1 511.5,1743.8 515.5,1738.5C519.5,1733.2 524.2,1727.0 528.6,1721.0C533.0,1715.0 537.4,1708.9 541.8,1702.8C546.2,1696.7 550.6,1690.5 555.0,1684.5C559.4,1678.5 564.5,1671.3 568.2,1666.5C571.9,1661.7 574.1,1658.5 577.0,1655.5C579.9,1652.5 582.7,1650.4 585.5,1648.5C588.3,1646.6 591.3,1645.2 594.0,1644.2C596.7,1643.2 600.4,1642.9 601.7,1642.6" stroke="#4444ff" stroke-width="4.2"/>
<path d="M601.7,1642.6C603.4,1642.0 607.8,1640.7 611.9,1638.8C616.0,1636.8 621.7,1633.5 626.3,1630.8C630.8,1628.1 634.8,1625.5 639.0,1622.8C643.3,1620.2 647.8,1617.1 651.8,1614.9C655.7,1612.6 659.9,1610.5 662.9,1609.3C666.0,1608.1 668.9,1608.0 670.1,1607.7" stroke="#4444ff" stroke-width="4.2"/>
<path d="M135.8,1624.9C137.3,1625.5 141.8,1626.4 144.9,1628.4C148.0,1630.4 151.3,1633.8 154.5,1636.9C157.7,1640.0 160.2,1642.8 164.0,1647.1C167.9,1651.3 173.2,1656.6 177.6,1662.3C182.0,1668.1 186.1,1675.1 190.3,1681.5C194.6,1687.8 198.8,1694.2 203.1,1700.6C207.3,1707.0 211.6,1713.3 215.8,1719.7C220.1,1726.1 224.3,1732.5 228.6,1738.8C232.8,1745.2 237.1,1751.8 241.3,1757.9C245.6,1764.1 249.8,1769.9 254.1,1775.5C258.3,1781.0 262.8,1786.4 266.8,1791.4C270.8,1796.5 274.2,1801.5 278.0,1805.7C281.7,1810.0 285.7,1813.7 289.1,1816.9C292.6,1820.1 295.9,1823.1 298.7,1824.9C301.5,1826.6 304.7,1826.9 305.9,1827.3" stroke="#4444ff" stroke-width="4.2"/>
<path d="M305.9,1827.3C308.4,1827.7 316.1,1828.2 321.0,1829.6C325.9,1831.1 330.3,1833.4 335.3,1836.0C340.4,1838.7 346.0,1842.4 351.3,1845.6C356.6,1848.8 361.9,1852.2 367.2,1855.1C372.5,1858.1 378.4,1860.5 383.1,1863.1C387.9,1865.7 392.3,1869.0 395.9,1870.7C399.5,1872.5 403.2,1873.1 404.6,1873.6" stroke="#4444ff" stroke-width="4.2"/>
<path d="M404.6,1873.6C406.8,1872.3 413.2,1868.8 417.6,1865.5C422.0,1862.2 426.4,1858.5 430.8,1854.1C435.2,1849.7 440.4,1843.6 444.0,1839.1C447.6,1834.5 449.8,1830.9 452.7,1826.8C455.6,1822.7 458.6,1818.6 461.5,1814.5C464.4,1810.4 467.4,1806.4 470.3,1802.2C473.2,1798.0 476.2,1793.7 479.1,1789.5C482.0,1785.3 484.9,1781.2 487.9,1777.0C490.9,1772.8 494.0,1768.6 497.0,1764.5C500.0,1760.4 502.7,1756.9 506.0,1752.5C509.3,1748.1 513.0,1743.3 517.0,1738.0C521.0,1732.7 525.6,1726.5 530.0,1720.5C534.4,1714.5 538.8,1708.4 543.2,1702.3C547.6,1696.2 552.0,1690.0 556.4,1684.0C560.8,1678.0 566.0,1670.8 569.6,1666.0C573.2,1661.2 575.4,1658.2 578.2,1655.2C581.0,1652.2 583.8,1650.1 586.5,1648.3C589.2,1646.5 592.0,1645.1 594.5,1644.2C597.0,1643.3 600.5,1643.0 601.7,1642.8" stroke="#4444ff" stroke-width="4.2"/>
<path d="M601.7,1642.8C603.9,1643.3 610.2,1644.8 615.1,1645.9C620.0,1647.1 625.7,1648.9 631.0,1649.9C636.4,1651.0 641.7,1651.8 647.0,1652.3C652.3,1652.8 659.1,1653.1 662.9,1653.1C666.8,1653.1 668.9,1652.4 670.1,1652.3" stroke="#4444ff" stroke-width="4.2"/>
<path d="M135.8,1624.4C137.2,1625.0 141.1,1625.8 144.1,1627.6C147.1,1629.5 150.5,1632.7 153.7,1635.6C156.9,1638.5 160.1,1642.3 163.2,1645.1C166.4,1648.0 169.3,1649.6 172.8,1652.8C176.3,1655.9 180.0,1658.9 184.0,1663.9C187.9,1669.0 192.5,1676.7 196.7,1683.1C201.0,1689.4 205.2,1695.8 209.5,1702.2C213.7,1708.5 217.9,1714.9 222.2,1721.3C226.4,1727.7 230.7,1734.3 234.9,1740.4C239.2,1746.5 243.4,1752.4 247.7,1757.9C251.9,1763.5 256.2,1769.1 260.4,1773.9C264.7,1778.7 268.9,1783.2 273.2,1786.6C277.4,1790.1 282.2,1792.9 285.9,1794.6C289.7,1796.3 292.2,1796.9 295.5,1797.0C298.8,1797.1 304.1,1795.7 305.9,1795.4" stroke="#4444ff" stroke-width="4.2"/>
<path d="M305.9,1795.4C308.9,1795.5 318.5,1794.9 324.2,1796.2C329.9,1797.5 334.8,1800.7 340.1,1803.4C345.4,1806.0 350.7,1809.2 356.0,1812.1C361.4,1815.0 366.7,1818.5 372.0,1820.9C377.3,1823.3 382.5,1825.2 387.9,1826.5C393.4,1827.7 401.9,1828.1 404.6,1828.4" stroke="#4444ff" stroke-width="4.2"/>
<path d="M404.6,1828.4C406.8,1827.5 413.2,1825.6 417.6,1823.3C422.0,1821.0 426.4,1818.0 430.8,1814.5C435.2,1811.0 439.6,1806.5 444.0,1802.2C448.4,1798.0 452.7,1793.4 457.1,1789.0C461.5,1784.6 466.0,1780.6 470.3,1775.8C474.6,1771.0 478.9,1765.0 483.2,1760.0C487.5,1755.0 492.0,1750.5 496.4,1745.5C500.8,1740.5 505.2,1735.3 509.6,1729.7C514.0,1724.1 518.3,1718.1 522.7,1712.1C527.1,1706.1 531.5,1699.8 535.9,1693.6C540.3,1687.4 545.2,1680.6 549.1,1675.2C553.0,1669.8 556.0,1665.6 559.3,1661.0C562.6,1656.4 565.7,1651.8 568.9,1647.5C572.1,1643.2 575.0,1639.0 578.5,1635.5C582.0,1632.0 585.7,1628.5 589.6,1626.5C593.5,1624.5 599.7,1624.1 601.7,1623.6" stroke="#4444ff" stroke-width="4.2"/>
<path d="M601.7,1623.6C603.4,1622.7 608.4,1620.0 611.9,1618.1C615.5,1616.1 619.1,1613.8 623.1,1611.7C627.1,1609.6 631.6,1606.9 635.8,1605.3C640.1,1603.7 644.3,1602.4 648.6,1602.1C652.8,1601.9 657.7,1602.8 661.3,1603.7C664.9,1604.6 668.6,1607.0 670.1,1607.7" stroke="#4444ff" stroke-width="4.2"/>
<path d="M201.5,1692.6C203.6,1695.8 210.0,1705.4 214.2,1711.7C218.5,1718.1 222.7,1724.7 227.0,1730.9C231.2,1737.0 235.5,1743.1 239.7,1748.4C244.0,1753.7 248.2,1758.5 252.5,1762.7C256.7,1767.0 261.0,1770.7 265.2,1773.9C269.5,1777.1 273.7,1779.9 278.0,1781.8C282.2,1783.8 286.1,1785.0 290.7,1785.8C295.4,1786.6 303.3,1786.5 305.9,1786.6" stroke="#4444ff" stroke-width="4.2"/>
<path d="M305.9,1786.6C308.9,1787.4 318.5,1789.4 324.2,1791.4C329.9,1793.4 334.8,1795.9 340.1,1798.6C345.4,1801.2 350.7,1804.3 356.0,1807.3C361.4,1810.4 366.7,1814.2 372.0,1816.9C377.3,1819.6 382.5,1821.2 387.9,1823.3C393.4,1825.4 401.9,1828.6 404.6,1829.6" stroke="#4444ff" stroke-width="4.2"/>
<path d="M404.6,1829.6C406.8,1829.3 413.2,1828.8 417.6,1827.7C422.0,1826.6 426.4,1825.2 430.8,1823.3C435.2,1821.4 439.6,1819.2 444.0,1816.3C448.4,1813.4 452.7,1809.5 457.1,1805.7C461.5,1801.9 465.9,1797.8 470.3,1793.4C474.7,1789.0 479.8,1783.4 483.5,1779.3C487.2,1775.2 489.5,1772.3 492.3,1768.8C495.1,1765.2 497.3,1762.2 500.5,1758.0C503.7,1753.8 507.5,1748.8 511.5,1743.5C515.5,1738.2 520.2,1732.0 524.6,1726.0C529.0,1720.0 533.4,1713.7 537.8,1707.5C542.2,1701.3 546.6,1695.2 551.0,1689.0C555.4,1682.8 560.5,1675.5 564.2,1670.5C567.9,1665.5 570.0,1662.3 573.0,1659.0C576.0,1655.7 578.9,1652.8 582.0,1650.5C585.1,1648.2 588.2,1646.3 591.5,1645.0C594.8,1643.7 600.0,1642.8 601.7,1642.4" stroke="#4444ff" stroke-width="4.2"/>
<path d="" stroke="#4444ff" stroke-width="4.2"/>
<path d="M601.6,1624.1C603.3,1625.2 608.3,1628.5 611.9,1630.8C615.5,1633.1 619.1,1635.7 623.1,1638.0C627.1,1640.2 631.6,1642.5 635.8,1644.3C640.1,1646.2 644.3,1647.9 648.6,1649.1C652.8,1650.3 657.7,1651.0 661.3,1651.5C664.9,1652.0 668.6,1652.2 670.1,1652.3" stroke="#4444ff" stroke-width="4.2"/>
<path d="M135.8,1911.9C139.3,1911.5 150.7,1910.1 156.9,1909.8C163.0,1909.4 167.5,1909.3 172.8,1909.8C178.1,1910.3 183.4,1911.4 188.7,1913.0C194.0,1914.6 199.4,1917.0 204.7,1919.3C210.0,1921.7 215.3,1924.5 220.6,1927.3C225.9,1930.1 231.2,1933.2 236.5,1936.1C241.8,1939.0 247.2,1942.1 252.5,1944.8C257.8,1947.6 263.1,1950.4 268.4,1952.8C273.7,1955.2 279.6,1957.7 284.3,1959.2C289.1,1960.7 293.5,1961.3 297.1,1961.9C300.7,1962.5 304.4,1962.6 305.9,1962.7" stroke="#4444ff" stroke-width="4.2"/>
<path d="M305.9,1962.7C308.9,1962.9 318.5,1963.1 324.2,1964.0C329.9,1964.8 334.8,1966.1 340.1,1967.9C345.4,1969.8 350.7,1972.5 356.0,1975.1C361.4,1977.8 366.7,1981.1 372.0,1983.9C377.3,1986.7 382.5,1990.0 387.9,1991.8C393.4,1993.7 401.9,1994.5 404.6,1995.0" stroke="#4444ff" stroke-width="4.2"/>
<path d="M404.6,1995.0C406.5,1994.8 411.4,1994.3 415.9,1993.9C420.5,1993.5 427.1,1993.7 431.9,1992.6C436.6,1991.6 440.4,1990.0 444.6,1987.9C448.9,1985.7 453.1,1982.9 457.4,1979.9C461.6,1976.8 465.9,1973.1 470.1,1969.5C474.4,1966.0 478.6,1962.1 482.9,1958.4C487.1,1954.7 491.4,1950.9 495.6,1947.2C499.9,1943.5 504.1,1939.5 508.4,1936.1C512.6,1932.6 516.8,1929.3 521.1,1926.5C525.3,1923.7 529.6,1921.5 533.8,1919.3C538.1,1917.2 542.3,1915.2 546.6,1913.8C550.8,1912.3 555.1,1911.2 559.3,1910.6C563.6,1909.9 567.3,1909.7 572.1,1909.8C576.9,1909.8 583.1,1910.6 588.0,1910.9C592.9,1911.2 599.3,1911.7 601.6,1911.9" stroke="#4444ff" stroke-width="4.2"/>
<path d="M601.6,1911.9C602.5,1912.4 605.4,1912.7 607.1,1915.4C608.9,1918.1 610.3,1923.1 611.9,1928.1C613.5,1933.2 615.1,1939.5 616.7,1945.6C618.3,1951.7 619.9,1958.4 621.5,1964.8C623.1,1971.1 624.7,1977.8 626.3,1983.9C627.9,1990.0 629.5,1995.6 631.0,2001.4C632.6,2007.2 634.2,2013.4 635.8,2018.9C637.4,2024.5 639.2,2029.6 640.6,2034.9C642.0,2040.1 643.5,2047.9 644.1,2050.5" stroke="#4444ff" stroke-width="4.2"/>
<path d="M250.9,2050.5C251.9,2047.6 254.9,2039.1 257.3,2033.3C259.6,2027.5 262.6,2021.3 265.2,2015.7C267.9,2010.2 270.5,2004.6 273.2,1999.8C275.8,1995.0 278.5,1990.8 281.2,1987.1C283.8,1983.3 286.5,1980.0 289.1,1977.5C291.8,1975.0 294.3,1973.1 297.1,1971.9C299.9,1970.7 304.4,1970.6 305.9,1970.3" stroke="#4444ff" stroke-width="4.2"/>
<path d="M305.9,1970.3C308.1,1970.6 315.0,1970.7 319.4,1971.9C323.8,1973.1 327.9,1975.2 332.1,1977.5C336.4,1979.8 340.6,1982.8 344.9,1985.5C349.1,1988.1 353.4,1991.0 357.6,1993.4C361.9,1995.8 366.1,1998.1 370.4,1999.8C374.6,2001.5 378.9,2003.1 383.1,2003.8C387.4,2004.5 392.3,2004.3 395.9,2004.3C399.5,2004.3 403.2,2003.9 404.6,2003.8" stroke="#4444ff" stroke-width="4.2"/>
<path d="M404.6,2003.8C406.5,2004.1 411.9,2004.2 415.9,2005.4C419.9,2006.6 424.7,2008.7 428.7,2011.0C432.7,2013.2 436.1,2016.0 439.8,2018.9C443.6,2021.9 447.3,2025.0 451.0,2028.5C454.7,2031.9 458.8,2036.0 462.1,2039.6C465.5,2043.3 469.4,2048.7 470.9,2050.5" stroke="#4444ff" stroke-width="4.2"/>
<path d="M345.7,2050.5C347.4,2048.7 352.5,2043.3 356.0,2039.6C359.6,2036.0 363.7,2032.2 367.2,2028.5C370.7,2024.8 373.6,2020.7 376.8,2017.3C379.9,2014.0 383.1,2010.7 386.3,2008.6C389.5,2006.5 392.8,2005.3 395.9,2004.6C398.9,2003.9 403.2,2004.3 404.6,2004.3" stroke="#4444ff" stroke-width="4.2"/>
<path d="M404.6,2004.3C406.3,2004.7 410.6,2005.5 414.3,2007.0C418.1,2008.5 423.1,2010.8 427.1,2013.4C431.1,2015.9 434.5,2018.8 438.2,2022.1C442.0,2025.4 445.9,2029.8 449.4,2033.3C452.8,2036.7 456.2,2040.0 459.0,2042.8C461.7,2045.7 464.5,2049.2 465.6,2050.5" stroke="#4444ff" stroke-width="4.2"/>
<path d="M279.6,2050.5C280.6,2048.1 283.8,2040.4 285.9,2036.5C288.1,2032.5 290.2,2029.4 292.3,2026.9C294.4,2024.4 296.4,2022.6 298.7,2021.3C300.9,2020.0 304.7,2019.6 305.9,2019.3" stroke="#4444ff" stroke-width="4.2"/>
<path d="M305.9,2019.3C308.1,2019.6 314.5,2020.0 319.4,2021.3C324.3,2022.6 330.0,2024.9 335.3,2026.9C340.6,2028.9 346.0,2031.2 351.3,2033.3C356.6,2035.4 362.4,2037.7 367.2,2039.6C372.0,2041.6 376.1,2043.4 379.9,2045.2C383.8,2047.0 388.6,2049.6 390.3,2050.5" stroke="#4444ff" stroke-width="4.2"/>
<path d="M135.8,2017.3C137.5,2017.5 142.2,2017.3 145.7,2018.1C149.2,2018.9 153.2,2020.3 156.9,2022.1C160.6,2024.0 164.3,2026.6 168.0,2029.3C171.7,2031.9 175.7,2035.3 179.2,2038.1C182.6,2040.8 185.8,2044.0 188.7,2046.0C191.7,2048.1 195.6,2049.7 197.0,2050.5" stroke="#4444ff" stroke-width="4.2"/>
<path d="M135.8,2018.1C137.2,2018.4 141.1,2018.5 144.1,2019.7C147.1,2020.9 150.5,2023.1 153.7,2025.3C156.9,2027.6 160.1,2030.4 163.2,2033.3C166.4,2036.2 169.8,2040.0 172.8,2042.8C175.8,2045.7 179.7,2049.2 181.1,2050.5" stroke="#4444ff" stroke-width="4.2"/>
<path d="M135.8,2042.8C137.2,2043.1 141.4,2043.8 144.1,2044.4C146.8,2045.1 149.6,2045.8 152.1,2046.8C154.5,2047.8 157.7,2049.9 158.8,2050.5" stroke="#4444ff" stroke-width="4.2"/>
<path d="M135.8,2043.6C137.0,2044.0 140.3,2044.9 142.5,2046.0C144.8,2047.2 148.1,2049.7 149.2,2050.5" stroke="#4444ff" stroke-width="4.2"/>
<path d="M546.6,2050.5C548.2,2048.7 552.7,2043.0 556.2,2039.6C559.6,2036.2 563.6,2032.9 567.3,2030.1C571.0,2027.3 574.7,2024.8 578.5,2022.9C582.2,2021.1 585.8,2019.9 589.6,2018.9C593.5,2018.0 599.6,2017.6 601.6,2017.3" stroke="#4444ff" stroke-width="4.2"/>
<path d="M601.6,2017.3C605.2,2017.5 615.5,2017.5 623.1,2018.1C630.6,2018.8 639.1,2020.1 647.0,2021.3C654.8,2022.5 666.2,2024.6 670.1,2025.3" stroke="#4444ff" stroke-width="4.2"/>
<path d="M553.0,2050.5C554.6,2048.9 559.1,2044.4 562.5,2041.2C566.0,2038.1 570.0,2034.5 573.7,2031.7C577.4,2028.9 581.4,2026.4 584.8,2024.5C588.3,2022.7 591.6,2021.4 594.4,2020.5C597.2,2019.7 600.4,2019.5 601.6,2019.3" stroke="#4444ff" stroke-width="4.2"/>
<path d="M601.6,2019.3C605.2,2019.7 615.5,2020.8 623.1,2022.1C630.6,2023.4 639.1,2025.0 647.0,2026.9C654.8,2028.8 666.2,2032.2 670.1,2033.3" stroke="#4444ff" stroke-width="4.2"/>
<path d="M578.5,2050.5C580.6,2049.5 587.4,2045.8 591.2,2044.4C595.1,2043.0 599.8,2042.4 601.6,2042.0" stroke="#4444ff" stroke-width="4.2"/>
<path d="M601.6,2042.0C605.2,2041.4 615.5,2039.5 623.1,2038.1C630.6,2036.6 639.1,2035.1 647.0,2033.3C654.8,2031.4 666.2,2028.0 670.1,2026.9" stroke="#4444ff" stroke-width="4.2"/>
<path d="M588.0,2050.5L601.6,2045.2" stroke="#4444ff" stroke-width="4.2"/>
<path d="M601.6,2045.2C605.2,2044.8 615.5,2043.8 623.1,2042.8C630.6,2041.9 639.1,2041.1 647.0,2039.6C654.8,2038.2 666.2,2035.0 670.1,2034.1" stroke="#4444ff" stroke-width="4.2"/>
</g>
<line x1="135.5" y1="1235.3" x2="135.5" y2="2050.7" stroke="#000" stroke-width="3.4" />
<line x1="106.0" y1="1237.0" x2="135.5" y2="1237.0" stroke="#000" stroke-width="3.4" />
<text x="92.4" y="1253.6" text-anchor="end" style='font-family:"Liberation Sans", Arial, sans-serif;font-size:47.5px;' >2</text>
<line x1="106.0" y1="1440.0" x2="135.5" y2="1440.0" stroke="#000" stroke-width="3.4" />
<text x="92.4" y="1456.6" text-anchor="end" style='font-family:"Liberation Sans", Arial, sans-serif;font-size:47.5px;' >1</text>
<line x1="106.0" y1="1643.0" x2="135.5" y2="1643.0" stroke="#000" stroke-width="3.4" />
<text x="92.4" y="1659.6" text-anchor="end" style='font-family:"Liberation Sans", Arial, sans-serif;font-size:47.5px;' >0</text>
<line x1="106.0" y1="1846.0" x2="135.5" y2="1846.0" stroke="#000" stroke-width="3.4" />
<text x="92.4" y="1862.6" text-anchor="end" style='font-family:"Liberation Sans", Arial, sans-serif;font-size:47.5px;' >-1</text>
<line x1="106.0" y1="2049.0" x2="135.5" y2="2049.0" stroke="#000" stroke-width="3.4" />
<text x="92.4" y="2065.6" text-anchor="end" style='font-family:"Liberation Sans", Arial, sans-serif;font-size:47.5px;' >-2</text>
<text x="129.5" y="2108.0" text-anchor="middle" style='font-family:"Liberation Serif", serif;font-size:54px;' >Γ</text>
<text x="309.2" y="2108.0" text-anchor="middle" style='font-family:"Liberation Sans", Arial, sans-serif;font-size:50px;font-style:italic;' >M</text>
<text x="423.6" y="2108.0" text-anchor="middle" style='font-family:"Liberation Sans", Arial, sans-serif;font-size:50px;font-style:italic;' >K</text>
<text x="595.0" y="2108.0" text-anchor="middle" style='font-family:"Liberation Serif", serif;font-size:54px;' >Γ</text>
<text x="667.5" y="2108.0" text-anchor="middle" style='font-family:"Liberation Sans", Arial, sans-serif;font-size:50px;font-style:italic;' >A</text>
<g transform="translate(40.5,1645.0) rotate(-90)">
<text x="0" y="0" text-anchor="middle" style='font-family:"Liberation Sans", Arial, sans-serif;font-size:55px;'><tspan font-style="italic">E-E</tspan><tspan font-size="35" dy="12.5">F</tspan><tspan dy="-12.5"> (eV)</tspan></text>
</g>
<text x="18.5" y="1185.5" text-anchor="start" style='font-family:"Liberation Sans", Arial, sans-serif;font-size:58px;font-weight:bold;' >b</text>
<text x="262.5" y="1191" style='font-family:"Liberation Sans", Arial, sans-serif;font-size:58px;'>Mn<tspan dy="12.8">1/3</tspan><tspan dy="-12.8">NbS</tspan><tspan dy="12.8">2</tspan></text>
<clipPath id="clipc1"><rect x="955.8000000000001" y="38" width="1027.4" height="426.3"/></clipPath>
<rect x="958.6" y="38" width="1021.8000000000001" height="426.3" fill="none" stroke="#000" stroke-width="3.2"/>
<line x1="958.6" y1="251.2" x2="1980.4" y2="251.2" stroke="#000" stroke-width="2.8" />
<path d="M1571.4,45.7V492.0" stroke="#000" stroke-width="3" stroke-dasharray="18 18.4" fill="none"/>
<path d="M958.6,234.3L970.0,227.7L976.3,234.3L980.9,232.3L985.7,235.1L991.4,225.7L995.7,227.1L1000.6,224.3L1007.1,232.9L1016.3,237.1L1024.9,231.4L1030.0,220.9L1035.7,231.4L1041.4,231.4L1047.1,228.6L1058.6,229.4L1070.0,233.4L1081.4,232.3L1092.9,231.4L1098.6,222.9L1106.6,218.0L1111.4,230.0L1121.4,240.9L1130.0,242.9L1138.6,240.0L1144.3,218.6L1148.6,184.3L1152.9,151.4L1158.0,188.6L1162.9,207.1L1168.6,214.3L1175.7,211.4L1181.4,201.4L1187.1,178.6L1191.4,161.4L1195.1,101.4L1197.1,47.1L1202.0,87.1L1203.1,38.0L1205.7,-55.7L1212.3,12.9L1214.3,40.0L1218.6,40.0L1220.3,12.9L1227.1,-55.7L1237.1,-27.1L1238.6,38.0L1240.9,115.7L1242.9,201.4L1245.7,241.4L1248.6,201.4L1252.3,130.0L1255.7,75.7L1261.4,87.1L1265.7,97.1L1270.0,144.3L1275.7,145.7L1280.0,190.0L1284.3,157.1L1288.6,164.3L1297.1,184.3L1307.1,175.7L1315.7,175.7L1324.3,191.4L1330.0,188.6L1338.6,210.0L1345.7,208.6L1352.9,212.9L1361.4,220.0L1372.9,224.3L1390.0,227.1L1410.0,230.0L1418.6,227.1L1430.0,233.4L1432.9,233.4L1439.1,220.9L1447.1,240.0L1457.1,237.1L1465.0,230.0L1470.7,224.3L1476.4,204.3L1480.7,182.9L1490.7,178.0L1500.7,179.1L1503.6,172.9L1507.3,172.9L1512.1,190.0L1517.9,215.7L1526.4,224.3L1535.0,230.0L1543.6,212.9L1549.3,171.4L1553.6,178.6L1559.3,230.0L1565.0,242.9L1571.3,230.0L1575.0,215.7L1579.3,212.9L1584.4,164.3L1590.7,190.0L1595.0,187.1L1599.3,194.3L1605.0,167.1L1609.3,147.7L1615.0,170.0L1622.1,164.3L1628.4,125.7L1633.6,138.6L1639.3,201.4L1645.0,227.1L1649.3,230.0L1652.1,201.4L1657.9,155.7L1663.6,132.9L1668.4,118.6L1673.0,124.3L1677.9,144.3L1683.6,143.7L1689.3,187.1L1696.4,185.7L1707.9,191.4L1716.4,215.7L1727.9,227.1L1736.4,234.3L1747.9,248.6L1753.6,251.4L1849.3,251.4L1865.0,248.6L1870.7,242.9L1882.1,242.0L1889.3,236.3L1899.3,240.0L1910.7,242.0L1925.0,242.0L1932.1,240.9L1937.9,233.4L1942.1,232.9L1950.7,240.0L1957.9,243.7L1965.0,240.9L1970.7,241.4L1982.1,248.6" fill="none" stroke="#ff00ff" stroke-width="5.5" stroke-linejoin="round" stroke-linecap="round" clip-path="url(#clipc1)"/>
<path d="M958.6,257.9L966.6,255.0L971.4,260.7L984.3,257.9L1001.4,256.4L1018.6,258.7L1035.7,255.9L1055.7,257.0L1070.0,255.0L1084.3,253.6L1088.6,257.9L1095.7,255.0L1121.4,253.6L1150.0,253.0L1178.6,251.3L1224.3,250.1L1238.6,255.9L1252.9,260.7L1265.7,269.3L1278.6,262.7L1287.1,266.4L1295.7,269.3L1310.0,269.3L1324.3,265.6L1350.0,261.6L1378.6,258.7L1421.4,255.9L1464.3,253.9L1465.0,253.6L1571.3,252.1L1625.0,251.3L1636.4,256.4L1647.9,266.4L1652.1,276.4L1656.4,305.0L1663.6,343.6L1668.4,380.7L1673.0,377.9L1677.9,355.0L1683.6,407.9L1688.4,395.0L1692.1,464.4L1693.6,530.7L1697.0,530.7L1698.7,464.4L1703.6,337.9L1707.9,410.7L1712.1,464.4L1713.6,530.7L1716.4,530.7L1717.9,464.4L1722.7,405.0L1726.4,464.4L1727.9,530.7L1730.7,530.7L1732.1,464.4L1737.9,387.9L1743.6,357.9L1747.9,342.1L1752.1,367.9L1756.4,435.0L1762.1,359.3L1766.4,325.0L1770.7,353.6L1779.3,399.3L1782.1,427.9L1785.0,464.4L1785.9,530.7L1787.6,530.7L1788.4,464.4L1792.1,359.3L1796.4,358.7L1801.6,446.4L1810.7,363.6L1819.3,430.7L1825.6,353.6L1830.7,355.0L1836.4,322.1L1842.1,287.9L1847.9,287.9L1852.1,283.6L1855.0,285.0L1860.7,308.4L1866.4,327.9L1870.7,352.1L1874.1,387.9L1877.9,322.1L1885.0,310.1L1893.6,330.7L1896.4,290.7L1899.3,289.3L1910.7,279.3L1922.1,270.7L1933.6,262.1L1937.9,257.9L1941.6,265.0L1946.4,302.1L1952.1,326.4L1957.9,305.0L1962.1,306.4L1967.9,303.6L1975.0,322.1L1980.7,329.3" fill="none" stroke="#ff00ff" stroke-width="5.5" stroke-linejoin="round" stroke-linecap="round" clip-path="url(#clipc1)"/>
<path d="M958.6,195.7L964.3,194.3L971.4,191.4L976.3,212.9L980.9,202.9L985.7,208.6L991.4,197.1L995.7,197.1L1000.6,185.7L1007.1,210.0L1012.9,215.7L1024.9,208.6L1030.0,195.1L1035.7,215.7L1044.3,218.6L1058.6,220.0L1070.0,225.7L1081.4,227.1L1094.3,234.3L1101.4,230.0L1106.6,229.4L1111.4,242.9L1121.4,248.6L1132.9,249.4L1141.4,241.4L1147.1,212.9L1152.3,191.4L1157.1,207.1L1162.9,224.3L1170.0,234.3L1178.6,233.4L1187.1,227.1L1195.7,212.9L1201.4,218.6L1207.1,204.3L1211.4,205.7L1217.1,218.6L1222.9,190.0L1226.6,177.1L1231.4,195.7L1235.7,190.0L1240.0,212.9L1244.3,227.1L1248.6,207.1L1252.9,184.3L1258.6,164.3L1265.7,144.3L1271.4,181.4L1275.7,170.0L1280.0,204.3L1284.3,178.6L1290.0,158.6L1297.1,190.0L1301.4,190.0L1305.7,175.7L1314.3,170.0L1321.4,174.3L1325.7,178.6L1332.9,171.4L1338.6,165.7L1345.7,147.1L1353.4,147.1L1357.1,158.6L1361.4,170.0L1367.1,180.0L1378.6,192.9L1392.9,202.9L1407.1,210.0L1418.6,211.4L1430.0,218.6L1435.7,220.0L1441.4,200.9L1448.6,234.3L1452.9,227.1L1457.1,212.9L1462.9,214.3L1465.0,234.3L1470.7,227.1L1480.7,204.3L1490.7,198.6L1500.7,194.3L1507.3,186.6L1512.1,195.7L1517.9,218.6L1526.4,225.7L1535.0,231.4L1543.6,215.7L1549.3,175.7L1555.0,190.0L1559.3,235.7L1565.0,242.9L1571.3,227.1L1576.4,217.1L1580.7,215.7L1585.0,175.7L1590.7,201.4L1595.0,200.9L1600.7,207.1L1605.0,198.6L1609.3,172.9L1615.0,190.0L1622.1,185.7L1630.1,162.9L1635.0,178.6L1639.3,215.7L1645.0,231.4L1649.3,235.7L1653.6,207.1L1659.3,188.6L1667.9,177.1L1673.0,180.0L1677.9,187.1L1683.6,170.0L1689.3,211.4L1699.3,218.6L1707.9,228.6L1719.3,240.0L1733.6,247.1L1746.4,251.4L1849.3,251.4L1855.0,241.4L1860.7,227.1L1867.9,207.1L1873.6,200.9L1879.3,200.0L1885.0,184.3L1889.3,161.4L1893.6,152.9L1899.3,152.3L1905.0,144.3L1909.3,147.1L1916.4,115.7L1922.1,114.3L1927.9,104.3L1932.1,72.9L1935.0,38.0L1939.3,-55.7L1943.6,-27.1L1946.4,38.0L1952.1,64.3L1957.0,117.1L1960.7,38.0L1963.6,-55.7L1969.3,-27.1L1972.1,38.0L1977.9,112.9L1982.1,100.0" fill="none" stroke="#00ff80" stroke-width="5.5" stroke-linejoin="round" stroke-linecap="round" clip-path="url(#clipc1)"/>
<path d="M958.6,320.7L962.9,293.6L966.6,280.7L970.6,319.9L975.7,309.3L982.9,303.6L991.4,305.0L995.7,290.7L1000.9,288.4L1005.7,293.6L1011.4,303.6L1017.1,307.3L1020.9,311.3L1025.7,299.3L1031.4,290.7L1040.9,286.4L1048.6,289.3L1055.1,293.6L1060.0,290.7L1067.1,280.7L1072.9,275.9L1079.1,277.0L1083.7,273.6L1088.6,287.3L1094.3,275.0L1100.0,267.3L1105.7,264.4L1114.3,262.7L1121.4,259.3L1132.9,257.9L1150.0,257.0L1161.4,253.6L1178.6,251.3L1201.4,250.7L1225.7,250.1L1232.9,262.1L1238.6,270.1L1245.7,272.1L1251.4,285.0L1255.7,293.6L1260.0,297.9L1265.7,327.9L1271.4,315.0L1275.7,306.4L1280.9,302.1L1285.7,316.4L1290.0,332.1L1294.3,359.3L1299.1,383.6L1307.1,396.4L1315.1,405.6L1320.0,401.6L1324.9,387.9L1329.4,390.7L1334.3,400.7L1339.1,399.9L1344.9,401.6L1350.0,396.4L1353.4,373.6L1357.1,359.3L1362.9,347.9L1372.9,335.0L1384.3,323.6L1395.7,315.0L1407.1,307.9L1421.4,300.7L1435.7,295.0L1450.0,288.4L1458.6,287.9L1464.3,284.4L1465.0,287.9L1479.3,272.1L1496.4,266.4L1516.4,258.7L1536.4,255.0L1571.3,252.1L1625.0,251.3L1636.4,255.0L1647.9,260.7L1654.1,267.9L1659.3,282.1L1663.6,292.1L1668.4,309.3L1673.6,305.0L1677.9,293.6L1683.6,310.7L1688.4,306.4L1693.6,339.3L1697.9,379.3L1702.7,286.4L1707.9,322.1L1716.4,355.0L1722.7,316.4L1729.3,345.0L1732.1,353.6L1737.9,306.4L1743.6,290.7L1747.9,285.0L1752.1,297.9L1756.4,332.1L1766.4,295.0L1770.7,306.4L1775.0,313.6L1780.7,339.3L1786.4,382.1L1790.7,310.7L1795.0,313.6L1801.6,349.3L1806.4,323.6L1810.7,319.9L1819.3,359.3L1825.6,320.7L1830.7,327.9L1836.4,302.1L1840.7,282.1L1845.0,287.9L1850.7,280.7L1855.0,283.6L1860.7,309.3L1866.4,329.3L1870.7,353.6L1874.1,395.0L1878.7,322.1L1885.0,309.3L1893.6,333.6L1899.3,296.4L1916.4,289.3L1927.9,285.0L1937.9,279.3L1942.1,302.1L1946.4,399.3L1952.1,434.1L1957.9,377.9L1962.1,387.9L1967.9,422.1L1975.0,442.1L1982.1,446.4" fill="none" stroke="#00ff80" stroke-width="5.5" stroke-linejoin="round" stroke-linecap="round" clip-path="url(#clipc1)"/>
<path d="M958.6,124.3L965.7,112.9L971.4,94.3L976.3,153.4L980.9,131.4L985.7,144.3L991.4,101.4L995.7,102.9L1000.6,71.4L1005.7,140.0L1011.4,157.1L1015.7,158.6L1024.9,134.3L1030.0,74.3L1034.9,135.7L1040.0,146.6L1044.9,137.1L1049.4,147.1L1058.6,150.0L1070.0,174.3L1080.0,177.1L1094.3,200.0L1098.6,185.7L1104.3,178.6L1108.6,178.6L1112.3,231.4L1118.6,240.0L1127.1,245.7L1135.7,244.9L1141.4,240.0L1147.1,224.3L1152.3,208.6L1157.1,221.4L1161.4,231.4L1168.6,235.1L1175.7,234.3L1182.9,231.4L1190.0,227.1L1195.7,225.7L1201.4,230.0L1207.1,221.4L1215.7,227.1L1221.4,212.9L1225.7,195.7L1231.4,208.6L1235.7,207.1L1240.0,241.4L1245.7,245.7L1251.4,218.6L1255.7,197.1L1265.7,204.3L1271.4,215.7L1275.7,212.9L1280.0,225.7L1284.3,214.3L1290.0,214.3L1297.1,224.3L1305.7,217.1L1312.9,215.7L1318.6,218.6L1325.7,222.9L1332.9,221.4L1340.0,225.7L1345.7,222.0L1352.9,222.9L1361.4,230.0L1372.9,235.1L1384.3,238.0L1401.4,240.0L1418.6,240.9L1432.9,242.0L1441.4,237.1L1448.6,244.3L1457.1,240.0L1465.0,242.9L1473.6,235.7L1482.1,221.4L1493.6,219.1L1502.1,220.0L1507.3,217.1L1513.6,230.0L1519.3,238.0L1527.9,242.0L1536.4,242.9L1543.6,234.3L1549.3,222.0L1553.6,225.7L1559.3,248.6L1565.0,249.4L1571.3,243.7L1576.4,235.7L1580.7,234.3L1585.0,222.0L1590.7,231.4L1596.4,231.4L1602.1,234.3L1609.3,221.4L1615.0,227.1L1622.1,225.7L1629.3,217.1L1633.6,224.3L1637.9,238.6L1643.6,244.9L1649.3,245.7L1653.6,230.0L1659.3,218.6L1667.9,210.0L1673.0,212.9L1677.9,218.6L1683.6,215.7L1689.3,230.0L1699.3,231.4L1707.9,234.3L1719.3,241.4L1733.6,245.7L1746.4,250.6L1753.6,251.4L1849.3,251.4L1857.9,248.6L1867.9,240.0L1872.1,237.1L1879.3,236.3L1887.9,230.0L1892.1,227.7L1899.3,227.1L1907.9,231.4L1913.6,230.0L1919.3,225.7L1927.9,225.7L1933.6,212.9L1937.9,195.7L1942.1,195.1L1947.9,207.1L1956.4,224.3L1962.1,192.9L1966.4,197.1L1972.1,207.1L1977.9,218.6L1982.1,218.6" fill="none" stroke="#606060" stroke-width="5.5" stroke-linejoin="round" stroke-linecap="round" clip-path="url(#clipc1)"/>
<path d="M958.6,419.3L962.9,373.6L966.6,330.7L970.6,427.9L974.3,425.0L980.0,407.9L984.9,390.7L991.4,389.3L995.7,357.9L1000.9,355.9L1005.7,370.7L1010.0,399.3L1014.3,409.3L1020.0,430.1L1025.7,393.6L1030.6,370.7L1035.7,363.6L1040.9,358.7L1045.7,362.1L1050.6,376.4L1055.7,397.9L1060.9,396.4L1064.9,370.7L1068.6,342.1L1072.9,343.6L1078.6,350.1L1082.9,345.0L1084.9,343.6L1088.6,381.6L1092.9,340.7L1098.6,327.9L1105.7,319.9L1113.4,319.9L1118.6,313.6L1122.9,301.6L1127.7,303.6L1135.7,301.6L1144.3,297.9L1152.9,295.9L1158.6,289.3L1162.9,272.1L1170.0,265.0L1181.4,260.7L1195.7,257.0L1212.9,254.1L1225.7,252.1L1238.6,255.0L1250.0,256.4L1260.0,259.9L1265.7,266.4L1271.4,264.4L1278.6,262.7L1287.1,269.3L1295.7,277.9L1304.3,280.7L1315.7,282.7L1324.3,280.7L1335.7,282.1L1348.6,281.6L1355.7,276.4L1364.3,273.6L1378.6,270.1L1395.7,266.4L1412.9,263.6L1435.7,259.9L1464.3,257.3L1465.0,257.0L1493.6,255.0L1536.4,253.0L1571.3,251.3L1625.0,250.7L1642.1,253.6L1653.6,256.4L1662.1,262.1L1668.4,265.0L1676.4,260.7L1681.6,262.7L1685.6,261.6L1690.7,265.6L1697.0,273.6L1702.1,259.3L1706.4,265.6L1713.6,267.3L1720.7,265.6L1726.4,269.3L1732.1,275.0L1738.7,263.6L1746.4,259.3L1750.7,264.4L1756.4,274.1L1765.6,265.0L1770.7,270.7L1779.3,282.1L1785.6,296.4L1790.7,272.1L1795.0,271.3L1801.6,286.4L1809.3,275.0L1813.0,277.9L1819.3,292.1L1825.6,273.0L1830.7,271.3L1836.4,265.0L1840.7,259.3L1845.6,262.7L1853.6,262.1L1862.1,269.3L1868.4,273.6L1874.1,285.0L1877.9,272.1L1883.6,266.4L1892.1,273.0L1899.3,262.1L1910.7,259.9L1925.0,258.7L1937.9,257.0L1941.6,262.7L1946.4,287.9L1952.1,297.9L1957.9,281.6L1962.1,283.6L1967.9,295.0L1975.0,300.7L1982.1,302.1" fill="none" stroke="#606060" stroke-width="5.5" stroke-linejoin="round" stroke-linecap="round" clip-path="url(#clipc1)"/>
<line x1="930.0" y1="38.0" x2="958.6" y2="38.0" stroke="#000" stroke-width="3.2" />
<text x="916.5" y="54.6" text-anchor="end" style='font-family:"Liberation Sans", Arial, sans-serif;font-size:47.5px;' >6</text>
<line x1="930.0" y1="144.6" x2="958.6" y2="144.6" stroke="#000" stroke-width="3.2" />
<text x="916.5" y="161.2" text-anchor="end" style='font-family:"Liberation Sans", Arial, sans-serif;font-size:47.5px;' >3</text>
<line x1="930.0" y1="251.2" x2="958.6" y2="251.2" stroke="#000" stroke-width="3.2" />
<text x="916.5" y="267.8" text-anchor="end" style='font-family:"Liberation Sans", Arial, sans-serif;font-size:47.5px;' >0</text>
<line x1="930.0" y1="357.7" x2="958.6" y2="357.7" stroke="#000" stroke-width="3.2" />
<text x="916.5" y="374.3" text-anchor="end" style='font-family:"Liberation Sans", Arial, sans-serif;font-size:47.5px;' >-3</text>
<line x1="930.0" y1="464.3" x2="958.6" y2="464.3" stroke="#000" stroke-width="3.2" />
<text x="916.5" y="480.9" text-anchor="end" style='font-family:"Liberation Sans", Arial, sans-serif;font-size:47.5px;' >-6</text>
<line x1="958.3" y1="464.3" x2="958.3" y2="492.0" stroke="#000" stroke-width="3.2" />
<line x1="1162.7" y1="464.3" x2="1162.7" y2="492.0" stroke="#000" stroke-width="3.2" />
<line x1="1367.0" y1="464.3" x2="1367.0" y2="492.0" stroke="#000" stroke-width="3.2" />
<line x1="1571.4" y1="464.3" x2="1571.4" y2="492.0" stroke="#000" stroke-width="3.2" />
<line x1="1775.8" y1="464.3" x2="1775.8" y2="492.0" stroke="#000" stroke-width="3.2" />
<line x1="1980.1" y1="464.3" x2="1980.1" y2="492.0" stroke="#000" stroke-width="3.2" />
<clipPath id="clipc2"><rect x="951.6" y="511.6" width="1030.1999999999998" height="435.0"/></clipPath>
<rect x="954.4" y="511.6" width="1024.6" height="435.0" fill="none" stroke="#000" stroke-width="3.2"/>
<line x1="954.4" y1="729.1" x2="1979.0" y2="729.1" stroke="#000" stroke-width="2.8" />
<path d="M1569.2,528.1V975.0" stroke="#000" stroke-width="3" stroke-dasharray="18 18.4" fill="none"/>
<path d="M954.4,685.9L965.0,680.1L970.7,661.6L975.9,688.7L980.7,654.4L985.0,643.0L990.7,643.0L995.9,613.0L1000.7,634.4L1005.0,611.6L1010.7,597.3L1015.0,581.6L1019.9,588.7L1025.0,615.9L1030.7,540.1L1034.1,511.6L1035.3,460.1L1037.6,460.1L1038.7,511.6L1041.6,567.3L1045.6,534.4L1049.3,511.6L1050.7,460.1L1056.4,460.1L1057.9,511.6L1059.9,541.6L1062.1,511.6L1063.6,460.1L1069.3,460.1L1070.7,511.6L1074.1,574.4L1077.9,617.3L1081.6,560.1L1083.6,511.6L1085.0,445.9L1099.3,445.9L1101.6,511.6L1105.0,560.1L1109.3,578.7L1113.6,571.6L1117.9,643.0L1122.7,665.9L1127.9,640.1L1132.1,657.3L1137.9,648.7L1142.1,651.6L1147.9,667.3L1153.6,683.0L1159.3,693.0L1166.4,701.6L1173.6,703.0L1179.3,697.3L1185.0,705.9L1192.1,708.1L1197.9,710.1L1203.6,707.3L1207.9,707.3L1212.1,674.4L1216.4,651.6L1221.6,611.6L1226.4,657.3L1232.1,635.9L1237.9,643.0L1242.1,648.7L1246.4,644.4L1250.7,624.4L1256.4,640.1L1262.1,657.3L1267.9,670.1L1272.1,670.1L1277.9,685.9L1285.0,695.9L1292.1,704.4L1299.3,707.3L1305.0,700.1L1310.7,685.9L1315.0,671.6L1320.7,685.9L1326.4,697.3L1330.7,674.4L1335.0,637.3L1339.3,685.9L1345.0,700.1L1350.7,691.6L1356.4,670.1L1359.9,653.0L1365.0,664.4L1369.3,661.6L1373.6,645.9L1378.7,643.0L1383.6,671.6L1389.3,691.6L1396.4,703.0L1405.0,703.0L1413.6,708.7L1422.1,708.1L1427.9,703.0L1436.4,700.1L1443.6,697.3L1450.7,705.9L1459.3,708.7L1460.0,707.3L1471.4,713.0L1481.4,703.0L1486.3,690.1L1490.9,701.6L1502.9,708.7L1507.1,709.3L1511.4,666.4L1512.9,651.6L1517.1,663.0L1521.4,670.1L1525.7,664.4L1530.0,668.7L1535.7,657.3L1541.4,667.3L1547.1,670.1L1551.4,668.1L1557.1,673.0L1561.4,680.1L1566.3,683.0L1571.4,690.1L1577.1,698.7L1585.7,706.4L1597.1,711.0L1608.6,714.4L1620.0,717.3L1631.4,718.7L1648.6,722.4L1665.7,724.4L1688.6,725.9L1717.1,728.7L1731.4,729.3L1882.9,729.3L1902.9,726.4L1922.9,725.3L1945.7,724.4L1968.6,723.6L1980.0,725.3" fill="none" stroke="#ff00cc" stroke-width="5.5" stroke-linejoin="round" stroke-linecap="round" clip-path="url(#clipc2)"/>
<path d="M954.4,732.3L960.7,738.0L967.9,749.4L973.6,758.0L979.9,771.7L985.0,743.7L990.7,731.7L995.9,732.9L1002.1,739.4L1009.3,746.0L1015.0,743.1L1022.1,742.3L1030.7,741.4L1040.7,737.4L1050.7,735.7L1059.3,734.6L1065.0,738.0L1070.7,735.1L1077.9,735.1L1084.4,740.9L1090.7,736.6L1099.3,734.6L1110.7,737.4L1122.1,735.1L1127.9,733.7L1145.0,735.1L1173.6,732.9L1187.9,732.3L1193.6,733.7L1216.4,732.3L1245.0,730.9L1273.6,730.0L1302.1,729.4L1330.7,730.0L1350.7,734.6L1365.0,738.0L1373.6,742.3L1379.3,741.4L1389.3,746.0L1402.1,747.1L1412.1,748.0L1417.9,745.1L1430.7,743.1L1445.0,740.9L1459.3,738.0L1460.0,740.3L1488.6,737.4L1531.4,733.7L1569.4,731.7L1631.4,730.0L1688.6,729.4L1711.4,730.0L1722.9,738.0L1730.0,750.9L1733.7,763.7L1737.1,789.4L1740.0,832.3L1742.9,889.4L1745.7,946.6L1747.1,1032.3L1798.0,1032.3L1799.4,946.6L1802.9,889.4L1807.1,795.1L1812.0,783.7L1815.7,792.3L1819.4,832.3L1822.9,889.4L1825.1,946.6L1826.6,1032.3L1840.9,1032.3L1842.3,946.6L1845.7,860.9L1850.0,763.7L1854.3,860.9L1857.7,946.6L1858.9,1032.3L1861.7,1032.3L1862.9,946.6L1866.3,860.9L1870.0,818.0L1875.7,920.9L1881.4,869.4L1886.3,843.7L1891.4,852.3L1895.7,882.3L1901.4,795.1L1905.7,762.3L1910.9,792.3L1915.7,838.0L1920.6,873.7L1924.3,900.9L1928.0,946.6L1928.9,1032.3L1931.1,1032.3L1932.0,946.6L1935.7,860.9L1940.0,832.3L1945.7,803.7L1950.0,789.4L1954.3,786.6L1959.4,790.9L1964.3,775.1L1970.0,763.7L1975.7,756.6L1980.0,753.7" fill="none" stroke="#ff00cc" stroke-width="5.5" stroke-linejoin="round" stroke-linecap="round" clip-path="url(#clipc2)"/>
<path d="M954.4,693.0L965.0,700.1L970.7,694.4L975.9,711.6L980.7,693.0L986.4,684.4L990.7,681.6L995.9,658.7L1000.7,677.3L1005.0,667.3L1010.7,665.9L1015.0,658.7L1019.9,678.7L1025.0,675.9L1030.7,651.6L1035.9,650.1L1040.7,673.0L1045.0,678.7L1050.7,681.6L1055.0,668.7L1059.3,673.0L1064.4,660.1L1070.7,674.4L1078.7,693.0L1083.6,660.1L1088.4,633.0L1093.6,693.0L1099.3,635.9L1103.6,674.4L1109.3,667.3L1113.6,667.3L1118.7,695.9L1123.6,691.6L1127.9,680.1L1133.6,687.3L1137.9,683.0L1142.7,680.7L1147.9,688.7L1153.6,697.3L1162.1,704.4L1170.7,708.7L1177.9,705.3L1183.6,711.6L1190.7,713.0L1196.4,716.7L1202.1,714.4L1206.4,718.7L1212.1,708.7L1216.4,703.0L1220.7,682.4L1226.4,701.6L1230.7,694.4L1236.4,698.7L1242.1,703.0L1250.7,690.1L1255.0,697.3L1260.7,693.0L1267.9,700.1L1275.0,703.0L1280.7,704.4L1287.9,710.1L1296.4,715.9L1302.1,714.4L1309.3,707.3L1315.0,694.4L1320.7,697.3L1326.4,701.6L1330.7,693.0L1335.0,681.6L1340.7,698.7L1347.9,700.1L1353.6,690.1L1357.9,674.4L1362.1,671.6L1367.9,671.0L1373.6,661.6L1378.7,658.7L1383.6,668.7L1389.3,685.9L1395.0,688.7L1402.1,690.1L1410.7,695.0L1419.3,693.0L1425.0,688.7L1430.7,671.6L1435.0,667.3L1439.3,668.7L1442.7,661.6L1447.9,673.0L1456.4,683.0L1460.0,683.6L1465.7,680.7L1471.4,683.0L1475.7,663.0L1480.0,660.7L1483.4,645.9L1487.1,625.9L1491.4,653.0L1497.1,668.7L1502.9,678.7L1507.1,679.6L1510.0,631.6L1512.0,613.0L1517.1,615.0L1521.4,625.9L1527.1,615.0L1534.3,597.3L1545.7,588.7L1555.7,600.1L1558.6,617.9L1564.3,623.0L1569.1,631.6L1574.3,640.1L1580.0,647.3L1585.7,653.0L1591.4,657.3L1597.1,657.3L1602.9,661.6L1611.4,668.7L1620.0,675.9L1625.7,681.6L1632.9,685.9L1638.6,688.7L1644.3,697.3L1650.0,703.0L1657.1,706.4L1665.7,708.7L1672.0,708.1L1678.6,715.9L1685.7,715.0L1697.1,715.9L1704.3,716.7L1710.0,721.6L1717.1,723.0L1725.7,727.3L1731.4,729.3L1882.9,729.3L1888.6,720.7L1894.3,711.6L1900.0,700.1L1905.7,688.7L1911.4,681.6L1918.6,677.3L1924.3,667.3L1930.0,664.4L1937.1,658.7L1944.3,653.0L1951.4,660.1L1957.1,657.3L1962.9,643.0L1968.6,611.6L1974.3,581.6L1978.6,597.3L1980.0,617.3" fill="none" stroke="#00ff80" stroke-width="5.5" stroke-linejoin="round" stroke-linecap="round" clip-path="url(#clipc2)"/>
<path d="M954.4,748.9L960.7,763.7L966.4,778.0L973.6,798.0L979.9,823.7L985.0,789.4L990.7,743.1L995.0,744.3L1000.7,766.6L1006.4,785.1L1010.7,788.0L1015.0,782.3L1019.9,784.3L1025.0,770.9L1030.1,808.0L1035.9,795.1L1040.7,787.1L1045.6,789.4L1050.7,798.6L1055.0,783.7L1059.9,769.4L1064.4,819.4L1069.3,795.1L1074.1,775.1L1079.3,779.4L1084.4,806.0L1089.3,782.3L1094.1,768.0L1099.3,768.9L1105.0,784.3L1113.6,790.0L1119.3,778.0L1124.4,766.6L1128.4,762.3L1133.0,766.0L1139.3,767.1L1146.4,765.1L1153.6,762.3L1162.7,765.1L1167.9,758.6L1173.6,755.1L1180.7,752.3L1189.3,746.6L1196.4,741.4L1207.9,738.6L1219.3,737.4L1230.7,735.1L1242.1,732.3L1253.6,730.9L1273.6,729.4L1302.1,728.9L1327.9,729.4L1332.1,736.6L1337.9,744.3L1345.0,750.0L1350.7,763.7L1357.9,770.9L1363.6,776.6L1370.1,800.9L1376.4,801.4L1380.7,803.7L1385.0,823.7L1389.3,869.4L1393.6,882.3L1399.3,889.4L1403.6,900.9L1408.4,905.1L1413.0,915.1L1417.9,886.6L1422.7,890.9L1427.9,892.3L1433.0,898.0L1437.9,889.4L1442.1,866.6L1446.4,852.3L1452.1,838.0L1459.3,826.6L1460.0,828.0L1471.4,815.1L1485.7,800.9L1502.9,788.0L1520.0,778.6L1537.1,770.9L1542.9,769.4L1551.4,765.1L1561.4,755.1L1569.4,750.0L1580.0,746.0L1591.4,740.9L1602.9,736.6L1620.0,733.7L1645.7,731.7L1674.3,730.0L1702.9,729.4L1717.1,730.0L1728.6,735.1L1735.7,743.7L1741.4,760.9L1745.7,785.1L1748.6,799.4L1752.9,785.1L1757.1,780.3L1762.3,826.6L1767.1,802.3L1772.0,823.1L1777.1,792.9L1781.4,803.7L1787.1,788.0L1791.4,796.6L1797.1,782.3L1802.9,758.0L1808.6,747.1L1814.3,752.3L1819.4,768.0L1822.9,800.9L1827.1,836.6L1831.4,810.9L1836.6,859.4L1841.4,826.6L1845.7,783.7L1850.0,758.0L1855.7,812.3L1860.6,852.3L1865.7,800.9L1870.9,773.7L1875.7,825.1L1881.4,803.7L1887.1,792.3L1891.4,800.9L1895.7,816.6L1901.4,760.9L1905.7,748.0L1910.9,753.7L1915.7,783.7L1920.6,809.4L1925.1,822.3L1930.0,879.4L1934.3,798.0L1940.0,782.3L1945.7,772.3L1950.0,766.6L1954.3,769.4L1958.6,782.3L1963.4,765.1L1971.4,760.3L1980.0,758.0" fill="none" stroke="#00ff80" stroke-width="5.5" stroke-linejoin="round" stroke-linecap="round" clip-path="url(#clipc2)"/>
<path d="M954.4,647.3L965.0,655.9L970.7,641.6L975.9,691.6L980.7,630.1L986.4,617.3L992.1,611.6L995.9,561.6L1000.7,610.1L1005.0,588.7L1013.6,591.6L1017.9,600.1L1020.7,618.7L1025.6,618.7L1030.7,560.1L1035.9,555.9L1040.7,611.6L1045.0,623.0L1050.1,643.0L1055.0,605.9L1059.3,614.4L1064.4,594.4L1070.7,620.1L1078.7,651.6L1083.6,560.1L1086.4,511.6L1087.9,474.4L1090.1,474.4L1091.3,511.6L1093.6,653.0L1099.3,537.3L1103.6,607.3L1109.3,583.0L1113.6,578.7L1118.7,640.1L1123.6,625.9L1127.9,607.3L1133.0,618.7L1137.9,617.3L1142.7,613.0L1147.9,623.0L1153.6,640.1L1157.9,643.0L1163.6,660.1L1169.3,664.4L1173.6,660.1L1177.9,640.1L1182.1,643.0L1187.3,663.0L1191.3,664.4L1196.4,675.9L1202.1,677.3L1206.4,690.1L1212.1,640.1L1216.4,620.1L1221.6,544.4L1226.4,637.3L1232.1,625.9L1237.9,631.6L1242.1,643.0L1246.4,640.1L1250.7,624.4L1255.0,643.0L1260.7,674.4L1265.6,683.0L1270.7,681.6L1275.0,707.3L1282.1,713.0L1290.7,718.7L1299.3,720.7L1306.4,715.9L1315.0,704.4L1320.7,707.3L1326.4,711.6L1330.7,707.3L1334.1,680.1L1339.3,707.3L1347.9,707.3L1352.1,698.7L1357.9,678.7L1362.1,677.3L1369.3,683.0L1373.6,673.0L1378.7,667.3L1385.0,685.9L1390.7,698.7L1396.4,705.9L1405.0,707.3L1413.6,709.3L1422.1,708.1L1427.9,703.0L1433.6,698.7L1437.9,697.3L1442.7,690.1L1447.9,698.7L1456.4,704.4L1460.0,705.9L1465.7,707.3L1471.4,712.1L1477.1,703.0L1481.4,701.6L1486.3,688.7L1490.9,700.1L1497.1,703.0L1502.9,707.3L1507.1,708.1L1511.4,666.4L1515.7,674.4L1520.0,678.7L1524.3,675.9L1530.0,678.7L1535.7,672.1L1541.4,677.3L1547.1,677.9L1551.4,675.9L1557.1,681.6L1561.4,687.3L1566.3,688.1L1571.4,694.4L1577.1,700.1L1585.7,705.3L1597.1,708.7L1608.6,712.1L1620.0,715.0L1631.4,716.7L1637.1,715.9L1648.6,720.7L1660.0,723.0L1677.1,724.4L1694.3,724.4L1705.7,726.4L1717.1,728.1L1728.6,729.3L1882.9,729.3L1894.3,725.3L1905.7,720.7L1917.1,718.7L1928.6,716.7L1942.9,715.0L1951.4,716.7L1960.0,715.9L1967.1,711.6L1972.9,709.3L1980.0,711.6" fill="none" stroke="#606060" stroke-width="5.5" stroke-linejoin="round" stroke-linecap="round" clip-path="url(#clipc2)"/>
<path d="M954.4,788.0L960.7,820.9L966.4,860.9L972.1,946.6L973.6,1003.7L982.1,1003.7L983.6,946.6L987.9,832.3L992.1,766.0L995.9,773.7L1000.7,832.3L1005.0,898.0L1010.7,919.4L1015.0,885.1L1020.7,880.9L1025.6,859.4L1030.7,930.9L1036.4,900.9L1042.1,879.4L1045.6,878.0L1050.1,891.7L1055.0,866.6L1059.3,845.1L1064.4,942.3L1069.3,883.7L1073.6,852.3L1079.3,866.6L1084.4,946.6L1084.7,975.1L1085.3,975.1L1085.6,946.6L1089.3,900.9L1095.0,848.9L1099.3,850.0L1103.6,898.0L1113.6,910.9L1119.3,880.9L1124.4,852.3L1128.4,838.0L1133.0,858.0L1139.3,863.7L1145.0,862.3L1153.6,859.4L1162.1,863.7L1167.9,840.9L1173.6,832.3L1179.3,831.7L1187.3,822.3L1192.1,832.3L1197.0,806.6L1202.1,800.9L1207.9,792.3L1212.1,790.9L1217.9,795.1L1223.6,792.3L1230.7,775.1L1235.0,772.3L1242.1,775.1L1247.9,766.6L1252.1,756.6L1259.3,748.0L1270.7,741.4L1285.0,735.1L1296.4,731.7L1302.1,729.4L1330.7,729.4L1342.1,731.7L1353.6,735.1L1365.0,738.6L1370.7,743.7L1379.3,743.7L1385.0,748.9L1389.3,756.6L1395.0,760.9L1405.0,763.1L1413.6,766.0L1417.9,761.4L1425.0,762.3L1433.6,763.1L1439.3,760.9L1445.0,756.6L1453.6,752.9L1460.0,750.0L1477.1,745.1L1502.9,740.9L1531.4,737.4L1569.4,733.7L1602.9,730.9L1645.7,730.0L1688.6,729.4L1717.1,729.4L1734.3,731.7L1741.4,736.6L1747.1,741.4L1752.9,739.4L1757.1,738.0L1762.9,745.1L1768.6,742.3L1775.7,740.3L1781.4,745.1L1787.1,743.1L1792.9,747.1L1797.1,746.0L1802.9,740.3L1807.1,736.6L1814.3,736.6L1819.4,743.1L1822.9,752.3L1826.3,770.9L1830.9,766.6L1835.7,788.0L1840.0,772.3L1844.3,752.3L1850.0,735.7L1854.3,749.4L1860.0,773.7L1864.3,755.1L1870.0,745.1L1875.7,756.6L1881.4,748.9L1887.1,744.3L1894.3,748.0L1900.0,738.0L1905.7,735.1L1910.0,737.4L1915.7,744.3L1922.9,751.7L1928.6,764.3L1934.3,748.0L1941.4,743.1L1948.6,738.6L1952.9,738.0L1958.6,742.3L1964.3,738.0L1971.4,736.6L1980.0,735.7" fill="none" stroke="#606060" stroke-width="5.5" stroke-linejoin="round" stroke-linecap="round" clip-path="url(#clipc2)"/>
<line x1="925.4" y1="511.6" x2="954.4" y2="511.6" stroke="#000" stroke-width="3.2" />
<text x="911.5" y="528.2" text-anchor="end" style='font-family:"Liberation Sans", Arial, sans-serif;font-size:47.5px;' >6</text>
<line x1="925.4" y1="620.4" x2="954.4" y2="620.4" stroke="#000" stroke-width="3.2" />
<text x="911.5" y="637.0" text-anchor="end" style='font-family:"Liberation Sans", Arial, sans-serif;font-size:47.5px;' >3</text>
<line x1="925.4" y1="729.1" x2="954.4" y2="729.1" stroke="#000" stroke-width="3.2" />
<text x="911.5" y="745.7" text-anchor="end" style='font-family:"Liberation Sans", Arial, sans-serif;font-size:47.5px;' >0</text>
<line x1="925.4" y1="837.9" x2="954.4" y2="837.9" stroke="#000" stroke-width="3.2" />
<text x="911.5" y="854.5" text-anchor="end" style='font-family:"Liberation Sans", Arial, sans-serif;font-size:47.5px;' >-3</text>
<line x1="925.4" y1="946.6" x2="954.4" y2="946.6" stroke="#000" stroke-width="3.2" />
<text x="911.5" y="963.2" text-anchor="end" style='font-family:"Liberation Sans", Arial, sans-serif;font-size:47.5px;' >-6</text>
<line x1="954.5" y1="946.6" x2="954.5" y2="975.0" stroke="#000" stroke-width="3.2" />
<text x="954.5" y="1030.5" text-anchor="middle" style='font-family:"Liberation Sans", Arial, sans-serif;font-size:47.5px;' >-3</text>
<line x1="1159.4" y1="946.6" x2="1159.4" y2="975.0" stroke="#000" stroke-width="3.2" />
<text x="1159.4" y="1030.5" text-anchor="middle" style='font-family:"Liberation Sans", Arial, sans-serif;font-size:47.5px;' >-2</text>
<line x1="1364.3" y1="946.6" x2="1364.3" y2="975.0" stroke="#000" stroke-width="3.2" />
<text x="1364.3" y="1030.5" text-anchor="middle" style='font-family:"Liberation Sans", Arial, sans-serif;font-size:47.5px;' >-1</text>
<line x1="1569.2" y1="946.6" x2="1569.2" y2="975.0" stroke="#000" stroke-width="3.2" />
<text x="1569.2" y="1030.5" text-anchor="middle" style='font-family:"Liberation Sans", Arial, sans-serif;font-size:47.5px;' >0</text>
<line x1="1774.1" y1="946.6" x2="1774.1" y2="975.0" stroke="#000" stroke-width="3.2" />
<text x="1774.1" y="1030.5" text-anchor="middle" style='font-family:"Liberation Sans", Arial, sans-serif;font-size:47.5px;' >1</text>
<line x1="1979.0" y1="946.6" x2="1979.0" y2="975.0" stroke="#000" stroke-width="3.2" />
<text x="1979.0" y="1030.5" text-anchor="middle" style='font-family:"Liberation Sans", Arial, sans-serif;font-size:47.5px;' >2</text>
<text x="1277.5" y="94.3" style='font-family:"Liberation Sans", Arial, sans-serif;font-size:58px;'>Cr<tspan dy="12.8">1/3</tspan><tspan dy="-12.8">NbS</tspan><tspan dy="12.8">2</tspan></text>
<rect x="1268" y="540" width="289" height="77.3" fill="#fff"/>
<text x="1272.5" y="591" style='font-family:"Liberation Sans", Arial, sans-serif;font-size:58px;'>Mn<tspan dy="12.8">1/3</tspan><tspan dy="-12.8">NbS</tspan><tspan dy="12.8">2</tspan></text>
<line x1="1682.7" y1="72.9" x2="1766.4" y2="72.9" stroke="#ff00ff" stroke-width="5.6" />
<text x="1786.5" y="87" style='font-family:"Liberation Sans", Arial, sans-serif;font-size:45.4px;'>Cr_<tspan font-style="italic">d</tspan></text>
<line x1="1682.7" y1="122.9" x2="1766.4" y2="122.9" stroke="#00ff80" stroke-width="5.6" />
<text x="1786.5" y="136.8" style='font-family:"Liberation Sans", Arial, sans-serif;font-size:45.4px;'><tspan font-style="italic">Nb</tspan>_<tspan font-style="italic">d</tspan></text>
<line x1="1682.7" y1="173.7" x2="1766.4" y2="173.7" stroke="#606060" stroke-width="5.6" />
<text x="1786.5" y="186.2" style='font-family:"Liberation Sans", Arial, sans-serif;font-size:45.4px;'><tspan font-style="italic">S</tspan>_<tspan font-style="italic">p</tspan></text>
<line x1="1679.7" y1="548.7" x2="1763.8" y2="548.7" stroke="#ff00cc" stroke-width="5.6" />
<text x="1784" y="563" style='font-family:"Liberation Sans", Arial, sans-serif;font-size:45.4px;'>Mn_<tspan font-style="italic">d</tspan></text>
<line x1="1679.7" y1="599.5" x2="1763.8" y2="599.5" stroke="#00ff80" stroke-width="5.6" />
<text x="1784" y="613.5" style='font-family:"Liberation Sans", Arial, sans-serif;font-size:45.4px;'><tspan font-style="italic">Nb</tspan>_<tspan font-style="italic">d</tspan></text>
<line x1="1679.7" y1="650.1" x2="1763.8" y2="650.1" stroke="#606060" stroke-width="5.6" />
<text x="1784" y="662.3" style='font-family:"Liberation Sans", Arial, sans-serif;font-size:45.4px;'><tspan font-style="italic">S</tspan>_<tspan font-style="italic">p</tspan></text>
<text x="766.5" y="53.5" text-anchor="start" style='font-family:"Liberation Sans", Arial, sans-serif;font-size:58px;font-weight:bold;' >c</text>
<g transform="translate(801,524.6) rotate(-90)">
<text x="0" y="0" text-anchor="middle" style='font-family:"Liberation Sans", Arial, sans-serif;font-size:54.5px;'>Intensity (a. u.)</text>
</g>
<text x="1358" y="1094.7" style='font-family:"Liberation Sans", Arial, sans-serif;font-size:55px;'><tspan font-style="italic">E-E</tspan><tspan font-size="35" dy="13.5">F</tspan><tspan dy="-13.5"> (eV)</tspan></text>
<clipPath id="clipd1"><rect x="965" y="1146.6" width="1016.4000000000001" height="257.8000000000002"/></clipPath>
<path d="M968.0,1367.7L974.3,1362.9L978.6,1357.1L983.7,1340.0L989.4,1364.3L994.3,1318.0L998.6,1330.0L1003.7,1338.6L1008.6,1317.1L1013.4,1328.6L1018.6,1300.9L1023.7,1305.7L1028.6,1287.7L1032.9,1294.3L1038.0,1308.6L1042.9,1255.7L1047.1,1234.3L1052.3,1281.4L1057.1,1261.4L1062.0,1240.0L1066.6,1171.4L1071.4,1264.9L1076.3,1217.1L1081.4,1234.3L1086.6,1310.0L1090.6,1322.0L1095.1,1238.6L1100.0,1174.3L1105.1,1312.9L1110.0,1189.4L1115.1,1294.3L1120.0,1288.6L1124.3,1285.7L1129.4,1348.6L1134.3,1353.4L1139.1,1335.7L1143.7,1346.6L1150.0,1340.9L1154.3,1343.7L1160.0,1358.6L1165.7,1370.0L1171.4,1376.3L1178.6,1380.9L1184.3,1382.0L1190.0,1377.1L1197.1,1382.9L1202.9,1382.9L1208.6,1386.6L1215.7,1384.9L1220.9,1355.7L1225.7,1344.3L1231.4,1274.3L1236.6,1348.6L1241.4,1334.3L1247.1,1340.0L1254.3,1342.0L1261.4,1327.1L1265.7,1341.4L1270.0,1347.1L1275.7,1358.6L1280.9,1360.0L1285.7,1368.6L1291.4,1371.4L1297.1,1378.6L1302.9,1383.7L1308.6,1385.7L1312.9,1381.4L1318.6,1371.4L1323.7,1360.0L1328.6,1367.1L1333.4,1378.0L1338.6,1372.9L1342.9,1335.7L1347.1,1373.4L1352.9,1376.3L1358.0,1374.3L1362.9,1355.7L1367.1,1341.4L1372.3,1347.1L1376.3,1346.6L1381.4,1332.9L1385.7,1331.4L1391.4,1351.4L1398.6,1362.9L1405.7,1371.4L1412.9,1371.4L1420.0,1372.9L1427.1,1374.3L1435.7,1370.0L1442.9,1367.7L1448.6,1364.9L1455.7,1372.9L1462.9,1376.3L1465.0,1377.1L1470.7,1381.4L1477.9,1382.9L1485.0,1375.7L1488.4,1375.7L1492.1,1367.1L1497.0,1375.7L1502.1,1377.1L1507.9,1381.4L1512.1,1382.0L1516.4,1342.9L1520.7,1350.0L1525.0,1355.7L1530.1,1351.4L1535.0,1355.7L1540.7,1347.7L1546.4,1355.7L1552.1,1357.1L1557.9,1355.7L1563.6,1364.3L1569.3,1366.6L1575.0,1372.9L1582.1,1379.1L1590.7,1383.7L1602.1,1387.1L1616.4,1390.0L1636.4,1394.3L1659.3,1397.1L1682.1,1399.1L1705.0,1400.0L1717.9,1400.0L1723.6,1394.3L1729.3,1387.1L1733.6,1378.6L1736.4,1364.3L1739.3,1330.0L1742.1,1272.9L1745.0,1224.3L1748.4,1184.3L1753.6,1212.9L1757.9,1218.6L1759.3,1146.6L1760.1,1072.9L1775.9,1072.9L1777.0,1146.6L1778.4,1160.9L1780.4,1146.6L1781.0,1101.4L1782.1,1101.4L1782.7,1146.6L1786.4,1178.6L1789.3,1185.7L1792.7,1172.9L1797.9,1198.6L1802.1,1290.0L1806.4,1354.3L1812.1,1362.9L1817.9,1357.1L1822.1,1272.9L1825.0,1146.6L1825.9,1072.9L1828.7,1072.9L1829.3,1146.6L1831.6,1207.1L1833.6,1146.6L1834.1,1072.9L1838.1,1072.9L1838.7,1146.6L1842.1,1232.9L1846.4,1315.7L1850.7,1374.3L1855.0,1301.4L1860.1,1175.7L1865.0,1272.9L1870.1,1338.6L1875.0,1266.6L1879.3,1290.0L1885.0,1318.6L1889.3,1315.7L1893.6,1292.3L1897.9,1347.1L1902.1,1375.7L1906.4,1374.3L1912.1,1341.4L1917.9,1295.7L1923.6,1272.9L1927.9,1214.3L1932.1,1307.1L1936.4,1327.1L1940.7,1341.4L1946.4,1355.7L1952.1,1358.0L1957.9,1357.1L1962.1,1367.1L1966.4,1372.9L1972.1,1378.0L1978.4,1382.9" fill="none" stroke="#ff0000" stroke-width="5.6" stroke-linejoin="round" stroke-linecap="round" clip-path="url(#clipd1)"/>
<path d="M968.0,1383.7L975.1,1383.7L980.0,1377.1L984.9,1382.9L990.0,1382.0L995.1,1384.9L1000.0,1378.6L1004.9,1380.0L1009.4,1378.6L1014.3,1382.9L1024.3,1386.6L1032.9,1382.9L1038.6,1375.1L1043.7,1382.9L1048.6,1384.3L1055.7,1381.4L1067.1,1380.9L1077.1,1385.7L1087.1,1384.3L1091.4,1385.7L1096.3,1382.9L1101.4,1384.9L1106.6,1378.6L1115.1,1374.3L1120.0,1388.6L1128.6,1392.9L1135.7,1395.7L1144.3,1392.3L1150.0,1381.4L1155.7,1355.7L1160.0,1327.1L1164.3,1352.9L1168.6,1367.1L1174.3,1374.3L1181.4,1372.9L1187.1,1367.1L1192.9,1355.7L1198.6,1338.6L1201.4,1290.0L1203.7,1254.3L1208.6,1282.9L1212.9,1157.1L1217.1,1146.6L1218.0,1101.4L1219.4,1101.4L1220.0,1146.6L1222.9,1248.6L1228.6,1158.6L1230.0,1146.6L1231.1,1087.1L1235.1,1115.7L1237.4,1149.4L1239.7,1149.4L1241.4,1115.7L1243.7,1087.1L1244.3,1146.6L1247.1,1364.3L1251.4,1385.7L1257.1,1335.7L1262.0,1269.4L1267.1,1275.7L1271.4,1278.0L1275.7,1320.0L1281.4,1317.1L1286.6,1352.9L1290.6,1324.9L1295.7,1328.6L1301.4,1340.9L1305.7,1341.4L1310.6,1334.3L1315.7,1331.4L1321.4,1335.1L1330.0,1348.6L1334.3,1346.6L1338.6,1351.4L1344.3,1362.9L1348.6,1361.4L1353.4,1364.9L1358.6,1365.7L1367.1,1371.4L1374.3,1374.3L1384.3,1376.3L1395.7,1378.6L1407.1,1380.9L1418.6,1381.4L1424.3,1379.1L1432.9,1382.9L1437.1,1384.3L1442.0,1381.4L1445.7,1364.3L1450.6,1388.6L1455.7,1388.6L1461.4,1374.3L1465.0,1374.3L1470.7,1381.4L1477.9,1375.7L1480.7,1368.6L1484.4,1350.0L1493.6,1347.1L1503.6,1349.4L1508.4,1342.9L1513.6,1355.7L1517.9,1374.3L1522.1,1380.9L1529.3,1384.3L1537.9,1385.7L1543.6,1380.0L1547.9,1372.9L1552.1,1342.9L1556.4,1358.6L1562.1,1396.3L1567.3,1398.6L1572.1,1388.6L1576.4,1374.3L1582.1,1371.4L1587.3,1339.1L1592.1,1357.1L1596.4,1355.1L1601.6,1360.9L1606.4,1348.6L1611.3,1326.6L1616.4,1343.7L1621.6,1340.9L1627.3,1335.7L1630.7,1310.6L1635.9,1318.6L1640.7,1367.1L1645.6,1381.4L1650.1,1380.0L1655.0,1335.7L1660.7,1284.3L1668.4,1212.9L1673.6,1215.7L1678.7,1250.0L1683.6,1211.4L1688.4,1252.9L1695.0,1146.6L1695.9,1087.1L1699.9,1087.1L1700.7,1146.6L1702.7,1294.3L1707.9,1238.6L1713.6,1195.7L1717.9,1175.1L1722.7,1270.0L1727.9,1212.9L1732.1,1210.0L1736.4,1290.0L1740.7,1312.9L1746.4,1333.4L1751.6,1312.9L1756.4,1269.4L1760.7,1312.9L1766.4,1348.6L1772.1,1318.6L1777.0,1301.4L1780.7,1278.6L1785.0,1190.0L1790.7,1318.6L1795.0,1324.3L1799.9,1261.4L1805.0,1290.0L1810.1,1320.0L1815.0,1298.6L1819.9,1272.3L1824.4,1327.1L1829.3,1327.1L1833.6,1341.4L1839.3,1375.7L1843.6,1374.3L1849.3,1378.0L1853.6,1374.3L1859.3,1357.1L1865.0,1340.0L1869.3,1318.6L1873.6,1295.7L1877.9,1348.6L1882.1,1353.4L1887.9,1342.0L1892.1,1341.4L1897.9,1364.9L1905.0,1370.0L1913.6,1375.7L1922.1,1381.4L1931.3,1385.7L1936.4,1381.4L1942.1,1372.9L1946.4,1348.6L1950.7,1341.4L1956.4,1356.3L1960.7,1354.3L1965.0,1355.1L1972.1,1346.6L1978.4,1342.0" fill="none" stroke="#0000ff" stroke-width="5.6" stroke-linejoin="round" stroke-linecap="round" clip-path="url(#clipd1)"/>
<path d="M1574.2,1141.0V1435.4" stroke="#000" stroke-width="3" stroke-dasharray="18 18.5" stroke-dashoffset="7.9" fill="none"/>
<rect x="961.5" y="1141" width="1021.9000000000001" height="266.0999999999999" fill="none" stroke="#000" stroke-width="3.4"/>
<line x1="932.0" y1="1146.6" x2="961.5" y2="1146.6" stroke="#000" stroke-width="3.2" />
<text x="917.8" y="1163.2" text-anchor="end" style='font-family:"Liberation Sans", Arial, sans-serif;font-size:47.5px;' >10</text>
<line x1="932.0" y1="1197.6" x2="961.5" y2="1197.6" stroke="#000" stroke-width="3.2" />
<text x="917.8" y="1214.2" text-anchor="end" style='font-family:"Liberation Sans", Arial, sans-serif;font-size:47.5px;' >8</text>
<line x1="932.0" y1="1248.5" x2="961.5" y2="1248.5" stroke="#000" stroke-width="3.2" />
<text x="917.8" y="1265.1" text-anchor="end" style='font-family:"Liberation Sans", Arial, sans-serif;font-size:47.5px;' >6</text>
<line x1="932.0" y1="1299.5" x2="961.5" y2="1299.5" stroke="#000" stroke-width="3.2" />
<text x="917.8" y="1316.1" text-anchor="end" style='font-family:"Liberation Sans", Arial, sans-serif;font-size:47.5px;' >4</text>
<line x1="932.0" y1="1350.4" x2="961.5" y2="1350.4" stroke="#000" stroke-width="3.2" />
<text x="917.8" y="1367.0" text-anchor="end" style='font-family:"Liberation Sans", Arial, sans-serif;font-size:47.5px;' >2</text>
<line x1="932.0" y1="1401.4" x2="961.5" y2="1401.4" stroke="#000" stroke-width="3.2" />
<text x="917.8" y="1418.0" text-anchor="end" style='font-family:"Liberation Sans", Arial, sans-serif;font-size:47.5px;' >0</text>
<line x1="968.0" y1="1407.1" x2="968.0" y2="1435.4" stroke="#000" stroke-width="3.2" />
<line x1="1170.1" y1="1407.1" x2="1170.1" y2="1435.4" stroke="#000" stroke-width="3.2" />
<line x1="1372.2" y1="1407.1" x2="1372.2" y2="1435.4" stroke="#000" stroke-width="3.2" />
<line x1="1574.2" y1="1407.1" x2="1574.2" y2="1435.4" stroke="#000" stroke-width="3.2" />
<line x1="1776.3" y1="1407.1" x2="1776.3" y2="1435.4" stroke="#000" stroke-width="3.2" />
<line x1="1978.4" y1="1407.1" x2="1978.4" y2="1435.4" stroke="#000" stroke-width="3.2" />
<clipPath id="clipd2"><rect x="960.4" y="1453.6" width="1018.5000000000001" height="273.60000000000014"/></clipPath>
<path d="M963.4,1683.0L970.0,1676.4L975.7,1669.3L980.9,1652.1L984.9,1656.4L989.4,1627.0L994.3,1652.1L999.1,1677.9L1004.3,1660.7L1010.0,1655.0L1014.3,1638.4L1020.0,1632.7L1024.9,1632.1L1030.0,1646.4L1034.3,1647.9L1038.0,1608.7L1042.0,1613.6L1047.1,1641.3L1052.3,1643.0L1058.0,1636.4L1062.9,1639.3L1067.1,1653.6L1072.3,1605.9L1077.1,1632.1L1082.0,1656.4L1086.6,1660.7L1091.4,1612.7L1096.3,1613.6L1100.9,1668.7L1105.7,1625.9L1110.6,1643.0L1115.7,1635.0L1120.9,1632.7L1125.7,1663.6L1130.6,1667.9L1135.1,1663.0L1140.0,1665.0L1144.9,1660.7L1150.0,1660.7L1155.7,1669.9L1161.4,1675.0L1168.6,1678.4L1175.7,1687.9L1180.0,1689.3L1185.7,1689.3L1191.4,1695.0L1196.3,1702.1L1202.9,1705.0L1208.6,1705.0L1212.9,1709.3L1218.6,1700.7L1224.3,1692.1L1228.6,1683.6L1232.3,1697.9L1237.1,1693.6L1242.9,1697.9L1250.0,1697.9L1256.3,1693.6L1260.9,1699.3L1265.7,1696.4L1271.4,1702.1L1277.1,1703.6L1284.3,1705.9L1290.0,1710.7L1297.1,1715.6L1304.3,1716.4L1310.6,1710.7L1315.7,1705.0L1320.0,1699.3L1324.9,1700.7L1330.0,1704.1L1334.3,1702.1L1338.6,1682.1L1343.7,1693.6L1348.6,1690.7L1354.3,1677.9L1359.1,1667.9L1363.7,1647.9L1368.6,1645.9L1372.9,1627.0L1378.6,1617.9L1382.9,1615.0L1387.1,1615.6L1391.4,1590.7L1395.7,1580.7L1400.9,1577.3L1405.7,1567.0L1410.6,1567.9L1416.3,1560.7L1421.4,1580.1L1425.7,1576.4L1431.4,1562.1L1435.7,1550.7L1440.9,1560.7L1445.7,1573.6L1451.4,1595.0L1457.1,1610.7L1464.3,1617.9L1465.0,1615.6L1470.1,1620.7L1474.1,1625.0L1478.7,1615.6L1483.6,1616.4L1488.4,1593.6L1493.6,1619.3L1498.7,1630.7L1503.6,1640.7L1507.9,1644.1L1513.6,1589.3L1517.9,1596.4L1522.1,1607.9L1527.9,1601.3L1532.1,1605.0L1537.9,1589.3L1543.6,1595.6L1553.6,1595.6L1557.9,1603.6L1562.1,1620.7L1567.9,1629.3L1575.0,1640.7L1582.1,1650.7L1590.7,1660.7L1599.3,1667.0L1607.9,1675.0L1616.4,1680.7L1625.0,1686.4L1633.6,1689.9L1642.1,1697.9L1650.7,1702.1L1659.3,1705.0L1667.9,1707.9L1673.6,1708.7L1679.3,1714.4L1693.6,1714.4L1702.1,1715.6L1712.1,1719.3L1722.1,1720.1L1730.7,1716.4L1736.4,1710.7L1740.7,1700.7L1745.0,1673.6L1752.1,1672.1L1755.9,1685.9L1760.7,1650.7L1765.0,1669.3L1769.3,1654.4L1773.6,1663.6L1777.0,1675.6L1781.6,1669.3L1785.6,1680.1L1790.7,1679.3L1795.9,1677.9L1800.7,1697.9L1805.6,1710.7L1810.7,1708.7L1815.9,1703.6L1819.9,1683.6L1823.6,1643.6L1828.4,1663.6L1833.6,1627.0L1837.9,1663.6L1842.7,1692.1L1848.4,1712.7L1853.0,1677.9L1857.9,1632.1L1862.7,1666.4L1867.9,1690.7L1873.6,1653.6L1877.9,1660.7L1882.1,1672.1L1887.3,1660.7L1892.1,1643.6L1897.0,1677.9L1901.6,1680.1L1906.4,1672.1L1912.1,1646.4L1917.9,1620.7L1922.1,1606.4L1925.6,1563.6L1930.7,1622.1L1936.4,1627.9L1940.7,1632.1L1946.4,1644.1L1950.1,1643.6L1955.0,1630.7L1959.3,1630.7L1964.4,1613.6L1969.3,1591.6L1975.9,1619.3" fill="none" stroke="#ff0000" stroke-width="5.6" stroke-linejoin="round" stroke-linecap="round" clip-path="url(#clipd2)"/>
<path d="M963.4,1629.9L970.6,1660.7L976.3,1624.1L980.0,1652.1L984.3,1646.4L989.4,1653.6L994.3,1640.7L1000.0,1654.4L1004.9,1645.0L1010.0,1662.1L1017.1,1657.3L1023.7,1647.9L1028.6,1657.3L1033.4,1649.9L1038.6,1667.9L1044.3,1673.6L1051.4,1672.1L1058.6,1667.0L1063.7,1669.3L1072.9,1685.9L1080.0,1687.0L1087.1,1689.9L1092.3,1683.0L1097.1,1694.4L1104.3,1696.4L1111.4,1697.3L1117.1,1708.7L1124.3,1713.6L1131.4,1716.4L1140.0,1713.6L1145.7,1706.4L1151.4,1692.1L1155.7,1672.1L1161.4,1697.9L1165.7,1707.0L1172.9,1711.6L1180.0,1711.6L1187.1,1707.9L1195.1,1703.6L1199.1,1693.6L1204.3,1700.7L1208.6,1687.9L1214.3,1689.9L1220.0,1702.1L1224.3,1692.1L1228.6,1666.4L1233.4,1676.4L1238.0,1665.9L1242.9,1700.7L1247.1,1705.0L1251.4,1683.6L1258.0,1635.0L1262.9,1622.1L1267.7,1583.0L1272.9,1622.1L1277.1,1623.0L1282.0,1657.9L1287.1,1623.6L1292.3,1590.7L1297.1,1586.4L1301.4,1577.9L1305.7,1557.9L1310.6,1550.7L1316.3,1544.1L1320.9,1549.3L1325.7,1564.1L1330.0,1558.4L1335.1,1549.3L1340.9,1543.0L1345.7,1529.3L1350.0,1533.6L1355.1,1557.9L1360.0,1580.7L1365.7,1596.4L1372.9,1609.9L1381.4,1622.1L1391.4,1633.6L1402.9,1643.6L1412.9,1649.9L1421.4,1654.4L1428.6,1660.7L1435.7,1665.0L1442.0,1652.7L1447.1,1679.3L1451.4,1681.3L1457.1,1665.0L1461.4,1667.9L1465.0,1685.9L1472.1,1687.9L1476.4,1685.0L1482.1,1672.1L1492.1,1669.9L1500.7,1669.9L1506.4,1665.9L1511.3,1672.1L1515.9,1692.1L1522.1,1697.9L1535.0,1706.4L1543.6,1693.6L1549.3,1665.0L1553.6,1672.1L1559.3,1712.7L1563.6,1716.4L1567.9,1710.7L1573.6,1696.4L1579.3,1695.6L1584.4,1665.9L1589.3,1685.0L1595.0,1685.9L1599.3,1690.7L1605.0,1683.6L1609.3,1663.6L1613.6,1677.9L1620.7,1674.4L1627.9,1656.4L1632.1,1662.1L1637.0,1695.0L1642.1,1702.1L1647.3,1705.9L1652.1,1680.7L1657.9,1652.1L1666.4,1623.6L1670.7,1625.0L1676.4,1645.0L1680.7,1618.4L1685.6,1653.6L1690.7,1632.1L1695.9,1600.1L1700.7,1675.6L1706.4,1649.3L1710.7,1640.1L1715.9,1635.0L1720.7,1667.9L1725.6,1646.4L1730.1,1642.1L1735.0,1679.3L1739.9,1690.7L1745.0,1697.9L1749.3,1686.4L1754.1,1662.1L1758.7,1677.9L1763.6,1692.1L1768.4,1683.6L1775.0,1675.0L1779.3,1657.9L1783.6,1625.0L1788.4,1680.1L1793.0,1677.9L1797.9,1649.3L1803.6,1667.9L1807.9,1672.1L1812.1,1655.0L1817.0,1640.7L1822.1,1672.1L1827.3,1670.7L1831.3,1682.1L1836.4,1701.3L1841.6,1697.9L1846.4,1702.1L1850.7,1696.4L1855.0,1677.9L1860.7,1649.3L1865.0,1617.9L1870.7,1575.0L1876.4,1629.3L1880.7,1636.4L1885.6,1603.6L1890.7,1586.4L1895.9,1613.6L1900.7,1609.3L1905.6,1615.0L1910.1,1609.3L1915.0,1592.1L1919.3,1592.1L1924.4,1590.7L1928.4,1569.3L1933.6,1512.1L1939.3,1492.1L1943.6,1455.0L1945.0,1446.4L1948.4,1446.4L1949.6,1453.6L1953.6,1526.4L1956.4,1453.6L1957.0,1406.4L1970.1,1406.4L1971.3,1453.6L1973.6,1467.9L1975.9,1463.6" fill="none" stroke="#0000ff" stroke-width="5.6" stroke-linejoin="round" stroke-linecap="round" clip-path="url(#clipd2)"/>
<path d="M1570.9,1447.0V1758.6" stroke="#000" stroke-width="3" stroke-dasharray="18 18.5" stroke-dashoffset="27.6" fill="none"/>
<rect x="957.8" y="1447" width="1024.3" height="283" fill="none" stroke="#000" stroke-width="3.4"/>
<line x1="928.0" y1="1453.6" x2="957.8" y2="1453.6" stroke="#000" stroke-width="3.2" />
<text x="912.0" y="1470.2" text-anchor="end" style='font-family:"Liberation Sans", Arial, sans-serif;font-size:47.5px;' >10</text>
<line x1="928.0" y1="1507.7" x2="957.8" y2="1507.7" stroke="#000" stroke-width="3.2" />
<text x="912.0" y="1524.3" text-anchor="end" style='font-family:"Liberation Sans", Arial, sans-serif;font-size:47.5px;' >8</text>
<line x1="928.0" y1="1561.8" x2="957.8" y2="1561.8" stroke="#000" stroke-width="3.2" />
<text x="912.0" y="1578.4" text-anchor="end" style='font-family:"Liberation Sans", Arial, sans-serif;font-size:47.5px;' >6</text>
<line x1="928.0" y1="1616.0" x2="957.8" y2="1616.0" stroke="#000" stroke-width="3.2" />
<text x="912.0" y="1632.6" text-anchor="end" style='font-family:"Liberation Sans", Arial, sans-serif;font-size:47.5px;' >4</text>
<line x1="928.0" y1="1670.1" x2="957.8" y2="1670.1" stroke="#000" stroke-width="3.2" />
<text x="912.0" y="1686.7" text-anchor="end" style='font-family:"Liberation Sans", Arial, sans-serif;font-size:47.5px;' >2</text>
<line x1="928.0" y1="1724.2" x2="957.8" y2="1724.2" stroke="#000" stroke-width="3.2" />
<text x="912.0" y="1740.8" text-anchor="end" style='font-family:"Liberation Sans", Arial, sans-serif;font-size:47.5px;' >0</text>
<line x1="963.4" y1="1730.0" x2="963.4" y2="1758.6" stroke="#000" stroke-width="3.2" />
<line x1="1165.9" y1="1730.0" x2="1165.9" y2="1758.6" stroke="#000" stroke-width="3.2" />
<line x1="1368.4" y1="1730.0" x2="1368.4" y2="1758.6" stroke="#000" stroke-width="3.2" />
<line x1="1570.9" y1="1730.0" x2="1570.9" y2="1758.6" stroke="#000" stroke-width="3.2" />
<line x1="1773.4" y1="1730.0" x2="1773.4" y2="1758.6" stroke="#000" stroke-width="3.2" />
<line x1="1975.9" y1="1730.0" x2="1975.9" y2="1758.6" stroke="#000" stroke-width="3.2" />
<clipPath id="clipd3"><rect x="959.9" y="1774.6" width="1019.0000000000001" height="271.5"/></clipPath>
<path d="M962.9,1938.6L966.6,1936.6L971.4,1916.6L976.3,1892.3L980.9,1852.3L985.7,1774.6L986.6,1715.1L991.4,1715.1L992.3,1774.6L994.3,1872.3L999.1,1929.4L1004.3,1885.1L1009.4,1879.4L1013.4,1812.3L1018.6,1800.9L1022.9,1822.3L1027.7,1843.7L1032.9,1865.1L1037.1,1774.6L1037.7,1729.4L1040.9,1729.4L1041.4,1774.6L1044.3,1786.6L1048.6,1849.4L1054.3,1858.6L1060.0,1850.9L1064.9,1851.7L1068.6,1873.7L1072.3,1785.1L1077.1,1842.3L1081.4,1882.3L1086.6,1884.3L1090.0,1774.6L1090.6,1700.9L1096.3,1700.9L1097.1,1774.6L1101.4,1898.0L1105.7,1812.3L1110.6,1829.4L1115.1,1809.4L1120.9,1796.6L1125.7,1860.9L1130.6,1878.0L1135.7,1870.9L1141.4,1863.7L1147.1,1856.6L1150.9,1857.4L1155.7,1870.9L1160.0,1880.3L1164.3,1880.9L1169.4,1892.3L1174.3,1910.9L1178.6,1916.6L1182.9,1900.9L1187.7,1906.6L1192.9,1925.1L1197.1,1918.0L1202.9,1946.6L1208.6,1950.0L1212.9,1966.0L1218.0,1929.4L1222.9,1913.7L1227.1,1858.0L1231.4,1934.6L1237.1,1932.3L1242.0,1936.6L1247.1,1945.1L1251.4,1946.0L1256.3,1943.7L1261.4,1966.6L1266.6,1988.0L1270.0,1997.4L1275.1,1998.0L1280.0,2020.9L1287.1,2026.0L1295.7,2032.9L1304.3,2036.6L1311.4,2032.3L1320.0,2024.3L1324.3,2026.0L1330.0,2029.4L1334.3,2025.1L1338.6,2010.9L1343.7,2025.1L1350.0,2025.1L1355.7,2020.9L1360.9,2012.3L1364.3,1999.4L1371.4,1998.6L1377.1,1989.4L1382.0,1985.1L1387.1,1995.7L1392.9,1997.4L1401.4,2002.3L1408.6,2000.9L1414.3,2000.9L1421.4,2003.7L1427.1,2001.4L1434.3,1995.1L1440.0,1994.6L1445.7,1993.7L1451.4,2000.9L1457.1,2005.1L1461.4,2009.4L1465.0,2008.9L1473.6,2013.7L1477.9,2010.9L1483.6,2009.4L1488.4,2001.4L1493.6,2010.9L1500.7,2013.7L1507.9,2016.6L1513.6,1988.0L1517.9,1992.3L1522.1,1997.4L1527.9,1995.7L1533.0,1998.0L1537.9,1993.7L1543.6,1997.4L1549.3,1998.6L1555.0,1998.6L1559.3,2002.3L1563.6,2007.1L1569.3,2009.4L1575.0,2015.1L1582.1,2020.9L1590.7,2025.1L1602.1,2029.4L1613.6,2032.3L1627.9,2034.6L1642.1,2036.6L1659.3,2038.0L1676.4,2040.3L1693.6,2040.9L1710.7,2041.4L1722.1,2042.3L1733.6,2040.3L1740.7,2036.6L1746.4,2033.7L1753.6,2034.6L1759.3,2030.9L1766.4,2032.9L1773.6,2034.6L1779.3,2030.9L1786.4,2031.7L1792.1,2029.4L1797.9,2034.6L1805.0,2038.6L1812.1,2036.6L1817.9,2030.9L1822.1,2010.9L1827.3,2012.3L1833.6,1999.4L1837.9,2013.7L1842.7,2028.0L1847.9,2037.4L1853.0,2022.3L1857.9,2009.4L1862.7,2023.7L1867.9,2030.9L1873.0,2023.1L1877.9,2026.6L1882.1,2030.9L1887.3,2025.1L1892.1,2028.0L1897.9,2033.7L1903.6,2032.9L1909.3,2029.4L1916.4,2020.9L1922.1,2013.7L1926.4,2009.4L1931.3,2019.4L1936.4,2022.3L1942.1,2025.1L1947.9,2028.0L1953.6,2025.1L1959.3,2027.1L1965.0,2026.0L1970.7,2023.1L1975.9,2025.1" fill="none" stroke="#ff0000" stroke-width="5.6" stroke-linejoin="round" stroke-linecap="round" clip-path="url(#clipd3)"/>
<path d="M962.9,1821.4L970.6,1876.6L975.7,1788.9L980.9,1840.9L984.9,1833.7L990.0,1858.6L995.1,1825.1L1000.9,1850.0L1004.9,1827.1L1010.0,1868.9L1018.6,1852.9L1024.3,1828.0L1029.4,1845.1L1034.3,1816.6L1038.6,1868.0L1043.7,1883.1L1048.6,1872.3L1053.4,1870.9L1058.6,1855.7L1062.9,1855.1L1067.1,1880.9L1072.9,1916.6L1081.4,1911.7L1087.1,1921.4L1092.3,1899.4L1097.1,1935.7L1102.9,1935.7L1111.4,1936.6L1115.7,1976.6L1121.4,1988.0L1127.1,1999.4L1138.6,2000.3L1144.3,1997.4L1151.4,1988.9L1155.7,1977.4L1161.4,1997.4L1165.7,2013.7L1171.4,2019.4L1180.0,2022.3L1190.0,2018.6L1194.3,2019.4L1200.0,2016.6L1204.3,2023.7L1208.6,2017.4L1218.6,2023.1L1223.7,2018.0L1228.6,1999.4L1232.9,2008.9L1238.0,2007.1L1242.9,2032.9L1247.1,2035.7L1252.3,2016.6L1258.0,1994.6L1263.7,1998.0L1267.7,1995.1L1272.3,2006.0L1276.3,2002.3L1282.0,2016.6L1287.1,2003.1L1291.4,2000.9L1297.1,2003.1L1301.4,2000.9L1307.1,1995.1L1315.7,1990.9L1321.4,1994.6L1327.1,1999.4L1334.3,1998.0L1340.9,2000.3L1345.7,1996.6L1352.9,1999.4L1358.6,2004.3L1364.3,2010.0L1372.9,2013.7L1384.3,2017.4L1395.7,2020.9L1407.1,2023.7L1421.4,2025.1L1431.4,2028.0L1437.1,2028.0L1442.0,2024.3L1448.6,2033.7L1452.9,2032.9L1460.0,2026.6L1465.0,2031.7L1472.1,2029.4L1477.9,2025.1L1482.1,2017.4L1492.1,2015.7L1500.7,2016.6L1506.4,2014.6L1511.3,2019.4L1515.9,2029.4L1522.1,2032.9L1535.0,2035.7L1544.4,2031.7L1549.3,2019.4L1553.6,2023.7L1559.3,2040.3L1563.6,2041.4L1568.4,2037.4L1573.6,2031.7L1579.3,2030.9L1584.4,2019.4L1589.3,2026.6L1595.0,2028.0L1599.3,2030.0L1605.0,2026.0L1609.3,2018.6L1613.6,2025.1L1620.7,2023.7L1627.9,2016.6L1632.1,2019.4L1637.0,2030.9L1642.1,2035.1L1647.3,2036.6L1652.1,2025.1L1657.9,2013.7L1666.4,2002.3L1670.7,2003.1L1676.4,2010.9L1680.7,2007.1L1685.6,2019.4L1690.7,2014.6L1695.9,2009.4L1700.7,2022.3L1706.4,2017.4L1715.0,2021.4L1720.7,2025.1L1725.6,2023.1L1730.1,2019.4L1735.0,2028.0L1739.9,2032.9L1745.0,2035.7L1749.3,2030.9L1754.1,2023.7L1758.7,2028.0L1763.6,2033.7L1768.4,2029.4L1775.0,2025.1L1779.3,2018.6L1783.6,2008.0L1788.4,2028.0L1793.0,2026.6L1797.9,2016.6L1803.6,2020.9L1807.9,2025.1L1812.1,2019.4L1817.0,2010.9L1822.1,2026.6L1827.3,2028.0L1831.3,2031.7L1836.4,2037.4L1841.6,2033.7L1847.9,2034.6L1853.6,2030.9L1860.7,2023.7L1865.0,2017.4L1870.7,2006.6L1876.4,2018.0L1880.7,2019.4L1885.6,2012.9L1890.7,2009.4L1895.9,2016.6L1900.7,2016.6L1905.6,2019.4L1910.1,2018.6L1915.0,2016.6L1919.3,2017.4L1924.4,2016.6L1928.4,2009.4L1933.6,1995.1L1939.3,1988.0L1943.6,1978.0L1948.4,1978.6L1953.6,2000.3L1956.4,1976.6L1962.1,1970.9L1967.9,1974.6L1975.9,1981.4" fill="none" stroke="#0000ff" stroke-width="5.6" stroke-linejoin="round" stroke-linecap="round" clip-path="url(#clipd3)"/>
<path d="M1570.7,1769.0V2076.8" stroke="#000" stroke-width="3" stroke-dasharray="18 18.5" stroke-dashoffset="31.4" fill="none"/>
<rect x="957.8" y="1769" width="1024.3" height="280" fill="none" stroke="#000" stroke-width="3.4"/>
<line x1="928.0" y1="1774.6" x2="957.8" y2="1774.6" stroke="#000" stroke-width="3.2" />
<text x="912.0" y="1791.2" text-anchor="end" style='font-family:"Liberation Sans", Arial, sans-serif;font-size:47.5px;' >10</text>
<line x1="928.0" y1="1828.3" x2="957.8" y2="1828.3" stroke="#000" stroke-width="3.2" />
<text x="912.0" y="1844.9" text-anchor="end" style='font-family:"Liberation Sans", Arial, sans-serif;font-size:47.5px;' >8</text>
<line x1="928.0" y1="1882.0" x2="957.8" y2="1882.0" stroke="#000" stroke-width="3.2" />
<text x="912.0" y="1898.6" text-anchor="end" style='font-family:"Liberation Sans", Arial, sans-serif;font-size:47.5px;' >6</text>
<line x1="928.0" y1="1935.7" x2="957.8" y2="1935.7" stroke="#000" stroke-width="3.2" />
<text x="912.0" y="1952.3" text-anchor="end" style='font-family:"Liberation Sans", Arial, sans-serif;font-size:47.5px;' >4</text>
<line x1="928.0" y1="1989.4" x2="957.8" y2="1989.4" stroke="#000" stroke-width="3.2" />
<text x="912.0" y="2006.0" text-anchor="end" style='font-family:"Liberation Sans", Arial, sans-serif;font-size:47.5px;' >2</text>
<line x1="928.0" y1="2043.1" x2="957.8" y2="2043.1" stroke="#000" stroke-width="3.2" />
<text x="912.0" y="2059.7" text-anchor="end" style='font-family:"Liberation Sans", Arial, sans-serif;font-size:47.5px;' >0</text>
<line x1="962.9" y1="2049.0" x2="962.9" y2="2076.8" stroke="#000" stroke-width="3.2" />
<text x="962.9" y="2133.3" text-anchor="middle" style='font-family:"Liberation Sans", Arial, sans-serif;font-size:47.5px;' >-3</text>
<line x1="1165.5" y1="2049.0" x2="1165.5" y2="2076.8" stroke="#000" stroke-width="3.2" />
<text x="1165.5" y="2133.3" text-anchor="middle" style='font-family:"Liberation Sans", Arial, sans-serif;font-size:47.5px;' >-2</text>
<line x1="1368.1" y1="2049.0" x2="1368.1" y2="2076.8" stroke="#000" stroke-width="3.2" />
<text x="1368.1" y="2133.3" text-anchor="middle" style='font-family:"Liberation Sans", Arial, sans-serif;font-size:47.5px;' >-1</text>
<line x1="1570.7" y1="2049.0" x2="1570.7" y2="2076.8" stroke="#000" stroke-width="3.2" />
<text x="1570.7" y="2133.3" text-anchor="middle" style='font-family:"Liberation Sans", Arial, sans-serif;font-size:47.5px;' >0</text>
<line x1="1773.3" y1="2049.0" x2="1773.3" y2="2076.8" stroke="#000" stroke-width="3.2" />
<text x="1773.3" y="2133.3" text-anchor="middle" style='font-family:"Liberation Sans", Arial, sans-serif;font-size:47.5px;' >1</text>
<line x1="1975.9" y1="2049.0" x2="1975.9" y2="2076.8" stroke="#000" stroke-width="3.2" />
<text x="1975.9" y="2133.3" text-anchor="middle" style='font-family:"Liberation Sans", Arial, sans-serif;font-size:47.5px;' >2</text>
<text x="764.0" y="1182.6" text-anchor="start" style='font-family:"Liberation Sans", Arial, sans-serif;font-size:58px;font-weight:bold;' >d</text>
<text x="1355.2" y="1262" style='font-family:"Liberation Sans", Arial, sans-serif;font-size:55px;'>Cr/Mn_<tspan font-style="italic">d</tspan></text>
<text x="1430" y="1529.6" style='font-family:"Liberation Sans", Arial, sans-serif;font-size:55px;'>Nb_<tspan font-style="italic">d</tspan></text>
<text x="1460.5" y="1882.4" style='font-family:"Liberation Sans", Arial, sans-serif;font-size:55px;'>S_<tspan font-style="italic">p</tspan></text>
<line x1="1594.3" y1="1822.8" x2="1695.3" y2="1822.8" stroke="#0000ff" stroke-width="5.8" />
<line x1="1594.3" y1="1893.1" x2="1695.3" y2="1893.1" stroke="#ff0000" stroke-width="5.8" />
<text x="1719" y="1839" style='font-family:"Liberation Sans", Arial, sans-serif;font-size:55px;'>Cr</text>
<text x="1776.5" y="1851.6" style='font-family:"Liberation Sans", Arial, sans-serif;font-size:36px;'>1/3</text>
<text x="1829.5" y="1839" style='font-family:"Liberation Sans", Arial, sans-serif;font-size:55px;'>NbS</text>
<text x="1935.5" y="1851.6" style='font-family:"Liberation Sans", Arial, sans-serif;font-size:36px;'>2</text>
<text x="1719" y="1910" style='font-family:"Liberation Sans", Arial, sans-serif;font-size:55px;'>Mn</text>
<text x="1794.8" y="1922.6" style='font-family:"Liberation Sans", Arial, sans-serif;font-size:36px;'>1/3</text>
<text x="1848" y="1910" style='font-family:"Liberation Sans", Arial, sans-serif;font-size:55px;'>NbS</text>
<text x="1954" y="1922.6" style='font-family:"Liberation Sans", Arial, sans-serif;font-size:36px;'>2</text>
<g transform="translate(812.7,1580.8) rotate(-90)">
<text x="0" y="0" text-anchor="middle" style='font-family:"Liberation Sans", Arial, sans-serif;font-size:54px;'>Density of states (eV<tspan font-size="36" dy="-36.5">-1</tspan><tspan dy="36.5" dx="4">)</tspan></text>
</g>
<text x="1358" y="2190.3" style='font-family:"Liberation Sans", Arial, sans-serif;font-size:55px;'><tspan font-style="italic">E-E</tspan><tspan font-size="35" dy="13.5">F</tspan><tspan dy="-13.5"> (eV)</tspan></text>
</svg></body></html>
